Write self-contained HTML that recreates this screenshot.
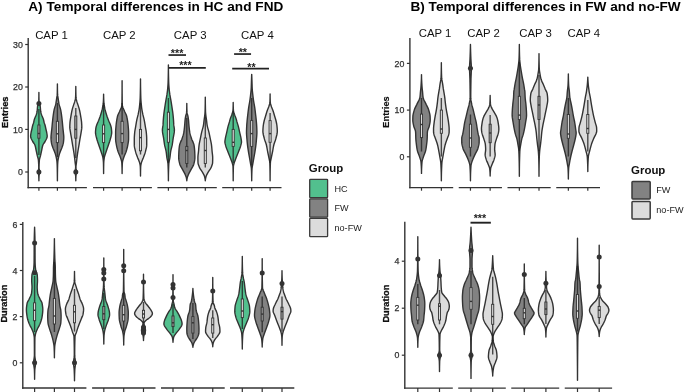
<!DOCTYPE html>
<html lang="en">
<head>
<meta charset="utf-8">
<title>Temporal differences</title>
<style>
html,body{margin:0;padding:0;background:#ffffff;}
body{width:685px;height:392px;overflow:hidden;}
svg{display:block;font-family:"Liberation Sans",Arial,Helvetica,sans-serif;}
</style>
</head>
<body>
<svg width="685" height="392" viewBox="0 0 685 392">
<rect x="0" y="0" width="685" height="392" fill="#ffffff"/>
<text x="28.2" y="11.2" font-size="13.6" font-weight="bold" text-anchor="start" fill="#000" textLength="255.2" lengthAdjust="spacing">A) Temporal differences in HC and FND</text>
<text x="410.4" y="11.1" font-size="13.6" font-weight="bold" text-anchor="start" fill="#000" textLength="270.3" lengthAdjust="spacing">B) Temporal differences in FW and no-FW</text>
<text x="51.5" y="39.4" font-size="11.4" font-weight="normal" text-anchor="middle" fill="#111">CAP 1</text>
<text x="119.3" y="39.4" font-size="11.4" font-weight="normal" text-anchor="middle" fill="#111">CAP 2</text>
<text x="190.2" y="39.4" font-size="11.4" font-weight="normal" text-anchor="middle" fill="#111">CAP 3</text>
<text x="257.4" y="39.4" font-size="11.4" font-weight="normal" text-anchor="middle" fill="#111">CAP 4</text>
<text x="435.0" y="36.9" font-size="11.35" font-weight="normal" text-anchor="middle" fill="#111">CAP 1</text>
<text x="483.6" y="36.9" font-size="11.35" font-weight="normal" text-anchor="middle" fill="#111">CAP 2</text>
<text x="535.5" y="36.9" font-size="11.35" font-weight="normal" text-anchor="middle" fill="#111">CAP 3</text>
<text x="583.8" y="36.9" font-size="11.35" font-weight="normal" text-anchor="middle" fill="#111">CAP 4</text>
<text x="8.1" y="112.2" font-size="9.25" font-weight="bold" text-anchor="middle" fill="#111" transform="rotate(-90 8.1 112.2)" stroke="#111" stroke-width="0.3">Entries</text>
<text x="7.0" y="303.6" font-size="9.25" font-weight="bold" text-anchor="middle" fill="#111" transform="rotate(-90 7.0 303.6)" stroke="#111" stroke-width="0.3">Duration</text>
<text x="389.2" y="112" font-size="9.25" font-weight="bold" text-anchor="middle" fill="#111" transform="rotate(-90 389.2 112)" stroke="#111" stroke-width="0.15">Entries</text>
<text x="389.3" y="303.6" font-size="9.25" font-weight="bold" text-anchor="middle" fill="#111" transform="rotate(-90 389.3 303.6)" stroke="#111" stroke-width="0.3">Duration</text>
<text x="308.85" y="171.6" font-size="11.45" font-weight="bold" text-anchor="start" fill="#111">Group</text>
<rect x="309.7" y="179.3" width="17.9" height="18.4" rx="0.8" fill="#52c08e" stroke="#3a3a3a" stroke-width="1.3"/>
<text x="334.5" y="191.5" font-size="9.1" font-weight="normal" text-anchor="start" fill="#222">HC</text>
<rect x="309.7" y="198.8" width="17.9" height="18.4" rx="0.8" fill="#828282" stroke="#3a3a3a" stroke-width="1.3"/>
<text x="334.5" y="211.0" font-size="9.1" font-weight="normal" text-anchor="start" fill="#222">FW</text>
<rect x="309.7" y="218.3" width="17.9" height="18.4" rx="0.8" fill="#dcdcdc" stroke="#3a3a3a" stroke-width="1.3"/>
<text x="334.5" y="230.5" font-size="9.1" font-weight="normal" text-anchor="start" fill="#222">no-FW</text>
<text x="631.05" y="173.5" font-size="11.45" font-weight="bold" text-anchor="start" fill="#111">Group</text>
<rect x="632.0" y="181.4" width="18.2" height="17.5" rx="0.8" fill="#828282" stroke="#3a3a3a" stroke-width="1.5"/>
<text x="656.3" y="192.9" font-size="9.1" font-weight="normal" text-anchor="start" fill="#222">FW</text>
<rect x="632.0" y="201.4" width="18.2" height="17.5" rx="0.8" fill="#dcdcdc" stroke="#3a3a3a" stroke-width="1.5"/>
<text x="656.3" y="212.9" font-size="9.1" font-weight="normal" text-anchor="start" fill="#222">no-FW</text>
<line x1="28.2" y1="38" x2="28.2" y2="188.29999999999998" stroke="#333333" stroke-width="1.4"/>
<line x1="25.2" y1="44.5" x2="28.2" y2="44.5" stroke="#333333" stroke-width="1.2"/>
<text x="22.8" y="47.65" font-size="8.8" font-weight="normal" text-anchor="end" fill="#303030" stroke="#303030" stroke-width="0.25">30</text>
<line x1="25.2" y1="87" x2="28.2" y2="87" stroke="#333333" stroke-width="1.2"/>
<text x="22.8" y="90.15" font-size="8.8" font-weight="normal" text-anchor="end" fill="#303030" stroke="#303030" stroke-width="0.25">20</text>
<line x1="25.2" y1="129.4" x2="28.2" y2="129.4" stroke="#333333" stroke-width="1.2"/>
<text x="22.8" y="132.55" font-size="8.8" font-weight="normal" text-anchor="end" fill="#303030" stroke="#303030" stroke-width="0.25">10</text>
<line x1="25.2" y1="172" x2="28.2" y2="172" stroke="#333333" stroke-width="1.2"/>
<text x="22.8" y="175.15" font-size="8.8" font-weight="normal" text-anchor="end" fill="#303030" stroke="#303030" stroke-width="0.25">0</text>
<line x1="27.5" y1="187.6" x2="86.9" y2="187.6" stroke="#333333" stroke-width="1.4"/>
<line x1="93.0" y1="187.6" x2="151.9" y2="187.6" stroke="#333333" stroke-width="1.4"/>
<line x1="157.4" y1="187.6" x2="216.8" y2="187.6" stroke="#333333" stroke-width="1.4"/>
<line x1="222.2" y1="187.6" x2="281.5" y2="187.6" stroke="#333333" stroke-width="1.4"/>
<line x1="38.9" y1="187.6" x2="38.9" y2="190.7" stroke="#333333" stroke-width="1.2"/>
<line x1="57.4" y1="187.6" x2="57.4" y2="190.7" stroke="#333333" stroke-width="1.2"/>
<line x1="75.8" y1="187.6" x2="75.8" y2="190.7" stroke="#333333" stroke-width="1.2"/>
<line x1="103.6" y1="187.6" x2="103.6" y2="190.7" stroke="#333333" stroke-width="1.2"/>
<line x1="122.1" y1="187.6" x2="122.1" y2="190.7" stroke="#333333" stroke-width="1.2"/>
<line x1="140.5" y1="187.6" x2="140.5" y2="190.7" stroke="#333333" stroke-width="1.2"/>
<line x1="168.4" y1="187.6" x2="168.4" y2="190.7" stroke="#333333" stroke-width="1.2"/>
<line x1="186.8" y1="187.6" x2="186.8" y2="190.7" stroke="#333333" stroke-width="1.2"/>
<line x1="205.3" y1="187.6" x2="205.3" y2="190.7" stroke="#333333" stroke-width="1.2"/>
<line x1="233.2" y1="187.6" x2="233.2" y2="190.7" stroke="#333333" stroke-width="1.2"/>
<line x1="251.7" y1="187.6" x2="251.7" y2="190.7" stroke="#333333" stroke-width="1.2"/>
<line x1="270.1" y1="187.6" x2="270.1" y2="190.7" stroke="#333333" stroke-width="1.2"/>
<path d="M38.90,92.50 L38.90,93.50 L38.89,94.50 L38.89,95.50 L38.88,96.50 L38.86,97.50 L38.84,98.50 L38.82,99.50 L38.79,100.50 L38.76,101.50 L38.72,102.50 L38.62,103.50 L38.24,104.50 L37.79,105.50 L37.56,106.50 L37.45,107.50 L37.38,108.50 L37.30,109.50 L37.20,110.50 L37.06,111.50 L36.87,112.50 L36.65,113.50 L36.35,114.50 L35.95,115.50 L35.52,116.50 L35.11,117.50 L34.68,118.50 L34.34,119.50 L34.10,120.50 L33.89,121.50 L33.66,122.50 L33.33,123.50 L32.96,124.50 L32.67,125.50 L32.43,126.50 L32.22,127.50 L32.01,128.50 L31.78,129.50 L31.54,130.50 L31.30,131.50 L31.09,132.50 L30.92,133.50 L30.76,134.50 L30.64,135.50 L30.61,136.50 L30.78,137.50 L31.15,138.50 L31.65,139.50 L32.19,140.50 L32.70,141.50 L33.35,142.50 L34.06,143.50 L34.68,144.50 L35.07,145.50 L35.35,146.50 L35.59,147.50 L35.79,148.50 L35.99,149.50 L36.19,150.50 L36.41,151.50 L36.63,152.50 L36.84,153.50 L37.06,154.50 L37.28,155.50 L37.53,156.50 L37.83,157.50 L38.12,158.50 L38.34,159.50 L38.44,160.50 L38.51,161.50 L38.58,162.50 L38.63,163.50 L38.68,164.50 L38.71,165.50 L38.74,166.50 L38.75,167.50 L38.73,168.50 L38.58,169.50 L38.37,170.50 L38.22,171.50 L38.22,172.50 L38.36,173.50 L38.55,174.50 L38.71,175.50 L38.78,176.50 L38.82,177.50 L38.86,178.50 L38.89,179.50 L38.90,180.50 L38.90,180.80 L38.90,180.80 L38.90,180.50 L38.91,179.50 L38.94,178.50 L38.98,177.50 L39.02,176.50 L39.09,175.50 L39.25,174.50 L39.44,173.50 L39.58,172.50 L39.58,171.50 L39.43,170.50 L39.22,169.50 L39.07,168.50 L39.05,167.50 L39.06,166.50 L39.09,165.50 L39.12,164.50 L39.17,163.50 L39.22,162.50 L39.29,161.50 L39.36,160.50 L39.46,159.50 L39.68,158.50 L39.97,157.50 L40.27,156.50 L40.52,155.50 L40.74,154.50 L40.96,153.50 L41.17,152.50 L41.39,151.50 L41.61,150.50 L41.81,149.50 L42.01,148.50 L42.21,147.50 L42.45,146.50 L42.73,145.50 L43.12,144.50 L43.74,143.50 L44.45,142.50 L45.10,141.50 L45.61,140.50 L46.15,139.50 L46.65,138.50 L47.02,137.50 L47.19,136.50 L47.16,135.50 L47.04,134.50 L46.88,133.50 L46.71,132.50 L46.50,131.50 L46.26,130.50 L46.02,129.50 L45.79,128.50 L45.58,127.50 L45.37,126.50 L45.13,125.50 L44.84,124.50 L44.47,123.50 L44.14,122.50 L43.91,121.50 L43.70,120.50 L43.46,119.50 L43.12,118.50 L42.69,117.50 L42.28,116.50 L41.85,115.50 L41.45,114.50 L41.15,113.50 L40.93,112.50 L40.74,111.50 L40.60,110.50 L40.50,109.50 L40.42,108.50 L40.35,107.50 L40.24,106.50 L40.01,105.50 L39.56,104.50 L39.18,103.50 L39.08,102.50 L39.04,101.50 L39.01,100.50 L38.98,99.50 L38.96,98.50 L38.94,97.50 L38.92,96.50 L38.91,95.50 L38.91,94.50 L38.90,93.50 L38.90,92.50Z" fill="#52c08e" stroke="#333333" stroke-width="1.4" stroke-linejoin="round"/>
<line x1="38.9" y1="109" x2="38.9" y2="155" stroke="#222" stroke-opacity="0.8" stroke-width="1.4"/>
<rect x="37.85" y="125" width="2.1" height="13.20" fill="#9a9a9a" stroke="#333333" stroke-width="0.9"/>
<line x1="37.85" y1="133.5" x2="39.95" y2="133.5" stroke="#333333" stroke-width="1.4"/>
<circle cx="38.9" cy="103.5" r="2.5" fill="#333333"/>
<circle cx="38.9" cy="172" r="2.5" fill="#333333"/>
<path d="M57.40,83.90 L57.40,84.90 L57.39,85.90 L57.39,86.90 L57.37,87.90 L57.36,88.90 L57.34,89.90 L57.32,90.90 L57.30,91.90 L57.27,92.90 L57.23,93.90 L57.20,94.90 L57.08,95.90 L56.90,96.90 L56.74,97.90 L56.59,98.90 L56.45,99.90 L56.30,100.90 L56.14,101.90 L55.97,102.90 L55.78,103.90 L55.54,104.90 L55.26,105.90 L54.95,106.90 L54.64,107.90 L54.36,108.90 L54.12,109.90 L53.93,110.90 L53.75,111.90 L53.59,112.90 L53.44,113.90 L53.30,114.90 L53.17,115.90 L53.04,116.90 L52.91,117.90 L52.80,118.90 L52.69,119.90 L52.59,120.90 L52.48,121.90 L52.38,122.90 L52.28,123.90 L52.19,124.90 L52.10,125.90 L52.01,126.90 L51.91,127.90 L51.81,128.90 L51.70,129.90 L51.58,130.90 L51.46,131.90 L51.36,132.90 L51.26,133.90 L51.15,134.90 L51.07,135.90 L51.01,136.90 L51.00,137.90 L51.04,138.90 L51.10,139.90 L51.20,140.90 L51.31,141.90 L51.44,142.90 L51.66,143.90 L51.95,144.90 L52.29,145.90 L52.65,146.90 L53.01,147.90 L53.40,148.90 L53.82,149.90 L54.25,150.90 L54.65,151.90 L55.00,152.90 L55.31,153.90 L55.61,154.90 L55.88,155.90 L56.13,156.90 L56.34,157.90 L56.54,158.90 L56.73,159.90 L56.89,160.90 L56.99,161.90 L57.06,162.90 L57.11,163.90 L57.16,164.90 L57.19,165.90 L57.22,166.90 L57.25,167.90 L57.27,168.90 L57.29,169.90 L57.30,170.90 L57.32,171.90 L57.34,172.90 L57.35,173.90 L57.36,174.90 L57.37,175.90 L57.38,176.90 L57.39,177.90 L57.40,178.90 L57.40,179.90 L57.40,180.80 L57.40,180.80 L57.40,179.90 L57.40,178.90 L57.41,177.90 L57.42,176.90 L57.43,175.90 L57.44,174.90 L57.45,173.90 L57.46,172.90 L57.48,171.90 L57.50,170.90 L57.51,169.90 L57.53,168.90 L57.55,167.90 L57.58,166.90 L57.61,165.90 L57.64,164.90 L57.69,163.90 L57.74,162.90 L57.81,161.90 L57.91,160.90 L58.07,159.90 L58.26,158.90 L58.46,157.90 L58.67,156.90 L58.92,155.90 L59.19,154.90 L59.49,153.90 L59.80,152.90 L60.15,151.90 L60.55,150.90 L60.98,149.90 L61.40,148.90 L61.79,147.90 L62.15,146.90 L62.51,145.90 L62.85,144.90 L63.14,143.90 L63.36,142.90 L63.49,141.90 L63.60,140.90 L63.70,139.90 L63.76,138.90 L63.80,137.90 L63.79,136.90 L63.73,135.90 L63.65,134.90 L63.54,133.90 L63.44,132.90 L63.34,131.90 L63.22,130.90 L63.10,129.90 L62.99,128.90 L62.89,127.90 L62.79,126.90 L62.70,125.90 L62.61,124.90 L62.52,123.90 L62.42,122.90 L62.32,121.90 L62.21,120.90 L62.11,119.90 L62.00,118.90 L61.89,117.90 L61.76,116.90 L61.63,115.90 L61.50,114.90 L61.36,113.90 L61.21,112.90 L61.05,111.90 L60.87,110.90 L60.68,109.90 L60.44,108.90 L60.16,107.90 L59.85,106.90 L59.54,105.90 L59.26,104.90 L59.02,103.90 L58.83,102.90 L58.66,101.90 L58.50,100.90 L58.35,99.90 L58.21,98.90 L58.06,97.90 L57.90,96.90 L57.72,95.90 L57.60,94.90 L57.57,93.90 L57.53,92.90 L57.50,91.90 L57.48,90.90 L57.46,89.90 L57.44,88.90 L57.43,87.90 L57.41,86.90 L57.41,85.90 L57.40,84.90 L57.40,83.90Z" fill="#828282" stroke="#333333" stroke-width="1.4" stroke-linejoin="round"/>
<line x1="57.4" y1="103" x2="57.4" y2="157" stroke="#222" stroke-opacity="0.8" stroke-width="1.4"/>
<rect x="56.35" y="121.3" width="2.1" height="21.30" fill="#dcdcdc" stroke="#333333" stroke-width="0.9"/>
<line x1="56.35" y1="133.8" x2="58.45" y2="133.8" stroke="#333333" stroke-width="1.4"/>
<path d="M75.80,86.40 L75.80,87.40 L75.79,88.40 L75.79,89.40 L75.77,90.40 L75.76,91.40 L75.74,92.40 L75.72,93.40 L75.70,94.40 L75.67,95.40 L75.63,96.40 L75.60,97.40 L75.49,98.40 L75.29,99.40 L75.05,100.40 L74.79,101.40 L74.48,102.40 L74.13,103.40 L73.81,104.40 L73.48,105.40 L73.15,106.40 L72.83,107.40 L72.52,108.40 L72.25,109.40 L72.01,110.40 L71.79,111.40 L71.59,112.40 L71.41,113.40 L71.23,114.40 L71.06,115.40 L70.90,116.40 L70.73,117.40 L70.56,118.40 L70.40,119.40 L70.25,120.40 L70.12,121.40 L70.02,122.40 L69.95,123.40 L69.89,124.40 L69.84,125.40 L69.81,126.40 L69.81,127.40 L69.87,128.40 L70.00,129.40 L70.15,130.40 L70.32,131.40 L70.49,132.40 L70.64,133.40 L70.81,134.40 L70.99,135.40 L71.17,136.40 L71.35,137.40 L71.53,138.40 L71.70,139.40 L71.86,140.40 L72.02,141.40 L72.18,142.40 L72.34,143.40 L72.50,144.40 L72.67,145.40 L72.84,146.40 L73.02,147.40 L73.19,148.40 L73.37,149.40 L73.54,150.40 L73.70,151.40 L73.85,152.40 L74.01,153.40 L74.15,154.40 L74.29,155.40 L74.43,156.40 L74.56,157.40 L74.69,158.40 L74.80,159.40 L74.91,160.40 L75.02,161.40 L75.13,162.40 L75.25,163.40 L75.39,164.40 L75.53,165.40 L75.63,166.40 L75.64,167.40 L75.54,168.40 L75.39,169.40 L75.23,170.40 L75.12,171.40 L75.11,172.40 L75.24,173.40 L75.43,174.40 L75.59,175.40 L75.67,176.40 L75.72,177.40 L75.76,178.40 L75.78,179.40 L75.80,180.40 L75.80,180.80 L75.80,180.80 L75.80,180.40 L75.82,179.40 L75.84,178.40 L75.88,177.40 L75.93,176.40 L76.01,175.40 L76.17,174.40 L76.36,173.40 L76.49,172.40 L76.48,171.40 L76.37,170.40 L76.21,169.40 L76.06,168.40 L75.96,167.40 L75.97,166.40 L76.07,165.40 L76.21,164.40 L76.35,163.40 L76.47,162.40 L76.58,161.40 L76.69,160.40 L76.80,159.40 L76.91,158.40 L77.04,157.40 L77.17,156.40 L77.31,155.40 L77.45,154.40 L77.59,153.40 L77.75,152.40 L77.90,151.40 L78.06,150.40 L78.23,149.40 L78.41,148.40 L78.58,147.40 L78.76,146.40 L78.93,145.40 L79.10,144.40 L79.26,143.40 L79.42,142.40 L79.58,141.40 L79.74,140.40 L79.90,139.40 L80.07,138.40 L80.25,137.40 L80.43,136.40 L80.61,135.40 L80.79,134.40 L80.96,133.40 L81.11,132.40 L81.28,131.40 L81.45,130.40 L81.60,129.40 L81.73,128.40 L81.79,127.40 L81.79,126.40 L81.76,125.40 L81.71,124.40 L81.65,123.40 L81.58,122.40 L81.48,121.40 L81.35,120.40 L81.20,119.40 L81.04,118.40 L80.87,117.40 L80.70,116.40 L80.54,115.40 L80.37,114.40 L80.19,113.40 L80.01,112.40 L79.81,111.40 L79.59,110.40 L79.35,109.40 L79.08,108.40 L78.77,107.40 L78.45,106.40 L78.12,105.40 L77.79,104.40 L77.47,103.40 L77.12,102.40 L76.81,101.40 L76.55,100.40 L76.31,99.40 L76.11,98.40 L76.00,97.40 L75.97,96.40 L75.93,95.40 L75.90,94.40 L75.88,93.40 L75.86,92.40 L75.84,91.40 L75.83,90.40 L75.81,89.40 L75.81,88.40 L75.80,87.40 L75.80,86.40Z" fill="#dcdcdc" stroke="#333333" stroke-width="1.4" stroke-linejoin="round"/>
<line x1="75.8" y1="108" x2="75.8" y2="158" stroke="#222" stroke-opacity="0.8" stroke-width="1.4"/>
<rect x="74.75" y="116" width="2.1" height="22.20" fill="#9a9a9a" stroke="#333333" stroke-width="0.9"/>
<line x1="74.75" y1="129.4" x2="76.85" y2="129.4" stroke="#333333" stroke-width="1.4"/>
<circle cx="75.8" cy="172" r="2.5" fill="#333333"/>
<path d="M103.60,94.20 L103.59,95.20 L103.58,96.20 L103.55,97.20 L103.52,98.20 L103.48,99.20 L103.44,100.20 L103.39,101.20 L103.32,102.20 L103.22,103.20 L103.10,104.20 L102.95,105.20 L102.80,106.20 L102.63,107.20 L102.45,108.20 L102.24,109.20 L101.99,110.20 L101.72,111.20 L101.44,112.20 L101.15,113.20 L100.85,114.20 L100.53,115.20 L100.20,116.20 L99.84,117.20 L99.48,118.20 L99.10,119.20 L98.72,120.20 L98.30,121.20 L97.85,122.20 L97.40,123.20 L96.98,124.20 L96.64,125.20 L96.32,126.20 L96.05,127.20 L95.87,128.20 L95.74,129.20 L95.63,130.20 L95.54,131.20 L95.50,132.20 L95.53,133.20 L95.65,134.20 L95.85,135.20 L96.09,136.20 L96.37,137.20 L96.64,138.20 L96.90,139.20 L97.19,140.20 L97.50,141.20 L97.84,142.20 L98.18,143.20 L98.53,144.20 L98.87,145.20 L99.21,146.20 L99.56,147.20 L99.91,148.20 L100.26,149.20 L100.60,150.20 L100.94,151.20 L101.27,152.20 L101.62,153.20 L101.96,154.20 L102.29,155.20 L102.58,156.20 L102.81,157.20 L102.98,158.20 L103.12,159.20 L103.24,160.20 L103.34,161.20 L103.42,162.20 L103.46,163.20 L103.48,164.20 L103.50,165.20 L103.53,166.20 L103.54,167.20 L103.56,168.20 L103.57,169.20 L103.58,170.20 L103.59,171.20 L103.60,172.20 L103.60,173.20 L103.60,173.60 L103.60,173.60 L103.60,173.20 L103.60,172.20 L103.61,171.20 L103.62,170.20 L103.63,169.20 L103.64,168.20 L103.66,167.20 L103.67,166.20 L103.70,165.20 L103.72,164.20 L103.74,163.20 L103.78,162.20 L103.86,161.20 L103.96,160.20 L104.08,159.20 L104.22,158.20 L104.39,157.20 L104.62,156.20 L104.91,155.20 L105.24,154.20 L105.58,153.20 L105.93,152.20 L106.26,151.20 L106.60,150.20 L106.94,149.20 L107.29,148.20 L107.64,147.20 L107.99,146.20 L108.33,145.20 L108.67,144.20 L109.02,143.20 L109.36,142.20 L109.70,141.20 L110.01,140.20 L110.30,139.20 L110.56,138.20 L110.83,137.20 L111.11,136.20 L111.35,135.20 L111.55,134.20 L111.67,133.20 L111.70,132.20 L111.66,131.20 L111.57,130.20 L111.46,129.20 L111.33,128.20 L111.15,127.20 L110.88,126.20 L110.56,125.20 L110.22,124.20 L109.80,123.20 L109.35,122.20 L108.90,121.20 L108.48,120.20 L108.10,119.20 L107.72,118.20 L107.36,117.20 L107.00,116.20 L106.67,115.20 L106.35,114.20 L106.05,113.20 L105.76,112.20 L105.48,111.20 L105.21,110.20 L104.96,109.20 L104.75,108.20 L104.57,107.20 L104.40,106.20 L104.25,105.20 L104.10,104.20 L103.98,103.20 L103.88,102.20 L103.81,101.20 L103.76,100.20 L103.72,99.20 L103.68,98.20 L103.65,97.20 L103.62,96.20 L103.61,95.20 L103.60,94.20Z" fill="#52c08e" stroke="#333333" stroke-width="1.4" stroke-linejoin="round"/>
<line x1="103.6" y1="103" x2="103.6" y2="157" stroke="#222" stroke-opacity="0.8" stroke-width="1.4"/>
<rect x="102.55" y="125" width="2.1" height="17.60" fill="#dcdcdc" stroke="#333333" stroke-width="0.9"/>
<line x1="102.55" y1="133.8" x2="104.65" y2="133.8" stroke="#333333" stroke-width="1.4"/>
<path d="M122.10,80.80 L122.10,81.80 L122.10,82.80 L122.10,83.80 L122.10,84.80 L122.09,85.80 L122.09,86.80 L122.09,87.80 L122.08,88.80 L122.08,89.80 L122.07,90.80 L122.07,91.80 L122.06,92.80 L122.05,93.80 L122.04,94.80 L122.04,95.80 L122.02,96.80 L122.01,97.80 L122.00,98.80 L121.99,99.80 L121.97,100.80 L121.96,101.80 L121.94,102.80 L121.92,103.80 L121.90,104.80 L121.82,105.80 L121.58,106.80 L121.21,107.80 L120.77,108.80 L120.32,109.80 L119.88,110.80 L119.46,111.80 L118.98,112.80 L118.48,113.80 L118.02,114.80 L117.66,115.80 L117.39,116.80 L117.16,117.80 L116.96,118.80 L116.79,119.80 L116.63,120.80 L116.49,121.80 L116.36,122.80 L116.24,123.80 L116.14,124.80 L116.04,125.80 L115.96,126.80 L115.87,127.80 L115.78,128.80 L115.71,129.80 L115.65,130.80 L115.61,131.80 L115.60,132.80 L115.60,133.80 L115.60,134.80 L115.60,135.80 L115.60,136.80 L115.60,137.80 L115.60,138.80 L115.63,139.80 L115.72,140.80 L115.85,141.80 L116.01,142.80 L116.19,143.80 L116.37,144.80 L116.55,145.80 L116.75,146.80 L116.99,147.80 L117.25,148.80 L117.52,149.80 L117.82,150.80 L118.13,151.80 L118.50,152.80 L118.92,153.80 L119.36,154.80 L119.79,155.80 L120.19,156.80 L120.53,157.80 L120.86,158.80 L121.19,159.80 L121.48,160.80 L121.70,161.80 L121.81,162.80 L121.86,163.80 L121.90,164.80 L121.95,165.80 L121.98,166.80 L122.02,167.80 L122.04,168.80 L122.06,169.80 L122.08,170.80 L122.09,171.80 L122.10,172.80 L122.10,173.60 L122.10,173.60 L122.10,172.80 L122.11,171.80 L122.12,170.80 L122.14,169.80 L122.16,168.80 L122.18,167.80 L122.22,166.80 L122.25,165.80 L122.30,164.80 L122.34,163.80 L122.39,162.80 L122.50,161.80 L122.72,160.80 L123.01,159.80 L123.34,158.80 L123.67,157.80 L124.01,156.80 L124.41,155.80 L124.84,154.80 L125.28,153.80 L125.70,152.80 L126.07,151.80 L126.38,150.80 L126.68,149.80 L126.95,148.80 L127.21,147.80 L127.45,146.80 L127.65,145.80 L127.83,144.80 L128.01,143.80 L128.19,142.80 L128.35,141.80 L128.48,140.80 L128.57,139.80 L128.60,138.80 L128.60,137.80 L128.60,136.80 L128.60,135.80 L128.60,134.80 L128.60,133.80 L128.60,132.80 L128.59,131.80 L128.55,130.80 L128.49,129.80 L128.42,128.80 L128.33,127.80 L128.24,126.80 L128.16,125.80 L128.06,124.80 L127.96,123.80 L127.84,122.80 L127.71,121.80 L127.57,120.80 L127.41,119.80 L127.24,118.80 L127.04,117.80 L126.81,116.80 L126.54,115.80 L126.18,114.80 L125.72,113.80 L125.22,112.80 L124.74,111.80 L124.32,110.80 L123.88,109.80 L123.43,108.80 L122.99,107.80 L122.62,106.80 L122.38,105.80 L122.30,104.80 L122.28,103.80 L122.26,102.80 L122.24,101.80 L122.23,100.80 L122.21,99.80 L122.20,98.80 L122.19,97.80 L122.18,96.80 L122.16,95.80 L122.16,94.80 L122.15,93.80 L122.14,92.80 L122.13,91.80 L122.13,90.80 L122.12,89.80 L122.12,88.80 L122.11,87.80 L122.11,86.80 L122.11,85.80 L122.10,84.80 L122.10,83.80 L122.10,82.80 L122.10,81.80 L122.10,80.80Z" fill="#828282" stroke="#333333" stroke-width="1.4" stroke-linejoin="round"/>
<line x1="122.1" y1="103" x2="122.1" y2="154.5" stroke="#222" stroke-opacity="0.8" stroke-width="1.4"/>
<rect x="121.05" y="121.3" width="2.1" height="21.30" fill="#dcdcdc" stroke="#333333" stroke-width="0.9"/>
<line x1="121.05" y1="133.6" x2="123.15" y2="133.6" stroke="#333333" stroke-width="1.4"/>
<path d="M140.50,78.90 L140.50,79.90 L140.50,80.90 L140.49,81.90 L140.48,82.90 L140.47,83.90 L140.46,84.90 L140.45,85.90 L140.44,86.90 L140.42,87.90 L140.40,88.90 L140.38,89.90 L140.36,90.90 L140.34,91.90 L140.32,92.90 L140.29,93.90 L140.27,94.90 L140.24,95.90 L140.21,96.90 L140.18,97.90 L140.14,98.90 L140.08,99.90 L140.02,100.90 L139.94,101.90 L139.86,102.90 L139.77,103.90 L139.67,104.90 L139.56,105.90 L139.46,106.90 L139.34,107.90 L139.20,108.90 L139.04,109.90 L138.86,110.90 L138.66,111.90 L138.46,112.90 L138.26,113.90 L138.04,114.90 L137.79,115.90 L137.54,116.90 L137.28,117.90 L137.04,118.90 L136.82,119.90 L136.63,120.90 L136.44,121.90 L136.27,122.90 L136.11,123.90 L135.94,124.90 L135.78,125.90 L135.62,126.90 L135.44,127.90 L135.26,128.90 L135.07,129.90 L134.90,130.90 L134.76,131.90 L134.66,132.90 L134.57,133.90 L134.49,134.90 L134.41,135.90 L134.35,136.90 L134.31,137.90 L134.30,138.90 L134.30,139.90 L134.30,140.90 L134.30,141.90 L134.30,142.90 L134.30,143.90 L134.30,144.90 L134.34,145.90 L134.46,146.90 L134.64,147.90 L134.87,148.90 L135.12,149.90 L135.38,150.90 L135.63,151.90 L135.93,152.90 L136.27,153.90 L136.64,154.90 L137.02,155.90 L137.40,156.90 L137.77,157.90 L138.17,158.90 L138.60,159.90 L139.01,160.90 L139.37,161.90 L139.65,162.90 L139.89,163.90 L140.10,164.90 L140.25,165.90 L140.32,166.90 L140.36,167.90 L140.39,168.90 L140.42,169.90 L140.44,170.90 L140.46,171.90 L140.48,172.90 L140.49,173.90 L140.50,174.90 L140.50,175.90 L140.50,176.00 L140.50,176.00 L140.50,175.90 L140.50,174.90 L140.51,173.90 L140.52,172.90 L140.54,171.90 L140.56,170.90 L140.58,169.90 L140.61,168.90 L140.64,167.90 L140.68,166.90 L140.75,165.90 L140.90,164.90 L141.11,163.90 L141.35,162.90 L141.63,161.90 L141.99,160.90 L142.40,159.90 L142.83,158.90 L143.23,157.90 L143.60,156.90 L143.98,155.90 L144.36,154.90 L144.73,153.90 L145.07,152.90 L145.37,151.90 L145.62,150.90 L145.88,149.90 L146.13,148.90 L146.36,147.90 L146.54,146.90 L146.66,145.90 L146.70,144.90 L146.70,143.90 L146.70,142.90 L146.70,141.90 L146.70,140.90 L146.70,139.90 L146.70,138.90 L146.69,137.90 L146.65,136.90 L146.59,135.90 L146.51,134.90 L146.43,133.90 L146.34,132.90 L146.24,131.90 L146.10,130.90 L145.93,129.90 L145.74,128.90 L145.56,127.90 L145.38,126.90 L145.22,125.90 L145.06,124.90 L144.89,123.90 L144.73,122.90 L144.56,121.90 L144.37,120.90 L144.18,119.90 L143.96,118.90 L143.72,117.90 L143.46,116.90 L143.21,115.90 L142.96,114.90 L142.74,113.90 L142.54,112.90 L142.34,111.90 L142.14,110.90 L141.96,109.90 L141.80,108.90 L141.66,107.90 L141.54,106.90 L141.44,105.90 L141.33,104.90 L141.23,103.90 L141.14,102.90 L141.06,101.90 L140.98,100.90 L140.92,99.90 L140.86,98.90 L140.82,97.90 L140.79,96.90 L140.76,95.90 L140.73,94.90 L140.71,93.90 L140.68,92.90 L140.66,91.90 L140.64,90.90 L140.62,89.90 L140.60,88.90 L140.58,87.90 L140.56,86.90 L140.55,85.90 L140.54,84.90 L140.53,83.90 L140.52,82.90 L140.51,81.90 L140.50,80.90 L140.50,79.90 L140.50,78.90Z" fill="#dcdcdc" stroke="#333333" stroke-width="1.4" stroke-linejoin="round"/>
<line x1="140.5" y1="103" x2="140.5" y2="154.5" stroke="#222" stroke-opacity="0.8" stroke-width="1.4"/>
<rect x="139.45" y="129.4" width="2.1" height="21.40" fill="#dcdcdc" stroke="#333333" stroke-width="0.9"/>
<line x1="139.45" y1="137.6" x2="141.55" y2="137.6" stroke="#333333" stroke-width="1.4"/>
<path d="M168.40,64.90 L168.40,65.90 L168.40,66.90 L168.39,67.90 L168.38,68.90 L168.37,69.90 L168.36,70.90 L168.34,71.90 L168.33,72.90 L168.31,73.90 L168.29,74.90 L168.27,75.90 L168.25,76.90 L168.22,77.90 L168.20,78.90 L168.17,79.90 L168.14,80.90 L168.11,81.90 L168.08,82.90 L168.03,83.90 L167.98,84.90 L167.91,85.90 L167.83,86.90 L167.75,87.90 L167.66,88.90 L167.56,89.90 L167.45,90.90 L167.32,91.90 L167.18,92.90 L167.03,93.90 L166.89,94.90 L166.72,95.90 L166.55,96.90 L166.36,97.90 L166.18,98.90 L165.99,99.90 L165.82,100.90 L165.65,101.90 L165.49,102.90 L165.33,103.90 L165.18,104.90 L165.03,105.90 L164.87,106.90 L164.72,107.90 L164.57,108.90 L164.42,109.90 L164.27,110.90 L164.13,111.90 L164.00,112.90 L163.88,113.90 L163.77,114.90 L163.66,115.90 L163.56,116.90 L163.47,117.90 L163.39,118.90 L163.31,119.90 L163.24,120.90 L163.19,121.90 L163.13,122.90 L163.08,123.90 L163.01,124.90 L162.90,125.90 L162.75,126.90 L162.59,127.90 L162.46,128.90 L162.40,129.90 L162.43,130.90 L162.51,131.90 L162.64,132.90 L162.80,133.90 L162.98,134.90 L163.18,135.90 L163.37,136.90 L163.56,137.90 L163.71,138.90 L163.86,139.90 L163.99,140.90 L164.12,141.90 L164.26,142.90 L164.42,143.90 L164.58,144.90 L164.78,145.90 L165.02,146.90 L165.28,147.90 L165.55,148.90 L165.79,149.90 L166.01,150.90 L166.18,151.90 L166.32,152.90 L166.44,153.90 L166.55,154.90 L166.67,155.90 L166.79,156.90 L166.93,157.90 L167.11,158.90 L167.32,159.90 L167.54,160.90 L167.74,161.90 L167.90,162.90 L167.99,163.90 L168.04,164.90 L168.08,165.90 L168.13,166.90 L168.16,167.90 L168.20,168.90 L168.23,169.90 L168.26,170.90 L168.29,171.90 L168.31,172.90 L168.33,173.90 L168.35,174.90 L168.37,175.90 L168.38,176.90 L168.39,177.90 L168.39,178.90 L168.40,179.90 L168.40,180.80 L168.40,180.80 L168.40,179.90 L168.41,178.90 L168.41,177.90 L168.42,176.90 L168.43,175.90 L168.45,174.90 L168.47,173.90 L168.49,172.90 L168.51,171.90 L168.54,170.90 L168.57,169.90 L168.60,168.90 L168.64,167.90 L168.67,166.90 L168.72,165.90 L168.76,164.90 L168.81,163.90 L168.90,162.90 L169.06,161.90 L169.26,160.90 L169.48,159.90 L169.69,158.90 L169.87,157.90 L170.01,156.90 L170.13,155.90 L170.25,154.90 L170.36,153.90 L170.48,152.90 L170.62,151.90 L170.79,150.90 L171.01,149.90 L171.25,148.90 L171.52,147.90 L171.78,146.90 L172.02,145.90 L172.22,144.90 L172.38,143.90 L172.54,142.90 L172.68,141.90 L172.81,140.90 L172.94,139.90 L173.09,138.90 L173.24,137.90 L173.43,136.90 L173.62,135.90 L173.82,134.90 L174.00,133.90 L174.16,132.90 L174.29,131.90 L174.37,130.90 L174.40,129.90 L174.34,128.90 L174.21,127.90 L174.05,126.90 L173.90,125.90 L173.79,124.90 L173.72,123.90 L173.67,122.90 L173.61,121.90 L173.56,120.90 L173.49,119.90 L173.41,118.90 L173.33,117.90 L173.24,116.90 L173.14,115.90 L173.03,114.90 L172.92,113.90 L172.80,112.90 L172.67,111.90 L172.53,110.90 L172.38,109.90 L172.23,108.90 L172.08,107.90 L171.93,106.90 L171.77,105.90 L171.62,104.90 L171.47,103.90 L171.31,102.90 L171.15,101.90 L170.98,100.90 L170.81,99.90 L170.62,98.90 L170.44,97.90 L170.25,96.90 L170.08,95.90 L169.91,94.90 L169.77,93.90 L169.62,92.90 L169.48,91.90 L169.35,90.90 L169.24,89.90 L169.14,88.90 L169.05,87.90 L168.97,86.90 L168.89,85.90 L168.82,84.90 L168.77,83.90 L168.72,82.90 L168.69,81.90 L168.66,80.90 L168.63,79.90 L168.60,78.90 L168.58,77.90 L168.55,76.90 L168.53,75.90 L168.51,74.90 L168.49,73.90 L168.47,72.90 L168.46,71.90 L168.44,70.90 L168.43,69.90 L168.42,68.90 L168.41,67.90 L168.40,66.90 L168.40,65.90 L168.40,64.90Z" fill="#52c08e" stroke="#333333" stroke-width="1.4" stroke-linejoin="round"/>
<line x1="168.4" y1="98" x2="168.4" y2="163" stroke="#222" stroke-opacity="0.8" stroke-width="1.4"/>
<rect x="167.35" y="112.2" width="2.1" height="30.10" fill="#dcdcdc" stroke="#333333" stroke-width="0.9"/>
<line x1="167.35" y1="129.4" x2="169.45" y2="129.4" stroke="#333333" stroke-width="1.4"/>
<path d="M186.80,103.40 L186.80,104.40 L186.79,105.40 L186.78,106.40 L186.76,107.40 L186.74,108.40 L186.71,109.40 L186.68,110.40 L186.64,111.40 L186.60,112.40 L186.44,113.40 L186.15,114.40 L185.84,115.40 L185.63,116.40 L185.45,117.40 L185.30,118.40 L185.17,119.40 L185.06,120.40 L184.97,121.40 L184.90,122.40 L184.83,123.40 L184.75,124.40 L184.66,125.40 L184.57,126.40 L184.47,127.40 L184.36,128.40 L184.25,129.40 L184.12,130.40 L183.98,131.40 L183.82,132.40 L183.62,133.40 L183.38,134.40 L183.10,135.40 L182.79,136.40 L182.46,137.40 L182.13,138.40 L181.78,139.40 L181.37,140.40 L180.91,141.40 L180.45,142.40 L180.05,143.40 L179.73,144.40 L179.53,145.40 L179.38,146.40 L179.25,147.40 L179.13,148.40 L179.04,149.40 L178.96,150.40 L178.90,151.40 L178.85,152.40 L178.81,153.40 L178.77,154.40 L178.73,155.40 L178.71,156.40 L178.70,157.40 L178.72,158.40 L178.81,159.40 L178.95,160.40 L179.14,161.40 L179.36,162.40 L179.60,163.40 L179.88,164.40 L180.27,165.40 L180.77,166.40 L181.33,167.40 L181.91,168.40 L182.48,169.40 L183.01,170.40 L183.55,171.40 L184.11,172.40 L184.65,173.40 L185.14,174.40 L185.56,175.40 L185.95,176.40 L186.25,177.40 L186.47,178.40 L186.65,179.40 L186.77,180.40 L186.80,180.80 L186.80,180.80 L186.83,180.40 L186.95,179.40 L187.13,178.40 L187.35,177.40 L187.65,176.40 L188.04,175.40 L188.46,174.40 L188.95,173.40 L189.49,172.40 L190.05,171.40 L190.59,170.40 L191.12,169.40 L191.69,168.40 L192.27,167.40 L192.83,166.40 L193.33,165.40 L193.72,164.40 L194.00,163.40 L194.24,162.40 L194.46,161.40 L194.65,160.40 L194.79,159.40 L194.88,158.40 L194.90,157.40 L194.89,156.40 L194.87,155.40 L194.83,154.40 L194.79,153.40 L194.75,152.40 L194.70,151.40 L194.64,150.40 L194.56,149.40 L194.47,148.40 L194.35,147.40 L194.22,146.40 L194.07,145.40 L193.87,144.40 L193.55,143.40 L193.15,142.40 L192.69,141.40 L192.23,140.40 L191.82,139.40 L191.47,138.40 L191.14,137.40 L190.81,136.40 L190.50,135.40 L190.22,134.40 L189.98,133.40 L189.78,132.40 L189.62,131.40 L189.48,130.40 L189.35,129.40 L189.24,128.40 L189.13,127.40 L189.03,126.40 L188.94,125.40 L188.85,124.40 L188.77,123.40 L188.70,122.40 L188.63,121.40 L188.54,120.40 L188.43,119.40 L188.30,118.40 L188.15,117.40 L187.97,116.40 L187.76,115.40 L187.45,114.40 L187.16,113.40 L187.00,112.40 L186.96,111.40 L186.92,110.40 L186.89,109.40 L186.86,108.40 L186.84,107.40 L186.82,106.40 L186.81,105.40 L186.80,104.40 L186.80,103.40Z" fill="#828282" stroke="#333333" stroke-width="1.4" stroke-linejoin="round"/>
<line x1="186.8" y1="118" x2="186.8" y2="167.6" stroke="#222" stroke-opacity="0.8" stroke-width="1.4"/>
<rect x="185.75" y="146.4" width="2.1" height="17.10" fill="#9a9a9a" stroke="#333333" stroke-width="0.9"/>
<line x1="185.75" y1="150.5" x2="187.85" y2="150.5" stroke="#333333" stroke-width="1.4"/>
<path d="M205.30,97.10 L205.30,98.10 L205.30,99.10 L205.29,100.10 L205.28,101.10 L205.27,102.10 L205.26,103.10 L205.25,104.10 L205.23,105.10 L205.21,106.10 L205.19,107.10 L205.17,108.10 L205.15,109.10 L205.12,110.10 L205.10,111.10 L205.05,112.10 L204.98,113.10 L204.89,114.10 L204.79,115.10 L204.67,116.10 L204.53,117.10 L204.38,118.10 L204.23,119.10 L204.09,120.10 L203.97,121.10 L203.86,122.10 L203.75,123.10 L203.63,124.10 L203.48,125.10 L203.29,126.10 L203.06,127.10 L202.80,128.10 L202.51,129.10 L202.23,130.10 L201.95,131.10 L201.69,132.10 L201.47,133.10 L201.25,134.10 L201.04,135.10 L200.84,136.10 L200.64,137.10 L200.44,138.10 L200.24,139.10 L200.03,140.10 L199.81,141.10 L199.60,142.10 L199.40,143.10 L199.23,144.10 L199.09,145.10 L198.97,146.10 L198.87,147.10 L198.78,148.10 L198.70,149.10 L198.62,150.10 L198.53,151.10 L198.43,152.10 L198.31,153.10 L198.18,154.10 L198.06,155.10 L197.97,156.10 L197.91,157.10 L197.90,158.10 L197.91,159.10 L197.92,160.10 L197.95,161.10 L197.98,162.10 L198.03,163.10 L198.22,164.10 L198.54,165.10 L198.95,166.10 L199.38,167.10 L199.84,168.10 L200.42,169.10 L201.08,170.10 L201.77,171.10 L202.42,172.10 L202.97,173.10 L203.52,174.10 L204.02,175.10 L204.41,176.10 L204.68,177.10 L204.93,178.10 L205.12,179.10 L205.26,180.10 L205.30,180.80 L205.30,180.80 L205.34,180.10 L205.48,179.10 L205.67,178.10 L205.92,177.10 L206.19,176.10 L206.58,175.10 L207.08,174.10 L207.63,173.10 L208.18,172.10 L208.83,171.10 L209.52,170.10 L210.18,169.10 L210.76,168.10 L211.22,167.10 L211.65,166.10 L212.06,165.10 L212.38,164.10 L212.57,163.10 L212.62,162.10 L212.65,161.10 L212.68,160.10 L212.69,159.10 L212.70,158.10 L212.69,157.10 L212.63,156.10 L212.54,155.10 L212.42,154.10 L212.29,153.10 L212.17,152.10 L212.07,151.10 L211.98,150.10 L211.90,149.10 L211.82,148.10 L211.73,147.10 L211.63,146.10 L211.51,145.10 L211.37,144.10 L211.20,143.10 L211.00,142.10 L210.79,141.10 L210.57,140.10 L210.36,139.10 L210.16,138.10 L209.96,137.10 L209.76,136.10 L209.56,135.10 L209.35,134.10 L209.13,133.10 L208.91,132.10 L208.65,131.10 L208.37,130.10 L208.09,129.10 L207.80,128.10 L207.54,127.10 L207.31,126.10 L207.12,125.10 L206.97,124.10 L206.85,123.10 L206.74,122.10 L206.63,121.10 L206.51,120.10 L206.37,119.10 L206.22,118.10 L206.07,117.10 L205.93,116.10 L205.81,115.10 L205.71,114.10 L205.62,113.10 L205.55,112.10 L205.50,111.10 L205.48,110.10 L205.45,109.10 L205.43,108.10 L205.41,107.10 L205.39,106.10 L205.37,105.10 L205.35,104.10 L205.34,103.10 L205.33,102.10 L205.32,101.10 L205.31,100.10 L205.30,99.10 L205.30,98.10 L205.30,97.10Z" fill="#dcdcdc" stroke="#333333" stroke-width="1.4" stroke-linejoin="round"/>
<line x1="205.3" y1="117" x2="205.3" y2="167.6" stroke="#222" stroke-opacity="0.8" stroke-width="1.4"/>
<rect x="204.25" y="138" width="2.1" height="25.50" fill="#dcdcdc" stroke="#333333" stroke-width="0.9"/>
<line x1="204.25" y1="150.5" x2="206.35" y2="150.5" stroke="#333333" stroke-width="1.4"/>
<path d="M233.20,102.40 L233.20,103.40 L233.19,104.40 L233.17,105.40 L233.14,106.40 L233.11,107.40 L233.08,108.40 L233.03,109.40 L232.97,110.40 L232.78,111.40 L232.50,112.40 L232.19,113.40 L231.88,114.40 L231.52,115.40 L231.13,116.40 L230.75,117.40 L230.40,118.40 L230.10,119.40 L229.83,120.40 L229.57,121.40 L229.28,122.40 L228.97,123.40 L228.66,124.40 L228.35,125.40 L228.07,126.40 L227.83,127.40 L227.59,128.40 L227.37,129.40 L227.16,130.40 L226.94,131.40 L226.72,132.40 L226.49,133.40 L226.25,134.40 L226.01,135.40 L225.77,136.40 L225.55,137.40 L225.37,138.40 L225.20,139.40 L225.04,140.40 L224.92,141.40 L224.92,142.40 L225.08,143.40 L225.34,144.40 L225.60,145.40 L225.90,146.40 L226.25,147.40 L226.62,148.40 L227.02,149.40 L227.41,150.40 L227.80,151.40 L228.19,152.40 L228.58,153.40 L228.99,154.40 L229.40,155.40 L229.80,156.40 L230.19,157.40 L230.57,158.40 L230.95,159.40 L231.33,160.40 L231.69,161.40 L232.01,162.40 L232.31,163.40 L232.61,164.40 L232.86,165.40 L233.00,166.40 L233.03,167.40 L233.06,168.40 L233.08,169.40 L233.10,170.40 L233.12,171.40 L233.14,172.40 L233.15,173.40 L233.17,174.40 L233.18,175.40 L233.18,176.40 L233.19,177.40 L233.20,178.40 L233.20,179.40 L233.20,180.40 L233.20,180.80 L233.20,180.80 L233.20,180.40 L233.20,179.40 L233.20,178.40 L233.21,177.40 L233.22,176.40 L233.22,175.40 L233.23,174.40 L233.25,173.40 L233.26,172.40 L233.28,171.40 L233.30,170.40 L233.32,169.40 L233.34,168.40 L233.37,167.40 L233.40,166.40 L233.54,165.40 L233.79,164.40 L234.09,163.40 L234.39,162.40 L234.71,161.40 L235.07,160.40 L235.45,159.40 L235.83,158.40 L236.21,157.40 L236.60,156.40 L237.00,155.40 L237.41,154.40 L237.82,153.40 L238.21,152.40 L238.60,151.40 L238.99,150.40 L239.38,149.40 L239.78,148.40 L240.15,147.40 L240.50,146.40 L240.80,145.40 L241.06,144.40 L241.32,143.40 L241.48,142.40 L241.48,141.40 L241.36,140.40 L241.20,139.40 L241.03,138.40 L240.85,137.40 L240.63,136.40 L240.39,135.40 L240.15,134.40 L239.91,133.40 L239.68,132.40 L239.46,131.40 L239.24,130.40 L239.03,129.40 L238.81,128.40 L238.57,127.40 L238.33,126.40 L238.05,125.40 L237.74,124.40 L237.43,123.40 L237.12,122.40 L236.83,121.40 L236.57,120.40 L236.30,119.40 L236.00,118.40 L235.65,117.40 L235.27,116.40 L234.88,115.40 L234.52,114.40 L234.21,113.40 L233.90,112.40 L233.62,111.40 L233.43,110.40 L233.37,109.40 L233.32,108.40 L233.29,107.40 L233.26,106.40 L233.23,105.40 L233.21,104.40 L233.20,103.40 L233.20,102.40Z" fill="#52c08e" stroke="#333333" stroke-width="1.4" stroke-linejoin="round"/>
<line x1="233.2" y1="110.5" x2="233.2" y2="163" stroke="#222" stroke-opacity="0.8" stroke-width="1.4"/>
<rect x="232.15" y="129.4" width="2.1" height="17.00" fill="#dcdcdc" stroke="#333333" stroke-width="0.9"/>
<line x1="232.15" y1="142.3" x2="234.25" y2="142.3" stroke="#333333" stroke-width="1.4"/>
<path d="M251.70,74.40 L251.66,75.40 L251.62,76.40 L251.58,77.40 L251.54,78.40 L251.50,79.40 L251.47,80.40 L251.43,81.40 L251.40,82.40 L251.37,83.40 L251.34,84.40 L251.31,85.40 L251.28,86.40 L251.25,87.40 L251.20,88.40 L251.15,89.40 L251.07,90.40 L250.97,91.40 L250.87,92.40 L250.76,93.40 L250.64,94.40 L250.53,95.40 L250.42,96.40 L250.29,97.40 L250.16,98.40 L250.03,99.40 L249.89,100.40 L249.74,101.40 L249.57,102.40 L249.40,103.40 L249.21,104.40 L249.03,105.40 L248.86,106.40 L248.70,107.40 L248.56,108.40 L248.42,109.40 L248.30,110.40 L248.17,111.40 L248.05,112.40 L247.94,113.40 L247.82,114.40 L247.70,115.40 L247.58,116.40 L247.47,117.40 L247.36,118.40 L247.26,119.40 L247.16,120.40 L247.07,121.40 L246.98,122.40 L246.89,123.40 L246.81,124.40 L246.75,125.40 L246.70,126.40 L246.65,127.40 L246.60,128.40 L246.56,129.40 L246.53,130.40 L246.51,131.40 L246.50,132.40 L246.51,133.40 L246.56,134.40 L246.62,135.40 L246.70,136.40 L246.78,137.40 L246.87,138.40 L246.95,139.40 L247.03,140.40 L247.12,141.40 L247.22,142.40 L247.32,143.40 L247.43,144.40 L247.55,145.40 L247.67,146.40 L247.80,147.40 L247.95,148.40 L248.09,149.40 L248.25,150.40 L248.40,151.40 L248.56,152.40 L248.73,153.40 L248.91,154.40 L249.09,155.40 L249.27,156.40 L249.45,157.40 L249.62,158.40 L249.80,159.40 L249.98,160.40 L250.15,161.40 L250.33,162.40 L250.50,163.40 L250.67,164.40 L250.86,165.40 L251.06,166.40 L251.23,167.40 L251.36,168.40 L251.42,169.40 L251.46,170.40 L251.51,171.40 L251.54,172.40 L251.58,173.40 L251.61,174.40 L251.63,175.40 L251.66,176.40 L251.67,177.40 L251.69,178.40 L251.70,179.40 L251.70,180.40 L251.70,180.80 L251.70,180.80 L251.70,180.40 L251.70,179.40 L251.71,178.40 L251.73,177.40 L251.74,176.40 L251.77,175.40 L251.79,174.40 L251.82,173.40 L251.86,172.40 L251.89,171.40 L251.94,170.40 L251.98,169.40 L252.04,168.40 L252.17,167.40 L252.34,166.40 L252.54,165.40 L252.73,164.40 L252.90,163.40 L253.07,162.40 L253.25,161.40 L253.42,160.40 L253.60,159.40 L253.78,158.40 L253.95,157.40 L254.13,156.40 L254.31,155.40 L254.49,154.40 L254.67,153.40 L254.84,152.40 L255.00,151.40 L255.15,150.40 L255.31,149.40 L255.45,148.40 L255.60,147.40 L255.73,146.40 L255.85,145.40 L255.97,144.40 L256.08,143.40 L256.18,142.40 L256.28,141.40 L256.37,140.40 L256.45,139.40 L256.53,138.40 L256.62,137.40 L256.70,136.40 L256.78,135.40 L256.84,134.40 L256.89,133.40 L256.90,132.40 L256.89,131.40 L256.87,130.40 L256.84,129.40 L256.80,128.40 L256.75,127.40 L256.70,126.40 L256.65,125.40 L256.59,124.40 L256.51,123.40 L256.42,122.40 L256.33,121.40 L256.24,120.40 L256.14,119.40 L256.04,118.40 L255.93,117.40 L255.82,116.40 L255.70,115.40 L255.58,114.40 L255.46,113.40 L255.35,112.40 L255.23,111.40 L255.10,110.40 L254.98,109.40 L254.84,108.40 L254.70,107.40 L254.54,106.40 L254.37,105.40 L254.19,104.40 L254.00,103.40 L253.83,102.40 L253.66,101.40 L253.51,100.40 L253.37,99.40 L253.24,98.40 L253.11,97.40 L252.98,96.40 L252.87,95.40 L252.76,94.40 L252.64,93.40 L252.53,92.40 L252.43,91.40 L252.33,90.40 L252.25,89.40 L252.20,88.40 L252.15,87.40 L252.12,86.40 L252.09,85.40 L252.06,84.40 L252.03,83.40 L252.00,82.40 L251.97,81.40 L251.93,80.40 L251.90,79.40 L251.86,78.40 L251.82,77.40 L251.78,76.40 L251.74,75.40 L251.70,74.40Z" fill="#828282" stroke="#333333" stroke-width="1.4" stroke-linejoin="round"/>
<line x1="251.7" y1="98" x2="251.7" y2="165.5" stroke="#222" stroke-opacity="0.8" stroke-width="1.4"/>
<rect x="250.65" y="120.6" width="2.1" height="25.80" fill="#dcdcdc" stroke="#333333" stroke-width="0.9"/>
<line x1="250.65" y1="133.6" x2="252.75" y2="133.6" stroke="#333333" stroke-width="1.4"/>
<path d="M270.10,94.00 L270.10,95.00 L270.09,96.00 L270.08,97.00 L270.06,98.00 L270.03,99.00 L270.00,100.00 L269.96,101.00 L269.92,102.00 L269.84,103.00 L269.62,104.00 L269.32,105.00 L269.00,106.00 L268.67,107.00 L268.28,108.00 L267.87,109.00 L267.46,110.00 L267.10,111.00 L266.78,112.00 L266.47,113.00 L266.18,114.00 L265.89,115.00 L265.60,116.00 L265.30,117.00 L264.99,118.00 L264.68,119.00 L264.40,120.00 L264.14,121.00 L263.93,122.00 L263.71,123.00 L263.52,124.00 L263.36,125.00 L263.23,126.00 L263.14,127.00 L263.05,128.00 L262.98,129.00 L262.93,130.00 L262.90,131.00 L262.92,132.00 L263.02,133.00 L263.19,134.00 L263.40,135.00 L263.66,136.00 L263.92,137.00 L264.19,138.00 L264.45,139.00 L264.75,140.00 L265.08,141.00 L265.44,142.00 L265.80,143.00 L266.13,144.00 L266.40,145.00 L266.62,146.00 L266.82,147.00 L267.00,148.00 L267.17,149.00 L267.34,150.00 L267.52,151.00 L267.72,152.00 L267.93,153.00 L268.14,154.00 L268.35,155.00 L268.56,156.00 L268.76,157.00 L268.96,158.00 L269.18,159.00 L269.40,160.00 L269.61,161.00 L269.75,162.00 L269.81,163.00 L269.84,164.00 L269.88,165.00 L269.91,166.00 L269.93,167.00 L269.96,168.00 L269.98,169.00 L270.00,170.00 L270.02,171.00 L270.04,172.00 L270.05,173.00 L270.06,174.00 L270.07,175.00 L270.08,176.00 L270.09,177.00 L270.09,178.00 L270.10,179.00 L270.10,180.00 L270.10,180.80 L270.10,180.80 L270.10,180.00 L270.10,179.00 L270.11,178.00 L270.11,177.00 L270.12,176.00 L270.13,175.00 L270.14,174.00 L270.15,173.00 L270.16,172.00 L270.18,171.00 L270.20,170.00 L270.22,169.00 L270.24,168.00 L270.27,167.00 L270.29,166.00 L270.32,165.00 L270.36,164.00 L270.39,163.00 L270.45,162.00 L270.59,161.00 L270.80,160.00 L271.02,159.00 L271.24,158.00 L271.44,157.00 L271.64,156.00 L271.85,155.00 L272.06,154.00 L272.27,153.00 L272.48,152.00 L272.68,151.00 L272.86,150.00 L273.03,149.00 L273.20,148.00 L273.38,147.00 L273.58,146.00 L273.80,145.00 L274.07,144.00 L274.40,143.00 L274.76,142.00 L275.12,141.00 L275.45,140.00 L275.75,139.00 L276.01,138.00 L276.28,137.00 L276.54,136.00 L276.80,135.00 L277.01,134.00 L277.18,133.00 L277.28,132.00 L277.30,131.00 L277.27,130.00 L277.22,129.00 L277.15,128.00 L277.06,127.00 L276.97,126.00 L276.84,125.00 L276.68,124.00 L276.49,123.00 L276.27,122.00 L276.06,121.00 L275.80,120.00 L275.52,119.00 L275.21,118.00 L274.90,117.00 L274.60,116.00 L274.31,115.00 L274.02,114.00 L273.73,113.00 L273.42,112.00 L273.10,111.00 L272.74,110.00 L272.33,109.00 L271.92,108.00 L271.53,107.00 L271.20,106.00 L270.88,105.00 L270.58,104.00 L270.36,103.00 L270.28,102.00 L270.24,101.00 L270.20,100.00 L270.17,99.00 L270.14,98.00 L270.12,97.00 L270.11,96.00 L270.10,95.00 L270.10,94.00Z" fill="#dcdcdc" stroke="#333333" stroke-width="1.4" stroke-linejoin="round"/>
<line x1="270.1" y1="113" x2="270.1" y2="163" stroke="#222" stroke-opacity="0.8" stroke-width="1.4"/>
<rect x="269.05" y="120.6" width="2.1" height="21.70" fill="#dcdcdc" stroke="#333333" stroke-width="0.9"/>
<line x1="269.05" y1="133.6" x2="271.15" y2="133.6" stroke="#333333" stroke-width="1.4"/>
<line x1="168.5" y1="55.05" x2="186" y2="55.05" stroke="#222" stroke-width="1.7"/>
<text x="177.1" y="56.9" font-size="10.7" font-weight="bold" text-anchor="middle" fill="#1c1c1c">***</text>
<line x1="168.5" y1="67.9" x2="205.8" y2="67.9" stroke="#222" stroke-width="1.7"/>
<text x="185.4" y="69.0" font-size="10.7" font-weight="bold" text-anchor="middle" fill="#1c1c1c">***</text>
<line x1="234.1" y1="54.05" x2="251.05" y2="54.05" stroke="#222" stroke-width="1.7"/>
<text x="242.8" y="55.75" font-size="10.7" font-weight="bold" text-anchor="middle" fill="#1c1c1c">**</text>
<line x1="232.2" y1="68.6" x2="269" y2="68.6" stroke="#222" stroke-width="1.7"/>
<text x="251.4" y="71.2" font-size="10.7" font-weight="bold" text-anchor="middle" fill="#1c1c1c">**</text>
<line x1="22.8" y1="221.9" x2="22.8" y2="388.7" stroke="#333333" stroke-width="1.4"/>
<line x1="19.8" y1="224.4" x2="22.8" y2="224.4" stroke="#333333" stroke-width="1.2"/>
<text x="17.5" y="227.55" font-size="8.8" font-weight="normal" text-anchor="end" fill="#303030" stroke="#303030" stroke-width="0.25">6</text>
<line x1="19.8" y1="270.5" x2="22.8" y2="270.5" stroke="#333333" stroke-width="1.2"/>
<text x="17.5" y="273.65" font-size="8.8" font-weight="normal" text-anchor="end" fill="#303030" stroke="#303030" stroke-width="0.25">4</text>
<line x1="19.8" y1="316.6" x2="22.8" y2="316.6" stroke="#333333" stroke-width="1.2"/>
<text x="17.5" y="319.75" font-size="8.8" font-weight="normal" text-anchor="end" fill="#303030" stroke="#303030" stroke-width="0.25">2</text>
<line x1="19.8" y1="362.8" x2="22.8" y2="362.8" stroke="#333333" stroke-width="1.2"/>
<text x="17.5" y="365.95" font-size="8.8" font-weight="normal" text-anchor="end" fill="#303030" stroke="#303030" stroke-width="0.25">0</text>
<line x1="22.1" y1="388.0" x2="86.4" y2="388.0" stroke="#333333" stroke-width="1.4"/>
<line x1="92.1" y1="388.0" x2="155.5" y2="388.0" stroke="#333333" stroke-width="1.4"/>
<line x1="161" y1="388.0" x2="224.7" y2="388.0" stroke="#333333" stroke-width="1.4"/>
<line x1="230" y1="388.0" x2="294.3" y2="388.0" stroke="#333333" stroke-width="1.4"/>
<line x1="34.6" y1="388.0" x2="34.6" y2="392.5" stroke="#333333" stroke-width="1.2"/>
<line x1="54.4" y1="388.0" x2="54.4" y2="392.5" stroke="#333333" stroke-width="1.2"/>
<line x1="74.5" y1="388.0" x2="74.5" y2="392.5" stroke="#333333" stroke-width="1.2"/>
<line x1="103.8" y1="388.0" x2="103.8" y2="392.5" stroke="#333333" stroke-width="1.2"/>
<line x1="123.7" y1="388.0" x2="123.7" y2="392.5" stroke="#333333" stroke-width="1.2"/>
<line x1="143.5" y1="388.0" x2="143.5" y2="392.5" stroke="#333333" stroke-width="1.2"/>
<line x1="173" y1="388.0" x2="173" y2="392.5" stroke="#333333" stroke-width="1.2"/>
<line x1="192.9" y1="388.0" x2="192.9" y2="392.5" stroke="#333333" stroke-width="1.2"/>
<line x1="212.75" y1="388.0" x2="212.75" y2="392.5" stroke="#333333" stroke-width="1.2"/>
<line x1="242.3" y1="388.0" x2="242.3" y2="392.5" stroke="#333333" stroke-width="1.2"/>
<line x1="262.2" y1="388.0" x2="262.2" y2="392.5" stroke="#333333" stroke-width="1.2"/>
<line x1="282" y1="388.0" x2="282" y2="392.5" stroke="#333333" stroke-width="1.2"/>
<path d="M34.60,227.30 L34.57,228.30 L34.53,229.30 L34.50,230.30 L34.47,231.30 L34.43,232.30 L34.40,233.30 L34.37,234.30 L34.35,235.30 L34.32,236.30 L34.29,237.30 L34.27,238.30 L34.25,239.30 L34.23,240.30 L34.22,241.30 L34.21,242.30 L34.20,243.30 L34.19,244.30 L34.18,245.30 L34.18,246.30 L34.17,247.30 L34.17,248.30 L34.16,249.30 L34.16,250.30 L34.16,251.30 L34.16,252.30 L34.15,253.30 L34.15,254.30 L34.15,255.30 L34.14,256.30 L34.14,257.30 L34.13,258.30 L34.12,259.30 L34.12,260.30 L34.11,261.30 L34.10,262.30 L34.07,263.30 L34.03,264.30 L33.98,265.30 L33.91,266.30 L33.83,267.30 L33.73,268.30 L33.62,269.30 L33.43,270.30 L33.08,271.30 L32.65,272.30 L32.27,273.30 L32.02,274.30 L31.93,275.30 L31.86,276.30 L31.80,277.30 L31.75,278.30 L31.72,279.30 L31.70,280.30 L31.71,281.30 L31.74,282.30 L31.81,283.30 L31.88,284.30 L31.94,285.30 L31.99,286.30 L32.00,287.30 L31.97,288.30 L31.92,289.30 L31.85,290.30 L31.75,291.30 L31.64,292.30 L31.51,293.30 L31.31,294.30 L30.95,295.30 L30.50,296.30 L30.01,297.30 L29.54,298.30 L29.06,299.30 L28.49,300.30 L27.92,301.30 L27.44,302.30 L27.12,303.30 L26.94,304.30 L26.78,305.30 L26.64,306.30 L26.52,307.30 L26.44,308.30 L26.40,309.30 L26.41,310.30 L26.45,311.30 L26.53,312.30 L26.64,313.30 L26.77,314.30 L26.91,315.30 L27.06,316.30 L27.22,317.30 L27.43,318.30 L27.68,319.30 L27.97,320.30 L28.29,321.30 L28.63,322.30 L28.99,323.30 L29.43,324.30 L29.93,325.30 L30.46,326.30 L30.99,327.30 L31.48,328.30 L31.93,329.30 L32.37,330.30 L32.80,331.30 L33.20,332.30 L33.52,333.30 L33.76,334.30 L33.97,335.30 L34.15,336.30 L34.27,337.30 L34.30,338.30 L34.32,339.30 L34.33,340.30 L34.34,341.30 L34.35,342.30 L34.36,343.30 L34.37,344.30 L34.37,345.30 L34.38,346.30 L34.38,347.30 L34.39,348.30 L34.39,349.30 L34.39,350.30 L34.40,351.30 L34.40,352.30 L34.40,353.30 L34.40,354.30 L34.40,355.30 L34.34,356.30 L34.23,357.30 L34.09,358.30 L33.94,359.30 L33.79,360.30 L33.68,361.30 L33.61,362.30 L33.61,363.30 L33.68,364.30 L33.80,365.30 L33.95,366.30 L34.11,367.30 L34.25,368.30 L34.36,369.30 L34.41,370.30 L34.45,371.30 L34.48,372.30 L34.51,373.30 L34.54,374.30 L34.56,375.30 L34.58,376.30 L34.59,377.30 L34.60,378.30 L34.60,379.20 L34.60,379.20 L34.60,378.30 L34.61,377.30 L34.62,376.30 L34.64,375.30 L34.66,374.30 L34.69,373.30 L34.72,372.30 L34.75,371.30 L34.79,370.30 L34.84,369.30 L34.95,368.30 L35.09,367.30 L35.25,366.30 L35.40,365.30 L35.52,364.30 L35.59,363.30 L35.59,362.30 L35.52,361.30 L35.41,360.30 L35.26,359.30 L35.11,358.30 L34.97,357.30 L34.86,356.30 L34.80,355.30 L34.80,354.30 L34.80,353.30 L34.80,352.30 L34.80,351.30 L34.81,350.30 L34.81,349.30 L34.81,348.30 L34.82,347.30 L34.82,346.30 L34.83,345.30 L34.83,344.30 L34.84,343.30 L34.85,342.30 L34.86,341.30 L34.87,340.30 L34.88,339.30 L34.90,338.30 L34.93,337.30 L35.05,336.30 L35.23,335.30 L35.44,334.30 L35.68,333.30 L36.00,332.30 L36.40,331.30 L36.83,330.30 L37.27,329.30 L37.72,328.30 L38.21,327.30 L38.74,326.30 L39.27,325.30 L39.77,324.30 L40.21,323.30 L40.57,322.30 L40.91,321.30 L41.23,320.30 L41.52,319.30 L41.77,318.30 L41.98,317.30 L42.14,316.30 L42.29,315.30 L42.43,314.30 L42.56,313.30 L42.67,312.30 L42.75,311.30 L42.79,310.30 L42.80,309.30 L42.76,308.30 L42.68,307.30 L42.56,306.30 L42.42,305.30 L42.26,304.30 L42.08,303.30 L41.76,302.30 L41.28,301.30 L40.71,300.30 L40.14,299.30 L39.66,298.30 L39.19,297.30 L38.70,296.30 L38.25,295.30 L37.89,294.30 L37.69,293.30 L37.56,292.30 L37.45,291.30 L37.35,290.30 L37.28,289.30 L37.23,288.30 L37.20,287.30 L37.21,286.30 L37.26,285.30 L37.32,284.30 L37.39,283.30 L37.46,282.30 L37.49,281.30 L37.50,280.30 L37.48,279.30 L37.45,278.30 L37.40,277.30 L37.34,276.30 L37.27,275.30 L37.18,274.30 L36.93,273.30 L36.55,272.30 L36.12,271.30 L35.77,270.30 L35.58,269.30 L35.47,268.30 L35.37,267.30 L35.29,266.30 L35.22,265.30 L35.17,264.30 L35.13,263.30 L35.10,262.30 L35.09,261.30 L35.08,260.30 L35.08,259.30 L35.07,258.30 L35.06,257.30 L35.06,256.30 L35.05,255.30 L35.05,254.30 L35.05,253.30 L35.04,252.30 L35.04,251.30 L35.04,250.30 L35.04,249.30 L35.03,248.30 L35.03,247.30 L35.02,246.30 L35.02,245.30 L35.01,244.30 L35.00,243.30 L34.99,242.30 L34.98,241.30 L34.97,240.30 L34.95,239.30 L34.93,238.30 L34.91,237.30 L34.88,236.30 L34.85,235.30 L34.83,234.30 L34.80,233.30 L34.77,232.30 L34.73,231.30 L34.70,230.30 L34.67,229.30 L34.63,228.30 L34.60,227.30Z" fill="#52c08e" stroke="#333333" stroke-width="1.4" stroke-linejoin="round"/>
<line x1="34.6" y1="276" x2="34.6" y2="332" stroke="#222" stroke-opacity="0.8" stroke-width="1.4"/>
<rect x="33.55" y="302.8" width="2.1" height="17.90" fill="#dcdcdc" stroke="#333333" stroke-width="0.9"/>
<line x1="33.55" y1="310.3" x2="35.65" y2="310.3" stroke="#333333" stroke-width="1.4"/>
<circle cx="34.6" cy="243" r="2.5" fill="#333333"/>
<circle cx="34.6" cy="272.7" r="2.5" fill="#333333"/>
<circle cx="34.6" cy="362.8" r="2.5" fill="#333333"/>
<path d="M54.40,238.60 L54.40,239.60 L54.39,240.60 L54.38,241.60 L54.37,242.60 L54.36,243.60 L54.34,244.60 L54.32,245.60 L54.30,246.60 L54.28,247.60 L54.26,248.60 L54.23,249.60 L54.21,250.60 L54.18,251.60 L54.15,252.60 L54.12,253.60 L54.09,254.60 L54.06,255.60 L54.03,256.60 L54.00,257.60 L53.97,258.60 L53.92,259.60 L53.87,260.60 L53.81,261.60 L53.75,262.60 L53.68,263.60 L53.63,264.60 L53.57,265.60 L53.53,266.60 L53.50,267.60 L53.48,268.60 L53.47,269.60 L53.46,270.60 L53.45,271.60 L53.43,272.60 L53.42,273.60 L53.40,274.60 L53.37,275.60 L53.34,276.60 L53.29,277.60 L53.24,278.60 L53.18,279.60 L53.12,280.60 L53.02,281.60 L52.86,282.60 L52.66,283.60 L52.44,284.60 L52.21,285.60 L51.98,286.60 L51.77,287.60 L51.55,288.60 L51.31,289.60 L51.08,290.60 L50.86,291.60 L50.65,292.60 L50.47,293.60 L50.30,294.60 L50.15,295.60 L50.01,296.60 L49.87,297.60 L49.74,298.60 L49.61,299.60 L49.49,300.60 L49.39,301.60 L49.29,302.60 L49.19,303.60 L49.08,304.60 L48.96,305.60 L48.79,306.60 L48.56,307.60 L48.30,308.60 L48.09,309.60 L47.98,310.60 L47.90,311.60 L47.83,312.60 L47.78,313.60 L47.74,314.60 L47.71,315.60 L47.70,316.60 L47.71,317.60 L47.74,318.60 L47.78,319.60 L47.84,320.60 L47.91,321.60 L47.98,322.60 L48.10,323.60 L48.29,324.60 L48.55,325.60 L48.85,326.60 L49.17,327.60 L49.48,328.60 L49.78,329.60 L50.10,330.60 L50.44,331.60 L50.79,332.60 L51.13,333.60 L51.46,334.60 L51.76,335.60 L52.04,336.60 L52.32,337.60 L52.59,338.60 L52.84,339.60 L53.07,340.60 L53.28,341.60 L53.48,342.60 L53.68,343.60 L53.86,344.60 L54.00,345.60 L54.09,346.60 L54.14,347.60 L54.19,348.60 L54.23,349.60 L54.27,350.60 L54.30,351.60 L54.33,352.60 L54.35,353.60 L54.37,354.60 L54.39,355.60 L54.40,356.60 L54.40,357.60 L54.40,357.80 L54.40,357.80 L54.40,357.60 L54.40,356.60 L54.41,355.60 L54.43,354.60 L54.45,353.60 L54.47,352.60 L54.50,351.60 L54.53,350.60 L54.57,349.60 L54.61,348.60 L54.66,347.60 L54.71,346.60 L54.80,345.60 L54.94,344.60 L55.12,343.60 L55.32,342.60 L55.52,341.60 L55.73,340.60 L55.96,339.60 L56.21,338.60 L56.48,337.60 L56.76,336.60 L57.04,335.60 L57.34,334.60 L57.67,333.60 L58.01,332.60 L58.36,331.60 L58.70,330.60 L59.02,329.60 L59.32,328.60 L59.63,327.60 L59.95,326.60 L60.25,325.60 L60.51,324.60 L60.70,323.60 L60.82,322.60 L60.89,321.60 L60.96,320.60 L61.02,319.60 L61.06,318.60 L61.09,317.60 L61.10,316.60 L61.09,315.60 L61.06,314.60 L61.02,313.60 L60.97,312.60 L60.90,311.60 L60.82,310.60 L60.71,309.60 L60.50,308.60 L60.24,307.60 L60.01,306.60 L59.84,305.60 L59.72,304.60 L59.61,303.60 L59.51,302.60 L59.41,301.60 L59.31,300.60 L59.19,299.60 L59.06,298.60 L58.93,297.60 L58.79,296.60 L58.65,295.60 L58.50,294.60 L58.33,293.60 L58.15,292.60 L57.94,291.60 L57.72,290.60 L57.49,289.60 L57.25,288.60 L57.03,287.60 L56.82,286.60 L56.59,285.60 L56.36,284.60 L56.14,283.60 L55.94,282.60 L55.78,281.60 L55.68,280.60 L55.62,279.60 L55.56,278.60 L55.51,277.60 L55.46,276.60 L55.43,275.60 L55.40,274.60 L55.38,273.60 L55.37,272.60 L55.35,271.60 L55.34,270.60 L55.33,269.60 L55.32,268.60 L55.30,267.60 L55.27,266.60 L55.23,265.60 L55.17,264.60 L55.12,263.60 L55.05,262.60 L54.99,261.60 L54.93,260.60 L54.88,259.60 L54.83,258.60 L54.80,257.60 L54.77,256.60 L54.74,255.60 L54.71,254.60 L54.68,253.60 L54.65,252.60 L54.62,251.60 L54.59,250.60 L54.57,249.60 L54.54,248.60 L54.52,247.60 L54.50,246.60 L54.48,245.60 L54.46,244.60 L54.44,243.60 L54.43,242.60 L54.42,241.60 L54.41,240.60 L54.40,239.60 L54.40,238.60Z" fill="#828282" stroke="#333333" stroke-width="1.4" stroke-linejoin="round"/>
<line x1="54.4" y1="262" x2="54.4" y2="332" stroke="#222" stroke-opacity="0.8" stroke-width="1.4"/>
<rect x="53.35" y="298.4" width="2.1" height="25.60" fill="#dcdcdc" stroke="#333333" stroke-width="0.9"/>
<line x1="53.35" y1="316" x2="55.45" y2="316" stroke="#333333" stroke-width="1.4"/>
<path d="M74.50,271.40 L74.50,272.40 L74.49,273.40 L74.48,274.40 L74.46,275.40 L74.44,276.40 L74.42,277.40 L74.39,278.40 L74.35,279.40 L74.32,280.40 L74.26,281.40 L74.10,282.40 L73.87,283.40 L73.59,284.40 L73.29,285.40 L72.98,286.40 L72.68,287.40 L72.36,288.40 L72.02,289.40 L71.66,290.40 L71.29,291.40 L70.94,292.40 L70.60,293.40 L70.29,294.40 L70.01,295.40 L69.73,296.40 L69.44,297.40 L69.14,298.40 L68.81,299.40 L68.41,300.40 L67.93,301.40 L67.41,302.40 L66.91,303.40 L66.50,304.40 L66.18,305.40 L65.86,306.40 L65.60,307.40 L65.43,308.40 L65.40,309.40 L65.45,310.40 L65.54,311.40 L65.66,312.40 L65.81,313.40 L65.98,314.40 L66.27,315.40 L66.66,316.40 L67.11,317.40 L67.55,318.40 L67.96,319.40 L68.36,320.40 L68.76,321.40 L69.17,322.40 L69.57,323.40 L69.96,324.40 L70.34,325.40 L70.69,326.40 L71.03,327.40 L71.36,328.40 L71.69,329.40 L72.01,330.40 L72.33,331.40 L72.69,332.40 L73.10,333.40 L73.49,334.40 L73.81,335.40 L73.99,336.40 L74.03,337.40 L74.06,338.40 L74.09,339.40 L74.12,340.40 L74.15,341.40 L74.17,342.40 L74.19,343.40 L74.21,344.40 L74.23,345.40 L74.24,346.40 L74.26,347.40 L74.27,348.40 L74.28,349.40 L74.29,350.40 L74.29,351.40 L74.30,352.40 L74.30,353.40 L74.30,354.40 L74.29,355.40 L74.23,356.40 L74.12,357.40 L73.98,358.40 L73.82,359.40 L73.68,360.40 L73.57,361.40 L73.51,362.40 L73.51,363.40 L73.58,364.40 L73.68,365.40 L73.81,366.40 L73.94,367.40 L74.07,368.40 L74.16,369.40 L74.22,370.40 L74.26,371.40 L74.30,372.40 L74.34,373.40 L74.38,374.40 L74.41,375.40 L74.44,376.40 L74.46,377.40 L74.48,378.40 L74.49,379.40 L74.50,380.40 L74.50,380.70 L74.50,380.70 L74.50,380.40 L74.51,379.40 L74.52,378.40 L74.54,377.40 L74.56,376.40 L74.59,375.40 L74.62,374.40 L74.66,373.40 L74.70,372.40 L74.74,371.40 L74.78,370.40 L74.84,369.40 L74.93,368.40 L75.06,367.40 L75.19,366.40 L75.32,365.40 L75.42,364.40 L75.49,363.40 L75.49,362.40 L75.43,361.40 L75.32,360.40 L75.18,359.40 L75.02,358.40 L74.88,357.40 L74.77,356.40 L74.71,355.40 L74.70,354.40 L74.70,353.40 L74.70,352.40 L74.71,351.40 L74.71,350.40 L74.72,349.40 L74.73,348.40 L74.74,347.40 L74.76,346.40 L74.77,345.40 L74.79,344.40 L74.81,343.40 L74.83,342.40 L74.85,341.40 L74.88,340.40 L74.91,339.40 L74.94,338.40 L74.97,337.40 L75.01,336.40 L75.19,335.40 L75.51,334.40 L75.90,333.40 L76.31,332.40 L76.67,331.40 L76.99,330.40 L77.31,329.40 L77.64,328.40 L77.97,327.40 L78.31,326.40 L78.66,325.40 L79.04,324.40 L79.43,323.40 L79.83,322.40 L80.24,321.40 L80.64,320.40 L81.04,319.40 L81.45,318.40 L81.89,317.40 L82.34,316.40 L82.73,315.40 L83.02,314.40 L83.19,313.40 L83.34,312.40 L83.46,311.40 L83.55,310.40 L83.60,309.40 L83.57,308.40 L83.40,307.40 L83.14,306.40 L82.82,305.40 L82.50,304.40 L82.09,303.40 L81.59,302.40 L81.07,301.40 L80.59,300.40 L80.19,299.40 L79.86,298.40 L79.56,297.40 L79.27,296.40 L78.99,295.40 L78.71,294.40 L78.40,293.40 L78.06,292.40 L77.71,291.40 L77.34,290.40 L76.98,289.40 L76.64,288.40 L76.32,287.40 L76.02,286.40 L75.71,285.40 L75.41,284.40 L75.13,283.40 L74.90,282.40 L74.74,281.40 L74.68,280.40 L74.65,279.40 L74.61,278.40 L74.58,277.40 L74.56,276.40 L74.54,275.40 L74.52,274.40 L74.51,273.40 L74.50,272.40 L74.50,271.40Z" fill="#dcdcdc" stroke="#333333" stroke-width="1.4" stroke-linejoin="round"/>
<line x1="74.5" y1="289" x2="74.5" y2="331.6" stroke="#222" stroke-opacity="0.8" stroke-width="1.4"/>
<rect x="73.45" y="305.3" width="2.1" height="17.50" fill="#dcdcdc" stroke="#333333" stroke-width="0.9"/>
<line x1="73.45" y1="311.8" x2="75.55" y2="311.8" stroke="#333333" stroke-width="1.4"/>
<circle cx="74.5" cy="362.8" r="2.5" fill="#333333"/>
<path d="M103.80,257.90 L103.80,258.90 L103.80,259.90 L103.80,260.90 L103.80,261.90 L103.79,262.90 L103.79,263.90 L103.78,264.90 L103.78,265.90 L103.77,266.90 L103.77,267.90 L103.76,268.90 L103.75,269.90 L103.74,270.90 L103.74,271.90 L103.73,272.90 L103.71,273.90 L103.70,274.90 L103.69,275.90 L103.68,276.90 L103.66,277.90 L103.65,278.90 L103.63,279.90 L103.61,280.90 L103.59,281.90 L103.58,282.90 L103.56,283.90 L103.53,284.90 L103.51,285.90 L103.48,286.90 L103.41,287.90 L103.30,288.90 L103.17,289.90 L103.03,290.90 L102.90,291.90 L102.78,292.90 L102.68,293.90 L102.58,294.90 L102.49,295.90 L102.38,296.90 L102.26,297.90 L102.12,298.90 L101.91,299.90 L101.63,300.90 L101.28,301.90 L100.90,302.90 L100.50,303.90 L100.12,304.90 L99.78,305.90 L99.49,306.90 L99.20,307.90 L98.90,308.90 L98.63,309.90 L98.39,310.90 L98.20,311.90 L98.09,312.90 L98.02,313.90 L98.00,314.90 L98.12,315.90 L98.36,316.90 L98.67,317.90 L98.97,318.90 L99.27,319.90 L99.62,320.90 L100.00,321.90 L100.39,322.90 L100.78,323.90 L101.13,324.90 L101.46,325.90 L101.79,326.90 L102.12,327.90 L102.43,328.90 L102.71,329.90 L102.95,330.90 L103.13,331.90 L103.28,332.90 L103.42,333.90 L103.53,334.90 L103.60,335.90 L103.64,336.90 L103.68,337.90 L103.71,338.90 L103.74,339.90 L103.77,340.90 L103.78,341.90 L103.80,342.90 L103.80,343.90 L103.80,344.00 L103.80,344.00 L103.80,343.90 L103.80,342.90 L103.82,341.90 L103.83,340.90 L103.86,339.90 L103.89,338.90 L103.92,337.90 L103.96,336.90 L104.00,335.90 L104.07,334.90 L104.18,333.90 L104.32,332.90 L104.47,331.90 L104.65,330.90 L104.89,329.90 L105.17,328.90 L105.48,327.90 L105.81,326.90 L106.14,325.90 L106.47,324.90 L106.82,323.90 L107.21,322.90 L107.60,321.90 L107.98,320.90 L108.33,319.90 L108.63,318.90 L108.93,317.90 L109.24,316.90 L109.48,315.90 L109.60,314.90 L109.58,313.90 L109.51,312.90 L109.40,311.90 L109.21,310.90 L108.97,309.90 L108.70,308.90 L108.40,307.90 L108.11,306.90 L107.82,305.90 L107.48,304.90 L107.10,303.90 L106.70,302.90 L106.32,301.90 L105.97,300.90 L105.69,299.90 L105.48,298.90 L105.34,297.90 L105.22,296.90 L105.11,295.90 L105.02,294.90 L104.92,293.90 L104.82,292.90 L104.70,291.90 L104.57,290.90 L104.43,289.90 L104.30,288.90 L104.19,287.90 L104.12,286.90 L104.09,285.90 L104.07,284.90 L104.04,283.90 L104.02,282.90 L104.01,281.90 L103.99,280.90 L103.97,279.90 L103.95,278.90 L103.94,277.90 L103.92,276.90 L103.91,275.90 L103.90,274.90 L103.89,273.90 L103.87,272.90 L103.86,271.90 L103.86,270.90 L103.85,269.90 L103.84,268.90 L103.83,267.90 L103.83,266.90 L103.82,265.90 L103.82,264.90 L103.81,263.90 L103.81,262.90 L103.80,261.90 L103.80,260.90 L103.80,259.90 L103.80,258.90 L103.80,257.90Z" fill="#52c08e" stroke="#333333" stroke-width="1.4" stroke-linejoin="round"/>
<line x1="103.8" y1="293" x2="103.8" y2="329" stroke="#222" stroke-opacity="0.8" stroke-width="1.4"/>
<rect x="102.75" y="306.5" width="2.1" height="13.20" fill="#9a9a9a" stroke="#333333" stroke-width="0.9"/>
<line x1="102.75" y1="313.8" x2="104.85" y2="313.8" stroke="#333333" stroke-width="1.4"/>
<circle cx="103.8" cy="269.5" r="2.5" fill="#333333"/>
<circle cx="103.8" cy="272.9" r="2.5" fill="#333333"/>
<circle cx="103.8" cy="278.9" r="2.5" fill="#333333"/>
<path d="M123.70,249.40 L123.70,250.40 L123.70,251.40 L123.70,252.40 L123.70,253.40 L123.70,254.40 L123.70,255.40 L123.70,256.40 L123.70,257.40 L123.69,258.40 L123.69,259.40 L123.69,260.40 L123.69,261.40 L123.69,262.40 L123.68,263.40 L123.68,264.40 L123.68,265.40 L123.67,266.40 L123.67,267.40 L123.66,268.40 L123.66,269.40 L123.65,270.40 L123.65,271.40 L123.64,272.40 L123.63,273.40 L123.62,274.40 L123.62,275.40 L123.61,276.40 L123.60,277.40 L123.59,278.40 L123.58,279.40 L123.57,280.40 L123.56,281.40 L123.54,282.40 L123.53,283.40 L123.52,284.40 L123.50,285.40 L123.49,286.40 L123.47,287.40 L123.45,288.40 L123.44,289.40 L123.42,290.40 L123.40,291.40 L123.21,292.40 L122.86,293.40 L122.63,294.40 L122.50,295.40 L122.39,296.40 L122.25,297.40 L122.02,298.40 L121.69,299.40 L121.37,300.40 L121.08,301.40 L120.79,302.40 L120.50,303.40 L120.24,304.40 L120.00,305.40 L119.82,306.40 L119.66,307.40 L119.50,308.40 L119.36,309.40 L119.24,310.40 L119.15,311.40 L119.10,312.40 L119.10,313.40 L119.12,314.40 L119.14,315.40 L119.17,316.40 L119.22,317.40 L119.27,318.40 L119.33,319.40 L119.46,320.40 L119.65,321.40 L119.89,322.40 L120.15,323.40 L120.43,324.40 L120.70,325.40 L120.99,326.40 L121.33,327.40 L121.69,328.40 L122.05,329.40 L122.37,330.40 L122.64,331.40 L122.84,332.40 L123.04,333.40 L123.21,334.40 L123.36,335.40 L123.46,336.40 L123.52,337.40 L123.56,338.40 L123.60,339.40 L123.63,340.40 L123.66,341.40 L123.68,342.40 L123.69,343.40 L123.70,344.40 L123.70,345.00 L123.70,345.00 L123.70,344.40 L123.71,343.40 L123.72,342.40 L123.74,341.40 L123.77,340.40 L123.80,339.40 L123.84,338.40 L123.88,337.40 L123.94,336.40 L124.04,335.40 L124.19,334.40 L124.36,333.40 L124.56,332.40 L124.76,331.40 L125.03,330.40 L125.35,329.40 L125.71,328.40 L126.07,327.40 L126.41,326.40 L126.70,325.40 L126.97,324.40 L127.25,323.40 L127.51,322.40 L127.75,321.40 L127.94,320.40 L128.07,319.40 L128.13,318.40 L128.18,317.40 L128.23,316.40 L128.26,315.40 L128.28,314.40 L128.30,313.40 L128.30,312.40 L128.25,311.40 L128.16,310.40 L128.04,309.40 L127.90,308.40 L127.74,307.40 L127.58,306.40 L127.40,305.40 L127.16,304.40 L126.90,303.40 L126.61,302.40 L126.32,301.40 L126.03,300.40 L125.71,299.40 L125.38,298.40 L125.15,297.40 L125.01,296.40 L124.90,295.40 L124.77,294.40 L124.54,293.40 L124.19,292.40 L124.00,291.40 L123.98,290.40 L123.96,289.40 L123.95,288.40 L123.93,287.40 L123.91,286.40 L123.90,285.40 L123.88,284.40 L123.87,283.40 L123.86,282.40 L123.84,281.40 L123.83,280.40 L123.82,279.40 L123.81,278.40 L123.80,277.40 L123.79,276.40 L123.78,275.40 L123.78,274.40 L123.77,273.40 L123.76,272.40 L123.75,271.40 L123.75,270.40 L123.74,269.40 L123.74,268.40 L123.73,267.40 L123.73,266.40 L123.72,265.40 L123.72,264.40 L123.72,263.40 L123.71,262.40 L123.71,261.40 L123.71,260.40 L123.71,259.40 L123.71,258.40 L123.70,257.40 L123.70,256.40 L123.70,255.40 L123.70,254.40 L123.70,253.40 L123.70,252.40 L123.70,251.40 L123.70,250.40 L123.70,249.40Z" fill="#828282" stroke="#333333" stroke-width="1.4" stroke-linejoin="round"/>
<line x1="123.7" y1="292" x2="123.7" y2="331.5" stroke="#222" stroke-opacity="0.8" stroke-width="1.4"/>
<rect x="122.65" y="305.3" width="2.1" height="15.70" fill="#dcdcdc" stroke="#333333" stroke-width="0.9"/>
<line x1="122.65" y1="314.7" x2="124.75" y2="314.7" stroke="#333333" stroke-width="1.4"/>
<circle cx="123.7" cy="265.7" r="2.5" fill="#333333"/>
<circle cx="123.7" cy="270.7" r="2.5" fill="#333333"/>
<path d="M143.50,274.30 L143.50,275.30 L143.50,276.30 L143.50,277.30 L143.49,278.30 L143.49,279.30 L143.49,280.30 L143.48,281.30 L143.47,282.30 L143.46,283.30 L143.45,284.30 L143.44,285.30 L143.43,286.30 L143.41,287.30 L143.40,288.30 L143.38,289.30 L143.36,290.30 L143.34,291.30 L143.32,292.30 L143.29,293.30 L143.26,294.30 L143.23,295.30 L143.20,296.30 L143.16,297.30 L143.13,298.30 L143.07,299.30 L142.80,300.30 L142.33,301.30 L141.78,302.30 L141.20,303.30 L140.48,304.30 L139.66,305.30 L138.85,306.30 L138.08,307.30 L137.27,308.30 L136.52,309.30 L135.90,310.30 L135.35,311.30 L134.87,312.30 L134.61,313.30 L134.75,314.30 L135.28,315.30 L135.98,316.30 L136.87,317.30 L138.20,318.30 L139.67,319.30 L140.90,320.30 L141.92,321.30 L142.77,322.30 L142.99,323.30 L142.86,324.30 L142.65,325.30 L142.44,326.30 L142.17,327.30 L141.87,328.30 L141.62,329.30 L141.50,330.30 L141.63,331.30 L141.99,332.30 L142.44,333.30 L142.83,334.30 L143.04,335.30 L143.18,336.30 L143.30,337.30 L143.40,338.30 L143.47,339.30 L143.50,340.30 L143.50,340.50 L143.50,340.50 L143.50,340.30 L143.53,339.30 L143.60,338.30 L143.70,337.30 L143.82,336.30 L143.96,335.30 L144.17,334.30 L144.56,333.30 L145.01,332.30 L145.37,331.30 L145.50,330.30 L145.38,329.30 L145.13,328.30 L144.83,327.30 L144.56,326.30 L144.35,325.30 L144.14,324.30 L144.01,323.30 L144.23,322.30 L145.08,321.30 L146.10,320.30 L147.33,319.30 L148.80,318.30 L150.13,317.30 L151.02,316.30 L151.72,315.30 L152.25,314.30 L152.39,313.30 L152.13,312.30 L151.65,311.30 L151.10,310.30 L150.48,309.30 L149.73,308.30 L148.92,307.30 L148.15,306.30 L147.34,305.30 L146.52,304.30 L145.80,303.30 L145.22,302.30 L144.67,301.30 L144.20,300.30 L143.93,299.30 L143.87,298.30 L143.84,297.30 L143.80,296.30 L143.77,295.30 L143.74,294.30 L143.71,293.30 L143.68,292.30 L143.66,291.30 L143.64,290.30 L143.62,289.30 L143.60,288.30 L143.59,287.30 L143.57,286.30 L143.56,285.30 L143.55,284.30 L143.54,283.30 L143.53,282.30 L143.52,281.30 L143.51,280.30 L143.51,279.30 L143.51,278.30 L143.50,277.30 L143.50,276.30 L143.50,275.30 L143.50,274.30Z" fill="#dcdcdc" stroke="#333333" stroke-width="1.4" stroke-linejoin="round"/>
<line x1="143.5" y1="302" x2="143.5" y2="323" stroke="#222" stroke-opacity="0.8" stroke-width="1.4"/>
<rect x="142.45" y="310.3" width="2.1" height="7.60" fill="#dcdcdc" stroke="#333333" stroke-width="0.9"/>
<line x1="142.45" y1="314" x2="144.55" y2="314" stroke="#333333" stroke-width="1.4"/>
<circle cx="143.5" cy="282" r="2.5" fill="#333333"/>
<circle cx="143.5" cy="327.2" r="2.5" fill="#333333"/>
<circle cx="143.5" cy="330.4" r="2.5" fill="#333333"/>
<circle cx="143.5" cy="333" r="2.5" fill="#333333"/>
<path d="M173.00,274.60 L173.00,275.60 L173.00,276.60 L173.00,277.60 L173.00,278.60 L172.99,279.60 L172.99,280.60 L172.99,281.60 L172.98,282.60 L172.98,283.60 L172.97,284.60 L172.96,285.60 L172.96,286.60 L172.95,287.60 L172.94,288.60 L172.92,289.60 L172.91,290.60 L172.90,291.60 L172.88,292.60 L172.87,293.60 L172.85,294.60 L172.83,295.60 L172.81,296.60 L172.79,297.60 L172.76,298.60 L172.74,299.60 L172.71,300.60 L172.64,301.60 L172.39,302.60 L172.10,303.60 L171.88,304.60 L171.70,305.60 L171.51,306.60 L171.26,307.60 L170.85,308.60 L170.21,309.60 L169.49,310.60 L168.84,311.60 L168.27,312.60 L167.70,313.60 L167.16,314.60 L166.66,315.60 L166.20,316.60 L165.76,317.60 L165.32,318.60 L164.90,319.60 L164.53,320.60 L164.23,321.60 L164.03,322.60 L163.92,323.60 L163.97,324.60 L164.33,325.60 L164.92,326.60 L165.62,327.60 L166.33,328.60 L167.01,329.60 L167.78,330.60 L168.61,331.60 L169.45,332.60 L170.22,333.60 L170.92,334.60 L171.63,335.60 L172.17,336.60 L172.43,337.60 L172.63,338.60 L172.80,339.60 L172.92,340.60 L172.99,341.60 L173.00,342.30 L173.00,342.30 L173.01,341.60 L173.08,340.60 L173.20,339.60 L173.37,338.60 L173.57,337.60 L173.83,336.60 L174.37,335.60 L175.08,334.60 L175.78,333.60 L176.55,332.60 L177.39,331.60 L178.22,330.60 L178.99,329.60 L179.67,328.60 L180.38,327.60 L181.08,326.60 L181.67,325.60 L182.03,324.60 L182.08,323.60 L181.97,322.60 L181.77,321.60 L181.47,320.60 L181.10,319.60 L180.68,318.60 L180.24,317.60 L179.80,316.60 L179.34,315.60 L178.84,314.60 L178.30,313.60 L177.73,312.60 L177.16,311.60 L176.51,310.60 L175.79,309.60 L175.15,308.60 L174.74,307.60 L174.49,306.60 L174.30,305.60 L174.12,304.60 L173.90,303.60 L173.61,302.60 L173.36,301.60 L173.29,300.60 L173.26,299.60 L173.24,298.60 L173.21,297.60 L173.19,296.60 L173.17,295.60 L173.15,294.60 L173.13,293.60 L173.12,292.60 L173.10,291.60 L173.09,290.60 L173.08,289.60 L173.06,288.60 L173.05,287.60 L173.04,286.60 L173.04,285.60 L173.03,284.60 L173.02,283.60 L173.02,282.60 L173.01,281.60 L173.01,280.60 L173.01,279.60 L173.00,278.60 L173.00,277.60 L173.00,276.60 L173.00,275.60 L173.00,274.60Z" fill="#52c08e" stroke="#333333" stroke-width="1.4" stroke-linejoin="round"/>
<line x1="173" y1="304" x2="173" y2="333" stroke="#222" stroke-opacity="0.8" stroke-width="1.4"/>
<rect x="171.95" y="316" width="2.1" height="10.60" fill="#9a9a9a" stroke="#333333" stroke-width="0.9"/>
<line x1="171.95" y1="322.8" x2="174.05" y2="322.8" stroke="#333333" stroke-width="1.4"/>
<circle cx="173" cy="284.6" r="2.5" fill="#333333"/>
<circle cx="173" cy="288" r="2.5" fill="#333333"/>
<circle cx="173" cy="297.5" r="2.5" fill="#333333"/>
<path d="M192.90,288.50 L192.86,289.50 L192.80,290.50 L192.72,291.50 L192.63,292.50 L192.52,293.50 L192.41,294.50 L192.29,295.50 L192.16,296.50 L192.03,297.50 L191.89,298.50 L191.72,299.50 L191.52,300.50 L191.29,301.50 L190.99,302.50 L190.47,303.50 L190.22,304.50 L190.09,305.50 L190.01,306.50 L189.94,307.50 L189.87,308.50 L189.77,309.50 L189.61,310.50 L189.36,311.50 L189.04,312.50 L188.69,313.50 L188.35,314.50 L188.04,315.50 L187.82,316.50 L187.66,317.50 L187.52,318.50 L187.40,319.50 L187.29,320.50 L187.20,321.50 L187.12,322.50 L187.05,323.50 L186.98,324.50 L186.92,325.50 L186.87,326.50 L186.83,327.50 L186.80,328.50 L186.80,329.50 L186.82,330.50 L186.84,331.50 L186.88,332.50 L186.96,333.50 L187.21,334.50 L187.57,335.50 L187.99,336.50 L188.44,337.50 L189.05,338.50 L189.75,339.50 L190.42,340.50 L191.02,341.50 L191.62,342.50 L192.10,343.50 L192.40,344.50 L192.66,345.50 L192.84,346.50 L192.90,347.30 L192.90,347.30 L192.96,346.50 L193.14,345.50 L193.40,344.50 L193.70,343.50 L194.18,342.50 L194.78,341.50 L195.38,340.50 L196.05,339.50 L196.75,338.50 L197.36,337.50 L197.81,336.50 L198.23,335.50 L198.59,334.50 L198.84,333.50 L198.92,332.50 L198.96,331.50 L198.98,330.50 L199.00,329.50 L199.00,328.50 L198.97,327.50 L198.93,326.50 L198.88,325.50 L198.82,324.50 L198.75,323.50 L198.68,322.50 L198.60,321.50 L198.51,320.50 L198.40,319.50 L198.28,318.50 L198.14,317.50 L197.98,316.50 L197.76,315.50 L197.45,314.50 L197.11,313.50 L196.76,312.50 L196.44,311.50 L196.19,310.50 L196.03,309.50 L195.93,308.50 L195.86,307.50 L195.79,306.50 L195.71,305.50 L195.58,304.50 L195.33,303.50 L194.81,302.50 L194.51,301.50 L194.28,300.50 L194.08,299.50 L193.91,298.50 L193.77,297.50 L193.64,296.50 L193.51,295.50 L193.39,294.50 L193.28,293.50 L193.17,292.50 L193.08,291.50 L193.00,290.50 L192.94,289.50 L192.90,288.50Z" fill="#828282" stroke="#333333" stroke-width="1.4" stroke-linejoin="round"/>
<line x1="192.9" y1="303" x2="192.9" y2="339" stroke="#222" stroke-opacity="0.8" stroke-width="1.4"/>
<rect x="191.85" y="316.6" width="2.1" height="16.50" fill="#9a9a9a" stroke="#333333" stroke-width="0.9"/>
<line x1="191.85" y1="322.8" x2="193.95" y2="322.8" stroke="#333333" stroke-width="1.4"/>
<path d="M212.75,277.40 L212.75,278.40 L212.75,279.40 L212.75,280.40 L212.75,281.40 L212.74,282.40 L212.74,283.40 L212.73,284.40 L212.73,285.40 L212.72,286.40 L212.71,287.40 L212.71,288.40 L212.70,289.40 L212.69,290.40 L212.67,291.40 L212.66,292.40 L212.64,293.40 L212.63,294.40 L212.61,295.40 L212.59,296.40 L212.57,297.40 L212.55,298.40 L212.52,299.40 L212.50,300.40 L212.47,301.40 L212.41,302.40 L212.11,303.40 L211.66,304.40 L211.23,305.40 L210.98,306.40 L210.83,307.40 L210.56,308.40 L210.09,309.40 L209.55,310.40 L209.09,311.40 L208.75,312.40 L208.43,313.40 L208.15,314.40 L207.90,315.40 L207.69,316.40 L207.52,317.40 L207.39,318.40 L207.27,319.40 L207.16,320.40 L207.05,321.40 L206.91,322.40 L206.74,323.40 L206.50,324.40 L206.24,325.40 L205.99,326.40 L205.81,327.40 L205.71,328.40 L205.63,329.40 L205.58,330.40 L205.55,331.40 L205.67,332.40 L206.11,333.40 L206.72,334.40 L207.40,335.40 L208.06,336.40 L208.89,337.40 L209.76,338.40 L210.52,339.40 L211.14,340.40 L211.70,341.40 L212.10,342.40 L212.33,343.40 L212.53,344.40 L212.67,345.40 L212.75,346.40 L212.75,346.70 L212.75,346.70 L212.75,346.40 L212.83,345.40 L212.97,344.40 L213.17,343.40 L213.40,342.40 L213.80,341.40 L214.36,340.40 L214.98,339.40 L215.74,338.40 L216.61,337.40 L217.44,336.40 L218.10,335.40 L218.78,334.40 L219.39,333.40 L219.83,332.40 L219.95,331.40 L219.92,330.40 L219.87,329.40 L219.79,328.40 L219.69,327.40 L219.51,326.40 L219.26,325.40 L219.00,324.40 L218.76,323.40 L218.59,322.40 L218.45,321.40 L218.34,320.40 L218.23,319.40 L218.11,318.40 L217.98,317.40 L217.81,316.40 L217.60,315.40 L217.35,314.40 L217.07,313.40 L216.75,312.40 L216.41,311.40 L215.95,310.40 L215.41,309.40 L214.94,308.40 L214.67,307.40 L214.52,306.40 L214.27,305.40 L213.84,304.40 L213.39,303.40 L213.09,302.40 L213.03,301.40 L213.00,300.40 L212.98,299.40 L212.95,298.40 L212.93,297.40 L212.91,296.40 L212.89,295.40 L212.87,294.40 L212.86,293.40 L212.84,292.40 L212.83,291.40 L212.81,290.40 L212.80,289.40 L212.79,288.40 L212.79,287.40 L212.78,286.40 L212.77,285.40 L212.77,284.40 L212.76,283.40 L212.76,282.40 L212.75,281.40 L212.75,280.40 L212.75,279.40 L212.75,278.40 L212.75,277.40Z" fill="#dcdcdc" stroke="#333333" stroke-width="1.4" stroke-linejoin="round"/>
<line x1="212.75" y1="310.3" x2="212.75" y2="338" stroke="#222" stroke-opacity="0.8" stroke-width="1.4"/>
<rect x="211.70" y="318" width="2.1" height="15.10" fill="#dcdcdc" stroke="#333333" stroke-width="0.9"/>
<line x1="211.70" y1="324.7" x2="213.80" y2="324.7" stroke="#333333" stroke-width="1.4"/>
<circle cx="212.75" cy="290.9" r="2.5" fill="#333333"/>
<path d="M242.30,256.40 L242.30,257.40 L242.30,258.40 L242.29,259.40 L242.28,260.40 L242.27,261.40 L242.26,262.40 L242.25,263.40 L242.23,264.40 L242.21,265.40 L242.19,266.40 L242.16,267.40 L242.14,268.40 L242.11,269.40 L242.08,270.40 L242.04,271.40 L242.01,272.40 L241.95,273.40 L241.83,274.40 L241.68,275.40 L241.51,276.40 L241.33,277.40 L241.15,278.40 L240.94,279.40 L240.72,280.40 L240.51,281.40 L240.33,282.40 L240.19,283.40 L240.07,284.40 L239.96,285.40 L239.85,286.40 L239.74,287.40 L239.61,288.40 L239.49,289.40 L239.36,290.40 L239.23,291.40 L239.08,292.40 L238.91,293.40 L238.71,294.40 L238.45,295.40 L238.14,296.40 L237.79,297.40 L237.43,298.40 L237.08,299.40 L236.77,300.40 L236.45,301.40 L236.12,302.40 L235.80,303.40 L235.50,304.40 L235.26,305.40 L235.11,306.40 L235.02,307.40 L234.94,308.40 L234.87,309.40 L234.82,310.40 L234.80,311.40 L234.84,312.40 L234.97,313.40 L235.16,314.40 L235.40,315.40 L235.65,316.40 L235.92,317.40 L236.25,318.40 L236.64,319.40 L237.06,320.40 L237.48,321.40 L237.90,322.40 L238.30,323.40 L238.72,324.40 L239.14,325.40 L239.57,326.40 L239.98,327.40 L240.34,328.40 L240.66,329.40 L240.96,330.40 L241.26,331.40 L241.52,332.40 L241.71,333.40 L241.81,334.40 L241.88,335.40 L241.94,336.40 L241.99,337.40 L242.04,338.40 L242.09,339.40 L242.13,340.40 L242.17,341.40 L242.20,342.40 L242.23,343.40 L242.25,344.40 L242.27,345.40 L242.28,346.40 L242.29,347.40 L242.30,348.40 L242.30,349.00 L242.30,349.00 L242.30,348.40 L242.31,347.40 L242.32,346.40 L242.33,345.40 L242.35,344.40 L242.37,343.40 L242.40,342.40 L242.43,341.40 L242.47,340.40 L242.51,339.40 L242.56,338.40 L242.61,337.40 L242.66,336.40 L242.72,335.40 L242.79,334.40 L242.89,333.40 L243.08,332.40 L243.34,331.40 L243.64,330.40 L243.94,329.40 L244.26,328.40 L244.62,327.40 L245.03,326.40 L245.46,325.40 L245.88,324.40 L246.30,323.40 L246.70,322.40 L247.12,321.40 L247.54,320.40 L247.96,319.40 L248.35,318.40 L248.68,317.40 L248.95,316.40 L249.20,315.40 L249.44,314.40 L249.63,313.40 L249.76,312.40 L249.80,311.40 L249.78,310.40 L249.73,309.40 L249.66,308.40 L249.58,307.40 L249.49,306.40 L249.34,305.40 L249.10,304.40 L248.80,303.40 L248.48,302.40 L248.15,301.40 L247.83,300.40 L247.52,299.40 L247.17,298.40 L246.81,297.40 L246.46,296.40 L246.15,295.40 L245.89,294.40 L245.69,293.40 L245.52,292.40 L245.37,291.40 L245.24,290.40 L245.11,289.40 L244.99,288.40 L244.86,287.40 L244.75,286.40 L244.64,285.40 L244.53,284.40 L244.41,283.40 L244.27,282.40 L244.09,281.40 L243.88,280.40 L243.66,279.40 L243.45,278.40 L243.27,277.40 L243.09,276.40 L242.92,275.40 L242.77,274.40 L242.65,273.40 L242.59,272.40 L242.56,271.40 L242.52,270.40 L242.49,269.40 L242.46,268.40 L242.44,267.40 L242.41,266.40 L242.39,265.40 L242.37,264.40 L242.35,263.40 L242.34,262.40 L242.33,261.40 L242.32,260.40 L242.31,259.40 L242.30,258.40 L242.30,257.40 L242.30,256.40Z" fill="#52c08e" stroke="#333333" stroke-width="1.4" stroke-linejoin="round"/>
<line x1="242.3" y1="281" x2="242.3" y2="329" stroke="#222" stroke-opacity="0.8" stroke-width="1.4"/>
<rect x="241.25" y="299" width="2.1" height="18.60" fill="#dcdcdc" stroke="#333333" stroke-width="0.9"/>
<line x1="241.25" y1="311" x2="243.35" y2="311" stroke="#333333" stroke-width="1.4"/>
<path d="M262.20,258.60 L262.20,259.60 L262.20,260.60 L262.20,261.60 L262.20,262.60 L262.19,263.60 L262.19,264.60 L262.19,265.60 L262.19,266.60 L262.18,267.60 L262.18,268.60 L262.17,269.60 L262.16,270.60 L262.16,271.60 L262.15,272.60 L262.14,273.60 L262.13,274.60 L262.12,275.60 L262.11,276.60 L262.09,277.60 L262.08,278.60 L262.07,279.60 L262.05,280.60 L262.03,281.60 L262.01,282.60 L261.99,283.60 L261.97,284.60 L261.95,285.60 L261.93,286.60 L261.90,287.60 L261.79,288.60 L261.50,289.60 L261.09,290.60 L260.65,291.60 L260.24,292.60 L259.86,293.60 L259.46,294.60 L259.04,295.60 L258.60,296.60 L258.18,297.60 L257.81,298.60 L257.47,299.60 L257.15,300.60 L256.85,301.60 L256.56,302.60 L256.30,303.60 L256.05,304.60 L255.81,305.60 L255.57,306.60 L255.35,307.60 L255.15,308.60 L254.99,309.60 L254.87,310.60 L254.75,311.60 L254.65,312.60 L254.56,313.60 L254.51,314.60 L254.51,315.60 L254.59,316.60 L254.76,317.60 L254.99,318.60 L255.25,319.60 L255.53,320.60 L255.80,321.60 L256.08,322.60 L256.39,323.60 L256.72,324.60 L257.08,325.60 L257.44,326.60 L257.79,327.60 L258.15,328.60 L258.52,329.60 L258.90,330.60 L259.27,331.60 L259.64,332.60 L260.00,333.60 L260.34,334.60 L260.69,335.60 L261.05,336.60 L261.37,337.60 L261.61,338.60 L261.74,339.60 L261.85,340.60 L261.94,341.60 L262.02,342.60 L262.09,343.60 L262.14,344.60 L262.18,345.60 L262.20,346.60 L262.20,347.00 L262.20,347.00 L262.20,346.60 L262.22,345.60 L262.26,344.60 L262.31,343.60 L262.38,342.60 L262.46,341.60 L262.55,340.60 L262.66,339.60 L262.79,338.60 L263.03,337.60 L263.35,336.60 L263.71,335.60 L264.06,334.60 L264.40,333.60 L264.76,332.60 L265.13,331.60 L265.50,330.60 L265.88,329.60 L266.25,328.60 L266.61,327.60 L266.96,326.60 L267.32,325.60 L267.68,324.60 L268.01,323.60 L268.32,322.60 L268.60,321.60 L268.87,320.60 L269.15,319.60 L269.41,318.60 L269.64,317.60 L269.81,316.60 L269.89,315.60 L269.89,314.60 L269.84,313.60 L269.75,312.60 L269.65,311.60 L269.53,310.60 L269.41,309.60 L269.25,308.60 L269.05,307.60 L268.83,306.60 L268.59,305.60 L268.35,304.60 L268.10,303.60 L267.84,302.60 L267.55,301.60 L267.25,300.60 L266.93,299.60 L266.59,298.60 L266.22,297.60 L265.80,296.60 L265.36,295.60 L264.94,294.60 L264.54,293.60 L264.16,292.60 L263.75,291.60 L263.31,290.60 L262.90,289.60 L262.61,288.60 L262.50,287.60 L262.47,286.60 L262.45,285.60 L262.43,284.60 L262.41,283.60 L262.39,282.60 L262.37,281.60 L262.35,280.60 L262.33,279.60 L262.32,278.60 L262.31,277.60 L262.29,276.60 L262.28,275.60 L262.27,274.60 L262.26,273.60 L262.25,272.60 L262.24,271.60 L262.24,270.60 L262.23,269.60 L262.22,268.60 L262.22,267.60 L262.21,266.60 L262.21,265.60 L262.21,264.60 L262.21,263.60 L262.20,262.60 L262.20,261.60 L262.20,260.60 L262.20,259.60 L262.20,258.60Z" fill="#828282" stroke="#333333" stroke-width="1.4" stroke-linejoin="round"/>
<line x1="262.2" y1="296.5" x2="262.2" y2="332.3" stroke="#222" stroke-opacity="0.8" stroke-width="1.4"/>
<rect x="261.15" y="307.2" width="2.1" height="13.80" fill="#9a9a9a" stroke="#333333" stroke-width="0.9"/>
<line x1="261.15" y1="314.1" x2="263.25" y2="314.1" stroke="#333333" stroke-width="1.4"/>
<circle cx="262.2" cy="273" r="2.5" fill="#333333"/>
<path d="M282.00,270.70 L282.00,271.70 L281.99,272.70 L281.97,273.70 L281.95,274.70 L281.92,275.70 L281.89,276.70 L281.85,277.70 L281.81,278.70 L281.76,279.70 L281.70,280.70 L281.64,281.70 L281.58,282.70 L281.51,283.70 L281.44,284.70 L281.36,285.70 L281.28,286.70 L281.20,287.70 L281.09,288.70 L280.92,289.70 L280.71,290.70 L280.47,291.70 L280.20,292.70 L279.82,293.70 L279.44,294.70 L279.07,295.70 L278.71,296.70 L278.33,297.70 L277.93,298.70 L277.48,299.70 L276.98,300.70 L276.45,301.70 L275.93,302.70 L275.44,303.70 L274.98,304.70 L274.49,305.70 L274.03,306.70 L273.63,307.70 L273.35,308.70 L273.20,309.70 L273.11,310.70 L273.18,311.70 L273.50,312.70 L273.97,313.70 L274.45,314.70 L274.85,315.70 L275.21,316.70 L275.57,317.70 L275.93,318.70 L276.29,319.70 L276.66,320.70 L277.04,321.70 L277.43,322.70 L277.83,323.70 L278.24,324.70 L278.65,325.70 L279.05,326.70 L279.43,327.70 L279.80,328.70 L280.17,329.70 L280.54,330.70 L280.87,331.70 L281.13,332.70 L281.34,333.70 L281.53,334.70 L281.68,335.70 L281.78,336.70 L281.83,337.70 L281.87,338.70 L281.91,339.70 L281.94,340.70 L281.96,341.70 L281.98,342.70 L281.99,343.70 L282.00,344.70 L282.00,345.25 L282.00,345.25 L282.00,344.70 L282.01,343.70 L282.02,342.70 L282.04,341.70 L282.06,340.70 L282.09,339.70 L282.13,338.70 L282.17,337.70 L282.22,336.70 L282.32,335.70 L282.47,334.70 L282.66,333.70 L282.87,332.70 L283.13,331.70 L283.46,330.70 L283.83,329.70 L284.20,328.70 L284.57,327.70 L284.95,326.70 L285.35,325.70 L285.76,324.70 L286.17,323.70 L286.57,322.70 L286.96,321.70 L287.34,320.70 L287.71,319.70 L288.07,318.70 L288.43,317.70 L288.79,316.70 L289.15,315.70 L289.55,314.70 L290.03,313.70 L290.50,312.70 L290.82,311.70 L290.89,310.70 L290.80,309.70 L290.65,308.70 L290.37,307.70 L289.97,306.70 L289.51,305.70 L289.02,304.70 L288.56,303.70 L288.07,302.70 L287.55,301.70 L287.02,300.70 L286.52,299.70 L286.07,298.70 L285.67,297.70 L285.29,296.70 L284.93,295.70 L284.56,294.70 L284.18,293.70 L283.80,292.70 L283.53,291.70 L283.29,290.70 L283.08,289.70 L282.91,288.70 L282.80,287.70 L282.72,286.70 L282.64,285.70 L282.56,284.70 L282.49,283.70 L282.42,282.70 L282.36,281.70 L282.30,280.70 L282.24,279.70 L282.19,278.70 L282.15,277.70 L282.11,276.70 L282.08,275.70 L282.05,274.70 L282.03,273.70 L282.01,272.70 L282.00,271.70 L282.00,270.70Z" fill="#dcdcdc" stroke="#333333" stroke-width="1.4" stroke-linejoin="round"/>
<line x1="282" y1="296.5" x2="282" y2="331.5" stroke="#222" stroke-opacity="0.8" stroke-width="1.4"/>
<rect x="280.95" y="307.2" width="2.1" height="11.90" fill="#9a9a9a" stroke="#333333" stroke-width="0.9"/>
<line x1="280.95" y1="311.6" x2="283.05" y2="311.6" stroke="#333333" stroke-width="1.4"/>
<circle cx="282" cy="283.6" r="2.5" fill="#333333"/>
<line x1="409.9" y1="38" x2="409.9" y2="188.29999999999998" stroke="#333333" stroke-width="1.4"/>
<line x1="406.9" y1="63.4" x2="409.9" y2="63.4" stroke="#333333" stroke-width="1.2"/>
<text x="404.3" y="66.55" font-size="8.8" font-weight="normal" text-anchor="end" fill="#303030" stroke="#303030" stroke-width="0.25">20</text>
<line x1="406.9" y1="110.1" x2="409.9" y2="110.1" stroke="#333333" stroke-width="1.2"/>
<text x="404.3" y="113.25" font-size="8.8" font-weight="normal" text-anchor="end" fill="#303030" stroke="#303030" stroke-width="0.25">10</text>
<line x1="406.9" y1="156.8" x2="409.9" y2="156.8" stroke="#333333" stroke-width="1.2"/>
<text x="404.3" y="159.95000000000002" font-size="8.8" font-weight="normal" text-anchor="end" fill="#303030" stroke="#303030" stroke-width="0.25">0</text>
<line x1="409.2" y1="187.6" x2="453.2" y2="187.6" stroke="#333333" stroke-width="1.4"/>
<line x1="458.75" y1="187.6" x2="501.95" y2="187.6" stroke="#333333" stroke-width="1.4"/>
<line x1="507.5" y1="187.6" x2="550.7" y2="187.6" stroke="#333333" stroke-width="1.4"/>
<line x1="556.25" y1="187.6" x2="600.0" y2="187.6" stroke="#333333" stroke-width="1.4"/>
<line x1="421.5" y1="187.6" x2="421.5" y2="190.7" stroke="#333333" stroke-width="1.2"/>
<line x1="441.35" y1="187.6" x2="441.35" y2="190.7" stroke="#333333" stroke-width="1.2"/>
<line x1="470.45" y1="187.6" x2="470.45" y2="190.7" stroke="#333333" stroke-width="1.2"/>
<line x1="490.15" y1="187.6" x2="490.15" y2="190.7" stroke="#333333" stroke-width="1.2"/>
<line x1="519.35" y1="187.6" x2="519.35" y2="190.7" stroke="#333333" stroke-width="1.2"/>
<line x1="539" y1="187.6" x2="539" y2="190.7" stroke="#333333" stroke-width="1.2"/>
<line x1="568.35" y1="187.6" x2="568.35" y2="190.7" stroke="#333333" stroke-width="1.2"/>
<line x1="587.8" y1="187.6" x2="587.8" y2="190.7" stroke="#333333" stroke-width="1.2"/>
<path d="M421.50,74.60 L421.50,75.60 L421.48,76.60 L421.46,77.60 L421.43,78.60 L421.39,79.60 L421.34,80.60 L421.29,81.60 L421.24,82.60 L421.18,83.60 L421.11,84.60 L421.05,85.60 L420.98,86.60 L420.91,87.60 L420.82,88.60 L420.70,89.60 L420.58,90.60 L420.47,91.60 L420.38,92.60 L420.30,93.60 L420.23,94.60 L420.14,95.60 L420.03,96.60 L419.88,97.60 L419.63,98.60 L419.24,99.60 L418.75,100.60 L418.22,101.60 L417.69,102.60 L417.19,103.60 L416.73,104.60 L416.23,105.60 L415.73,106.60 L415.24,107.60 L414.80,108.60 L414.43,109.60 L414.12,110.60 L413.83,111.60 L413.55,112.60 L413.31,113.60 L413.11,114.60 L412.96,115.60 L412.89,116.60 L412.85,117.60 L412.82,118.60 L412.80,119.60 L412.81,120.60 L412.89,121.60 L413.03,122.60 L413.21,123.60 L413.41,124.60 L413.63,125.60 L413.85,126.60 L414.16,127.60 L414.56,128.60 L414.97,129.60 L415.33,130.60 L415.56,131.60 L415.63,132.60 L415.67,133.60 L415.70,134.60 L415.72,135.60 L415.74,136.60 L415.77,137.60 L415.82,138.60 L415.88,139.60 L415.97,140.60 L416.06,141.60 L416.18,142.60 L416.29,143.60 L416.41,144.60 L416.54,145.60 L416.67,146.60 L416.81,147.60 L416.97,148.60 L417.15,149.60 L417.36,150.60 L417.61,151.60 L417.93,152.60 L418.31,153.60 L418.71,154.60 L419.11,155.60 L419.47,156.60 L419.80,157.60 L420.14,158.60 L420.47,159.60 L420.76,160.60 L420.96,161.60 L421.05,162.60 L421.13,163.60 L421.20,164.60 L421.26,165.60 L421.32,166.60 L421.36,167.60 L421.41,168.60 L421.44,169.60 L421.47,170.60 L421.49,171.60 L421.50,172.60 L421.50,173.40 L421.50,173.40 L421.50,172.60 L421.51,171.60 L421.53,170.60 L421.56,169.60 L421.59,168.60 L421.64,167.60 L421.68,166.60 L421.74,165.60 L421.80,164.60 L421.87,163.60 L421.95,162.60 L422.04,161.60 L422.24,160.60 L422.53,159.60 L422.86,158.60 L423.20,157.60 L423.53,156.60 L423.89,155.60 L424.29,154.60 L424.69,153.60 L425.07,152.60 L425.39,151.60 L425.64,150.60 L425.85,149.60 L426.03,148.60 L426.19,147.60 L426.33,146.60 L426.46,145.60 L426.59,144.60 L426.71,143.60 L426.82,142.60 L426.94,141.60 L427.03,140.60 L427.12,139.60 L427.18,138.60 L427.23,137.60 L427.26,136.60 L427.28,135.60 L427.30,134.60 L427.33,133.60 L427.37,132.60 L427.44,131.60 L427.67,130.60 L428.03,129.60 L428.44,128.60 L428.84,127.60 L429.15,126.60 L429.37,125.60 L429.59,124.60 L429.79,123.60 L429.97,122.60 L430.11,121.60 L430.19,120.60 L430.20,119.60 L430.18,118.60 L430.15,117.60 L430.11,116.60 L430.04,115.60 L429.89,114.60 L429.69,113.60 L429.45,112.60 L429.17,111.60 L428.88,110.60 L428.57,109.60 L428.20,108.60 L427.76,107.60 L427.27,106.60 L426.77,105.60 L426.27,104.60 L425.81,103.60 L425.31,102.60 L424.78,101.60 L424.25,100.60 L423.76,99.60 L423.37,98.60 L423.12,97.60 L422.97,96.60 L422.86,95.60 L422.77,94.60 L422.70,93.60 L422.62,92.60 L422.53,91.60 L422.42,90.60 L422.30,89.60 L422.18,88.60 L422.09,87.60 L422.02,86.60 L421.95,85.60 L421.89,84.60 L421.82,83.60 L421.76,82.60 L421.71,81.60 L421.66,80.60 L421.61,79.60 L421.57,78.60 L421.54,77.60 L421.52,76.60 L421.50,75.60 L421.50,74.60Z" fill="#828282" stroke="#333333" stroke-width="1.4" stroke-linejoin="round"/>
<line x1="421.5" y1="98" x2="421.5" y2="151.5" stroke="#222" stroke-opacity="0.8" stroke-width="1.4"/>
<rect x="420.45" y="114.1" width="2.1" height="23.50" fill="#dcdcdc" stroke="#333333" stroke-width="0.9"/>
<line x1="420.45" y1="124.5" x2="422.55" y2="124.5" stroke="#333333" stroke-width="1.4"/>
<path d="M441.35,62.70 L441.35,63.70 L441.34,64.70 L441.34,65.70 L441.33,66.70 L441.32,67.70 L441.30,68.70 L441.28,69.70 L441.26,70.70 L441.24,71.70 L441.22,72.70 L441.19,73.70 L441.16,74.70 L441.12,75.70 L441.09,76.70 L441.05,77.70 L440.97,78.70 L440.84,79.70 L440.66,80.70 L440.47,81.70 L440.27,82.70 L440.10,83.70 L439.95,84.70 L439.81,85.70 L439.68,86.70 L439.54,87.70 L439.40,88.70 L439.23,89.70 L439.05,90.70 L438.88,91.70 L438.71,92.70 L438.54,93.70 L438.37,94.70 L438.21,95.70 L438.06,96.70 L437.92,97.70 L437.80,98.70 L437.69,99.70 L437.59,100.70 L437.49,101.70 L437.38,102.70 L437.26,103.70 L437.13,104.70 L437.00,105.70 L436.86,106.70 L436.71,107.70 L436.56,108.70 L436.40,109.70 L436.23,110.70 L436.05,111.70 L435.86,112.70 L435.66,113.70 L435.46,114.70 L435.27,115.70 L435.10,116.70 L434.92,117.70 L434.75,118.70 L434.58,119.70 L434.42,120.70 L434.28,121.70 L434.15,122.70 L434.03,123.70 L433.90,124.70 L433.77,125.70 L433.67,126.70 L433.59,127.70 L433.55,128.70 L433.55,129.70 L433.55,130.70 L433.55,131.70 L433.60,132.70 L433.79,133.70 L434.02,134.70 L434.35,135.70 L434.74,136.70 L435.13,137.70 L435.49,138.70 L435.85,139.70 L436.21,140.70 L436.57,141.70 L436.92,142.70 L437.23,143.70 L437.50,144.70 L437.74,145.70 L437.96,146.70 L438.16,147.70 L438.35,148.70 L438.54,149.70 L438.73,150.70 L438.92,151.70 L439.10,152.70 L439.28,153.70 L439.46,154.70 L439.63,155.70 L439.80,156.70 L439.97,157.70 L440.16,158.70 L440.35,159.70 L440.53,160.70 L440.68,161.70 L440.80,162.70 L440.87,163.70 L440.92,164.70 L440.97,165.70 L441.01,166.70 L441.06,167.70 L441.10,168.70 L441.14,169.70 L441.17,170.70 L441.21,171.70 L441.24,172.70 L441.26,173.70 L441.28,174.70 L441.30,175.70 L441.32,176.70 L441.33,177.70 L441.34,178.70 L441.35,179.70 L441.35,180.70 L441.35,180.80 L441.35,180.80 L441.35,180.70 L441.35,179.70 L441.36,178.70 L441.37,177.70 L441.38,176.70 L441.40,175.70 L441.42,174.70 L441.44,173.70 L441.46,172.70 L441.49,171.70 L441.53,170.70 L441.56,169.70 L441.60,168.70 L441.64,167.70 L441.69,166.70 L441.73,165.70 L441.78,164.70 L441.83,163.70 L441.90,162.70 L442.02,161.70 L442.17,160.70 L442.35,159.70 L442.54,158.70 L442.73,157.70 L442.90,156.70 L443.07,155.70 L443.24,154.70 L443.42,153.70 L443.60,152.70 L443.78,151.70 L443.97,150.70 L444.16,149.70 L444.35,148.70 L444.54,147.70 L444.74,146.70 L444.96,145.70 L445.20,144.70 L445.47,143.70 L445.78,142.70 L446.13,141.70 L446.49,140.70 L446.85,139.70 L447.21,138.70 L447.57,137.70 L447.96,136.70 L448.35,135.70 L448.68,134.70 L448.91,133.70 L449.10,132.70 L449.15,131.70 L449.15,130.70 L449.15,129.70 L449.15,128.70 L449.11,127.70 L449.03,126.70 L448.93,125.70 L448.80,124.70 L448.67,123.70 L448.55,122.70 L448.42,121.70 L448.28,120.70 L448.12,119.70 L447.95,118.70 L447.78,117.70 L447.60,116.70 L447.43,115.70 L447.24,114.70 L447.04,113.70 L446.84,112.70 L446.65,111.70 L446.47,110.70 L446.30,109.70 L446.14,108.70 L445.99,107.70 L445.84,106.70 L445.70,105.70 L445.57,104.70 L445.44,103.70 L445.32,102.70 L445.21,101.70 L445.11,100.70 L445.01,99.70 L444.90,98.70 L444.78,97.70 L444.64,96.70 L444.49,95.70 L444.33,94.70 L444.16,93.70 L443.99,92.70 L443.82,91.70 L443.65,90.70 L443.47,89.70 L443.30,88.70 L443.16,87.70 L443.02,86.70 L442.89,85.70 L442.75,84.70 L442.60,83.70 L442.43,82.70 L442.23,81.70 L442.04,80.70 L441.86,79.70 L441.73,78.70 L441.65,77.70 L441.61,76.70 L441.58,75.70 L441.54,74.70 L441.51,73.70 L441.48,72.70 L441.46,71.70 L441.44,70.70 L441.42,69.70 L441.40,68.70 L441.38,67.70 L441.37,66.70 L441.36,65.70 L441.36,64.70 L441.35,63.70 L441.35,62.70Z" fill="#dcdcdc" stroke="#333333" stroke-width="1.4" stroke-linejoin="round"/>
<line x1="441.35" y1="98" x2="441.35" y2="156.5" stroke="#222" stroke-opacity="0.8" stroke-width="1.4"/>
<rect x="440.30" y="110.1" width="2.1" height="23.20" fill="#dcdcdc" stroke="#333333" stroke-width="0.9"/>
<line x1="440.30" y1="129" x2="442.40" y2="129" stroke="#333333" stroke-width="1.4"/>
<path d="M470.45,44.40 L470.43,45.40 L470.41,46.40 L470.39,47.40 L470.36,48.40 L470.33,49.40 L470.31,50.40 L470.28,51.40 L470.25,52.40 L470.21,53.40 L470.18,54.40 L470.14,55.40 L470.11,56.40 L470.07,57.40 L470.03,58.40 L469.99,59.40 L469.93,60.40 L469.86,61.40 L469.80,62.40 L469.73,63.40 L469.67,64.40 L469.62,65.40 L469.58,66.40 L469.56,67.40 L469.55,68.40 L469.56,69.40 L469.58,70.40 L469.61,71.40 L469.65,72.40 L469.69,73.40 L469.74,74.40 L469.78,75.40 L469.83,76.40 L469.87,77.40 L469.91,78.40 L469.94,79.40 L469.96,80.40 L469.97,81.40 L469.99,82.40 L470.01,83.40 L470.03,84.40 L470.04,85.40 L470.06,86.40 L470.07,87.40 L470.08,88.40 L470.10,89.40 L470.11,90.40 L470.12,91.40 L470.13,92.40 L470.14,93.40 L470.14,94.40 L470.15,95.40 L470.15,96.40 L470.15,97.40 L470.12,98.40 L470.03,99.40 L469.89,100.40 L469.71,101.40 L469.52,102.40 L469.32,103.40 L469.13,104.40 L468.90,105.40 L468.64,106.40 L468.36,107.40 L468.07,108.40 L467.80,109.40 L467.55,110.40 L467.31,111.40 L467.08,112.40 L466.85,113.40 L466.62,114.40 L466.38,115.40 L466.15,116.40 L465.91,117.40 L465.65,118.40 L465.40,119.40 L465.15,120.40 L464.92,121.40 L464.71,122.40 L464.52,123.40 L464.35,124.40 L464.20,125.40 L464.05,126.40 L463.90,127.40 L463.75,128.40 L463.58,129.40 L463.41,130.40 L463.24,131.40 L463.06,132.40 L462.87,133.40 L462.66,134.40 L462.37,135.40 L462.07,136.40 L461.83,137.40 L461.75,138.40 L461.75,139.40 L461.75,140.40 L461.75,141.40 L461.76,142.40 L461.84,143.40 L461.99,144.40 L462.19,145.40 L462.44,146.40 L462.70,147.40 L462.98,148.40 L463.32,149.40 L463.77,150.40 L464.28,151.40 L464.82,152.40 L465.36,153.40 L465.86,154.40 L466.32,155.40 L466.78,156.40 L467.25,157.40 L467.69,158.40 L468.11,159.40 L468.48,160.40 L468.81,161.40 L469.14,162.40 L469.44,163.40 L469.70,164.40 L469.89,165.40 L469.98,166.40 L470.04,167.40 L470.10,168.40 L470.15,169.40 L470.20,170.40 L470.25,171.40 L470.29,172.40 L470.33,173.40 L470.36,174.40 L470.38,175.40 L470.41,176.40 L470.42,177.40 L470.44,178.40 L470.45,179.40 L470.45,180.40 L470.45,180.80 L470.45,180.80 L470.45,180.40 L470.45,179.40 L470.46,178.40 L470.48,177.40 L470.49,176.40 L470.52,175.40 L470.54,174.40 L470.57,173.40 L470.61,172.40 L470.65,171.40 L470.70,170.40 L470.75,169.40 L470.80,168.40 L470.86,167.40 L470.92,166.40 L471.01,165.40 L471.20,164.40 L471.46,163.40 L471.76,162.40 L472.09,161.40 L472.42,160.40 L472.79,159.40 L473.21,158.40 L473.65,157.40 L474.12,156.40 L474.58,155.40 L475.04,154.40 L475.54,153.40 L476.08,152.40 L476.62,151.40 L477.13,150.40 L477.58,149.40 L477.92,148.40 L478.20,147.40 L478.46,146.40 L478.71,145.40 L478.91,144.40 L479.06,143.40 L479.14,142.40 L479.15,141.40 L479.15,140.40 L479.15,139.40 L479.15,138.40 L479.07,137.40 L478.83,136.40 L478.53,135.40 L478.24,134.40 L478.03,133.40 L477.84,132.40 L477.66,131.40 L477.49,130.40 L477.32,129.40 L477.15,128.40 L477.00,127.40 L476.85,126.40 L476.70,125.40 L476.55,124.40 L476.38,123.40 L476.19,122.40 L475.98,121.40 L475.75,120.40 L475.50,119.40 L475.25,118.40 L474.99,117.40 L474.75,116.40 L474.52,115.40 L474.28,114.40 L474.05,113.40 L473.82,112.40 L473.59,111.40 L473.35,110.40 L473.10,109.40 L472.83,108.40 L472.54,107.40 L472.26,106.40 L472.00,105.40 L471.77,104.40 L471.58,103.40 L471.38,102.40 L471.19,101.40 L471.01,100.40 L470.87,99.40 L470.78,98.40 L470.75,97.40 L470.75,96.40 L470.75,95.40 L470.76,94.40 L470.76,93.40 L470.77,92.40 L470.78,91.40 L470.79,90.40 L470.80,89.40 L470.82,88.40 L470.83,87.40 L470.84,86.40 L470.86,85.40 L470.87,84.40 L470.89,83.40 L470.91,82.40 L470.93,81.40 L470.94,80.40 L470.96,79.40 L470.99,78.40 L471.03,77.40 L471.07,76.40 L471.12,75.40 L471.16,74.40 L471.21,73.40 L471.25,72.40 L471.29,71.40 L471.32,70.40 L471.34,69.40 L471.35,68.40 L471.34,67.40 L471.32,66.40 L471.28,65.40 L471.23,64.40 L471.17,63.40 L471.10,62.40 L471.04,61.40 L470.97,60.40 L470.91,59.40 L470.87,58.40 L470.83,57.40 L470.79,56.40 L470.76,55.40 L470.72,54.40 L470.69,53.40 L470.65,52.40 L470.62,51.40 L470.59,50.40 L470.57,49.40 L470.54,48.40 L470.51,47.40 L470.49,46.40 L470.47,45.40 L470.45,44.40Z" fill="#828282" stroke="#333333" stroke-width="1.4" stroke-linejoin="round"/>
<line x1="470.45" y1="114.5" x2="470.45" y2="156.5" stroke="#222" stroke-opacity="0.8" stroke-width="1.4"/>
<rect x="469.40" y="124.2" width="2.1" height="23.10" fill="#dcdcdc" stroke="#333333" stroke-width="0.9"/>
<line x1="469.40" y1="138" x2="471.50" y2="138" stroke="#333333" stroke-width="1.4"/>
<circle cx="470.45" cy="68.2" r="2.5" fill="#333333"/>
<path d="M490.15,95.40 L490.15,96.40 L490.13,97.40 L490.11,98.40 L490.08,99.40 L490.04,100.40 L490.00,101.40 L489.94,102.40 L489.88,103.40 L489.78,104.40 L489.54,105.40 L489.20,106.40 L488.83,107.40 L488.40,108.40 L487.87,109.40 L487.27,110.40 L486.65,111.40 L486.06,112.40 L485.50,113.40 L484.92,114.40 L484.35,115.40 L483.83,116.40 L483.42,117.40 L483.10,118.40 L482.83,119.40 L482.58,120.40 L482.37,121.40 L482.20,122.40 L482.04,123.40 L481.89,124.40 L481.74,125.40 L481.61,126.40 L481.52,127.40 L481.46,128.40 L481.46,129.40 L481.54,130.40 L481.66,131.40 L481.81,132.40 L482.04,133.40 L482.33,134.40 L482.67,135.40 L483.03,136.40 L483.37,137.40 L483.68,138.40 L483.99,139.40 L484.32,140.40 L484.65,141.40 L484.94,142.40 L485.18,143.40 L485.34,144.40 L485.43,145.40 L485.51,146.40 L485.58,147.40 L485.63,148.40 L485.65,149.40 L485.62,150.40 L485.50,151.40 L485.36,152.40 L485.22,153.40 L485.15,154.40 L485.19,155.40 L485.36,156.40 L485.60,157.40 L485.89,158.40 L486.19,159.40 L486.52,160.40 L486.93,161.40 L487.39,162.40 L487.85,163.40 L488.27,164.40 L488.67,165.40 L489.08,166.40 L489.44,167.40 L489.65,168.40 L489.76,169.40 L489.87,170.40 L489.95,171.40 L490.03,172.40 L490.08,173.40 L490.12,174.40 L490.15,175.40 L490.15,176.00 L490.15,176.00 L490.15,175.40 L490.18,174.40 L490.22,173.40 L490.27,172.40 L490.35,171.40 L490.43,170.40 L490.54,169.40 L490.65,168.40 L490.86,167.40 L491.22,166.40 L491.63,165.40 L492.03,164.40 L492.45,163.40 L492.91,162.40 L493.37,161.40 L493.78,160.40 L494.11,159.40 L494.41,158.40 L494.70,157.40 L494.94,156.40 L495.11,155.40 L495.15,154.40 L495.08,153.40 L494.94,152.40 L494.80,151.40 L494.68,150.40 L494.65,149.40 L494.67,148.40 L494.72,147.40 L494.79,146.40 L494.87,145.40 L494.96,144.40 L495.12,143.40 L495.36,142.40 L495.65,141.40 L495.98,140.40 L496.31,139.40 L496.62,138.40 L496.93,137.40 L497.27,136.40 L497.63,135.40 L497.97,134.40 L498.26,133.40 L498.49,132.40 L498.64,131.40 L498.76,130.40 L498.84,129.40 L498.84,128.40 L498.78,127.40 L498.69,126.40 L498.56,125.40 L498.41,124.40 L498.26,123.40 L498.10,122.40 L497.93,121.40 L497.72,120.40 L497.47,119.40 L497.20,118.40 L496.88,117.40 L496.47,116.40 L495.95,115.40 L495.38,114.40 L494.80,113.40 L494.24,112.40 L493.65,111.40 L493.03,110.40 L492.43,109.40 L491.90,108.40 L491.47,107.40 L491.10,106.40 L490.76,105.40 L490.52,104.40 L490.42,103.40 L490.36,102.40 L490.30,101.40 L490.26,100.40 L490.22,99.40 L490.19,98.40 L490.17,97.40 L490.15,96.40 L490.15,95.40Z" fill="#dcdcdc" stroke="#333333" stroke-width="1.4" stroke-linejoin="round"/>
<line x1="490.15" y1="115" x2="490.15" y2="156.5" stroke="#222" stroke-opacity="0.8" stroke-width="1.4"/>
<rect x="489.10" y="124.2" width="2.1" height="18.50" fill="#9a9a9a" stroke="#333333" stroke-width="0.9"/>
<line x1="489.10" y1="133" x2="491.20" y2="133" stroke="#333333" stroke-width="1.4"/>
<path d="M519.35,44.40 L519.35,45.40 L519.34,46.40 L519.33,47.40 L519.32,48.40 L519.31,49.40 L519.29,50.40 L519.27,51.40 L519.25,52.40 L519.22,53.40 L519.20,54.40 L519.17,55.40 L519.13,56.40 L519.10,57.40 L519.06,58.40 L519.02,59.40 L518.95,60.40 L518.86,61.40 L518.76,62.40 L518.64,63.40 L518.52,64.40 L518.40,65.40 L518.26,66.40 L518.11,67.40 L517.95,68.40 L517.79,69.40 L517.62,70.40 L517.45,71.40 L517.28,72.40 L517.12,73.40 L516.95,74.40 L516.77,75.40 L516.59,76.40 L516.41,77.40 L516.21,78.40 L516.01,79.40 L515.79,80.40 L515.57,81.40 L515.36,82.40 L515.16,83.40 L514.98,84.40 L514.81,85.40 L514.66,86.40 L514.50,87.40 L514.35,88.40 L514.18,89.40 L513.98,90.40 L513.84,91.40 L513.77,92.40 L513.73,93.40 L513.69,94.40 L513.65,95.40 L513.61,96.40 L513.56,97.40 L513.48,98.40 L513.37,99.40 L513.25,100.40 L513.13,101.40 L513.00,102.40 L512.89,103.40 L512.79,104.40 L512.70,105.40 L512.61,106.40 L512.53,107.40 L512.45,108.40 L512.38,109.40 L512.33,110.40 L512.27,111.40 L512.22,112.40 L512.18,113.40 L512.15,114.40 L512.15,115.40 L512.21,116.40 L512.30,117.40 L512.44,118.40 L512.60,119.40 L512.77,120.40 L512.94,121.40 L513.10,122.40 L513.26,123.40 L513.42,124.40 L513.59,125.40 L513.76,126.40 L513.94,127.40 L514.13,128.40 L514.33,129.40 L514.53,130.40 L514.74,131.40 L514.96,132.40 L515.20,133.40 L515.46,134.40 L515.79,135.40 L516.15,136.40 L516.49,137.40 L516.77,138.40 L517.01,139.40 L517.22,140.40 L517.41,141.40 L517.60,142.40 L517.77,143.40 L517.93,144.40 L518.10,145.40 L518.28,146.40 L518.46,147.40 L518.61,148.40 L518.74,149.40 L518.83,150.40 L518.87,151.40 L518.91,152.40 L518.95,153.40 L518.99,154.40 L519.02,155.40 L519.05,156.40 L519.08,157.40 L519.11,158.40 L519.14,159.40 L519.16,160.40 L519.19,161.40 L519.21,162.40 L519.23,163.40 L519.25,164.40 L519.26,165.40 L519.28,166.40 L519.29,167.40 L519.31,168.40 L519.32,169.40 L519.33,170.40 L519.33,171.40 L519.34,172.40 L519.34,173.40 L519.35,174.40 L519.35,175.40 L519.35,176.20 L519.35,176.20 L519.35,175.40 L519.35,174.40 L519.36,173.40 L519.36,172.40 L519.37,171.40 L519.37,170.40 L519.38,169.40 L519.39,168.40 L519.41,167.40 L519.42,166.40 L519.44,165.40 L519.45,164.40 L519.47,163.40 L519.49,162.40 L519.51,161.40 L519.54,160.40 L519.56,159.40 L519.59,158.40 L519.62,157.40 L519.65,156.40 L519.68,155.40 L519.71,154.40 L519.75,153.40 L519.79,152.40 L519.83,151.40 L519.87,150.40 L519.96,149.40 L520.09,148.40 L520.24,147.40 L520.42,146.40 L520.60,145.40 L520.77,144.40 L520.93,143.40 L521.10,142.40 L521.29,141.40 L521.48,140.40 L521.69,139.40 L521.93,138.40 L522.21,137.40 L522.55,136.40 L522.91,135.40 L523.24,134.40 L523.50,133.40 L523.74,132.40 L523.96,131.40 L524.17,130.40 L524.37,129.40 L524.57,128.40 L524.76,127.40 L524.94,126.40 L525.11,125.40 L525.28,124.40 L525.44,123.40 L525.60,122.40 L525.76,121.40 L525.93,120.40 L526.10,119.40 L526.26,118.40 L526.40,117.40 L526.49,116.40 L526.55,115.40 L526.55,114.40 L526.52,113.40 L526.48,112.40 L526.43,111.40 L526.37,110.40 L526.32,109.40 L526.25,108.40 L526.17,107.40 L526.09,106.40 L526.00,105.40 L525.91,104.40 L525.81,103.40 L525.70,102.40 L525.57,101.40 L525.45,100.40 L525.33,99.40 L525.22,98.40 L525.14,97.40 L525.09,96.40 L525.05,95.40 L525.01,94.40 L524.97,93.40 L524.93,92.40 L524.86,91.40 L524.72,90.40 L524.52,89.40 L524.35,88.40 L524.20,87.40 L524.04,86.40 L523.89,85.40 L523.72,84.40 L523.54,83.40 L523.34,82.40 L523.13,81.40 L522.91,80.40 L522.69,79.40 L522.49,78.40 L522.29,77.40 L522.11,76.40 L521.93,75.40 L521.75,74.40 L521.58,73.40 L521.42,72.40 L521.25,71.40 L521.08,70.40 L520.91,69.40 L520.75,68.40 L520.59,67.40 L520.44,66.40 L520.30,65.40 L520.18,64.40 L520.06,63.40 L519.94,62.40 L519.84,61.40 L519.75,60.40 L519.68,59.40 L519.64,58.40 L519.60,57.40 L519.57,56.40 L519.53,55.40 L519.50,54.40 L519.48,53.40 L519.45,52.40 L519.43,51.40 L519.41,50.40 L519.39,49.40 L519.38,48.40 L519.37,47.40 L519.36,46.40 L519.35,45.40 L519.35,44.40Z" fill="#828282" stroke="#333333" stroke-width="1.4" stroke-linejoin="round"/>
<line x1="519.35" y1="62" x2="519.35" y2="151" stroke="#222" stroke-opacity="0.8" stroke-width="1.4"/>
<rect x="518.30" y="96.3" width="2.1" height="23.20" fill="#dcdcdc" stroke="#333333" stroke-width="0.9"/>
<line x1="518.30" y1="115.1" x2="520.40" y2="115.1" stroke="#333333" stroke-width="1.4"/>
<path d="M539.00,53.60 L539.00,54.60 L539.00,55.60 L538.99,56.60 L538.98,57.60 L538.97,58.60 L538.95,59.60 L538.94,60.60 L538.92,61.60 L538.90,62.60 L538.87,63.60 L538.85,64.60 L538.82,65.60 L538.79,66.60 L538.75,67.60 L538.72,68.60 L538.66,69.60 L538.56,70.60 L538.41,71.60 L538.24,72.60 L538.07,73.60 L537.90,74.60 L537.73,75.60 L537.55,76.60 L537.34,77.60 L537.11,78.60 L536.82,79.60 L536.44,80.60 L536.00,81.60 L535.53,82.60 L535.07,83.60 L534.65,84.60 L534.23,85.60 L533.82,86.60 L533.40,87.60 L532.98,88.60 L532.53,89.60 L532.03,90.60 L531.53,91.60 L531.11,92.60 L530.83,93.60 L530.69,94.60 L530.57,95.60 L530.47,96.60 L530.39,97.60 L530.33,98.60 L530.30,99.60 L530.31,100.60 L530.39,101.60 L530.53,102.60 L530.70,103.60 L530.89,104.60 L531.08,105.60 L531.25,106.60 L531.44,107.60 L531.64,108.60 L531.85,109.60 L532.07,110.60 L532.29,111.60 L532.50,112.60 L532.70,113.60 L532.91,114.60 L533.11,115.60 L533.31,116.60 L533.51,117.60 L533.72,118.60 L533.93,119.60 L534.14,120.60 L534.36,121.60 L534.58,122.60 L534.79,123.60 L534.99,124.60 L535.17,125.60 L535.35,126.60 L535.53,127.60 L535.70,128.60 L535.87,129.60 L536.02,130.60 L536.15,131.60 L536.27,132.60 L536.37,133.60 L536.46,134.60 L536.55,135.60 L536.64,136.60 L536.73,137.60 L536.83,138.60 L536.94,139.60 L537.05,140.60 L537.16,141.60 L537.28,142.60 L537.39,143.60 L537.51,144.60 L537.64,145.60 L537.78,146.60 L537.92,147.60 L538.06,148.60 L538.18,149.60 L538.28,150.60 L538.37,151.60 L538.45,152.60 L538.52,153.60 L538.59,154.60 L538.65,155.60 L538.69,156.60 L538.72,157.60 L538.74,158.60 L538.77,159.60 L538.79,160.60 L538.82,161.60 L538.84,162.60 L538.86,163.60 L538.88,164.60 L538.90,165.60 L538.92,166.60 L538.93,167.60 L538.95,168.60 L538.96,169.60 L538.97,170.60 L538.98,171.60 L538.99,172.60 L538.99,173.60 L539.00,174.60 L539.00,175.60 L539.00,176.20 L539.00,176.20 L539.00,175.60 L539.00,174.60 L539.01,173.60 L539.01,172.60 L539.02,171.60 L539.03,170.60 L539.04,169.60 L539.05,168.60 L539.07,167.60 L539.08,166.60 L539.10,165.60 L539.12,164.60 L539.14,163.60 L539.16,162.60 L539.18,161.60 L539.21,160.60 L539.23,159.60 L539.26,158.60 L539.28,157.60 L539.31,156.60 L539.35,155.60 L539.41,154.60 L539.48,153.60 L539.55,152.60 L539.63,151.60 L539.72,150.60 L539.82,149.60 L539.94,148.60 L540.08,147.60 L540.22,146.60 L540.36,145.60 L540.49,144.60 L540.61,143.60 L540.72,142.60 L540.84,141.60 L540.95,140.60 L541.06,139.60 L541.17,138.60 L541.27,137.60 L541.36,136.60 L541.45,135.60 L541.54,134.60 L541.63,133.60 L541.73,132.60 L541.85,131.60 L541.98,130.60 L542.13,129.60 L542.30,128.60 L542.47,127.60 L542.65,126.60 L542.83,125.60 L543.01,124.60 L543.21,123.60 L543.42,122.60 L543.64,121.60 L543.86,120.60 L544.07,119.60 L544.28,118.60 L544.49,117.60 L544.69,116.60 L544.89,115.60 L545.09,114.60 L545.30,113.60 L545.50,112.60 L545.71,111.60 L545.93,110.60 L546.15,109.60 L546.36,108.60 L546.56,107.60 L546.75,106.60 L546.92,105.60 L547.11,104.60 L547.30,103.60 L547.47,102.60 L547.61,101.60 L547.69,100.60 L547.70,99.60 L547.67,98.60 L547.61,97.60 L547.53,96.60 L547.43,95.60 L547.31,94.60 L547.17,93.60 L546.89,92.60 L546.47,91.60 L545.97,90.60 L545.47,89.60 L545.02,88.60 L544.60,87.60 L544.18,86.60 L543.77,85.60 L543.35,84.60 L542.93,83.60 L542.47,82.60 L542.00,81.60 L541.56,80.60 L541.18,79.60 L540.89,78.60 L540.66,77.60 L540.45,76.60 L540.27,75.60 L540.10,74.60 L539.93,73.60 L539.76,72.60 L539.59,71.60 L539.44,70.60 L539.34,69.60 L539.28,68.60 L539.25,67.60 L539.21,66.60 L539.18,65.60 L539.15,64.60 L539.13,63.60 L539.10,62.60 L539.08,61.60 L539.06,60.60 L539.05,59.60 L539.03,58.60 L539.02,57.60 L539.01,56.60 L539.00,55.60 L539.00,54.60 L539.00,53.60Z" fill="#dcdcdc" stroke="#333333" stroke-width="1.4" stroke-linejoin="round"/>
<line x1="539" y1="75" x2="539" y2="151" stroke="#222" stroke-opacity="0.8" stroke-width="1.4"/>
<rect x="537.95" y="96.3" width="2.1" height="23.20" fill="#9a9a9a" stroke="#333333" stroke-width="0.9"/>
<line x1="537.95" y1="105" x2="540.05" y2="105" stroke="#333333" stroke-width="1.4"/>
<path d="M568.35,74.00 L568.35,75.00 L568.34,76.00 L568.32,77.00 L568.30,78.00 L568.28,79.00 L568.25,80.00 L568.22,81.00 L568.18,82.00 L568.14,83.00 L568.10,84.00 L568.05,85.00 L567.98,86.00 L567.88,87.00 L567.76,88.00 L567.62,89.00 L567.49,90.00 L567.38,91.00 L567.29,92.00 L567.21,93.00 L567.14,94.00 L567.08,95.00 L567.00,96.00 L566.90,97.00 L566.78,98.00 L566.62,99.00 L566.41,100.00 L566.18,101.00 L565.95,102.00 L565.72,103.00 L565.51,104.00 L565.31,105.00 L565.11,106.00 L564.92,107.00 L564.72,108.00 L564.53,109.00 L564.35,110.00 L564.17,111.00 L564.00,112.00 L563.84,113.00 L563.67,114.00 L563.50,115.00 L563.32,116.00 L563.13,117.00 L562.93,118.00 L562.71,119.00 L562.49,120.00 L562.27,121.00 L562.07,122.00 L561.90,123.00 L561.74,124.00 L561.59,125.00 L561.45,126.00 L561.31,127.00 L561.18,128.00 L561.05,129.00 L560.90,130.00 L560.73,131.00 L560.60,132.00 L560.55,133.00 L560.60,134.00 L560.72,135.00 L560.89,136.00 L561.09,137.00 L561.29,138.00 L561.49,139.00 L561.71,140.00 L561.95,141.00 L562.20,142.00 L562.46,143.00 L562.72,144.00 L562.98,145.00 L563.25,146.00 L563.52,147.00 L563.80,148.00 L564.07,149.00 L564.34,150.00 L564.60,151.00 L564.86,152.00 L565.11,153.00 L565.36,154.00 L565.60,155.00 L565.83,156.00 L566.05,157.00 L566.26,158.00 L566.46,159.00 L566.65,160.00 L566.83,161.00 L567.01,162.00 L567.18,163.00 L567.36,164.00 L567.55,165.00 L567.73,166.00 L567.90,167.00 L568.01,168.00 L568.08,169.00 L568.12,170.00 L568.17,171.00 L568.21,172.00 L568.25,173.00 L568.28,174.00 L568.30,175.00 L568.32,176.00 L568.34,177.00 L568.35,178.00 L568.35,179.00 L568.35,179.00 L568.35,178.00 L568.36,177.00 L568.38,176.00 L568.40,175.00 L568.42,174.00 L568.45,173.00 L568.49,172.00 L568.53,171.00 L568.58,170.00 L568.62,169.00 L568.69,168.00 L568.80,167.00 L568.97,166.00 L569.15,165.00 L569.34,164.00 L569.52,163.00 L569.69,162.00 L569.87,161.00 L570.05,160.00 L570.24,159.00 L570.44,158.00 L570.65,157.00 L570.87,156.00 L571.10,155.00 L571.34,154.00 L571.59,153.00 L571.84,152.00 L572.10,151.00 L572.36,150.00 L572.63,149.00 L572.90,148.00 L573.18,147.00 L573.45,146.00 L573.72,145.00 L573.98,144.00 L574.24,143.00 L574.50,142.00 L574.75,141.00 L574.99,140.00 L575.21,139.00 L575.41,138.00 L575.61,137.00 L575.81,136.00 L575.98,135.00 L576.10,134.00 L576.15,133.00 L576.10,132.00 L575.97,131.00 L575.80,130.00 L575.65,129.00 L575.52,128.00 L575.39,127.00 L575.25,126.00 L575.11,125.00 L574.96,124.00 L574.80,123.00 L574.63,122.00 L574.43,121.00 L574.21,120.00 L573.99,119.00 L573.77,118.00 L573.57,117.00 L573.38,116.00 L573.20,115.00 L573.03,114.00 L572.86,113.00 L572.70,112.00 L572.53,111.00 L572.35,110.00 L572.17,109.00 L571.98,108.00 L571.78,107.00 L571.59,106.00 L571.39,105.00 L571.19,104.00 L570.98,103.00 L570.75,102.00 L570.52,101.00 L570.29,100.00 L570.08,99.00 L569.92,98.00 L569.80,97.00 L569.70,96.00 L569.62,95.00 L569.56,94.00 L569.49,93.00 L569.41,92.00 L569.32,91.00 L569.21,90.00 L569.08,89.00 L568.94,88.00 L568.82,87.00 L568.72,86.00 L568.65,85.00 L568.60,84.00 L568.56,83.00 L568.52,82.00 L568.48,81.00 L568.45,80.00 L568.42,79.00 L568.40,78.00 L568.38,77.00 L568.36,76.00 L568.35,75.00 L568.35,74.00Z" fill="#828282" stroke="#333333" stroke-width="1.4" stroke-linejoin="round"/>
<line x1="568.35" y1="98" x2="568.35" y2="156.5" stroke="#222" stroke-opacity="0.8" stroke-width="1.4"/>
<rect x="567.30" y="114.5" width="2.1" height="23.80" fill="#dcdcdc" stroke="#333333" stroke-width="0.9"/>
<line x1="567.30" y1="134" x2="569.40" y2="134" stroke="#333333" stroke-width="1.4"/>
<path d="M587.80,77.10 L587.77,78.10 L587.73,79.10 L587.67,80.10 L587.61,81.10 L587.54,82.10 L587.46,83.10 L587.38,84.10 L587.29,85.10 L587.19,86.10 L587.06,87.10 L586.92,88.10 L586.79,89.10 L586.66,90.10 L586.53,91.10 L586.37,92.10 L586.18,93.10 L585.98,94.10 L585.77,95.10 L585.57,96.10 L585.37,97.10 L585.20,98.10 L585.03,99.10 L584.88,100.10 L584.73,101.10 L584.57,102.10 L584.41,103.10 L584.25,104.10 L584.08,105.10 L583.91,106.10 L583.73,107.10 L583.55,108.10 L583.37,109.10 L583.18,110.10 L582.99,111.10 L582.80,112.10 L582.60,113.10 L582.40,114.10 L582.19,115.10 L581.97,116.10 L581.74,117.10 L581.49,118.10 L581.24,119.10 L580.98,120.10 L580.72,121.10 L580.46,122.10 L580.19,123.10 L579.88,124.10 L579.55,125.10 L579.26,126.10 L579.06,127.10 L578.98,128.10 L578.94,129.10 L578.91,130.10 L578.90,131.10 L579.02,132.10 L579.31,133.10 L579.73,134.10 L580.22,135.10 L580.75,136.10 L581.26,137.10 L581.72,138.10 L582.12,139.10 L582.53,140.10 L582.94,141.10 L583.34,142.10 L583.72,143.10 L584.07,144.10 L584.39,145.10 L584.68,146.10 L584.96,147.10 L585.22,148.10 L585.48,149.10 L585.73,150.10 L585.98,151.10 L586.24,152.10 L586.52,153.10 L586.79,154.10 L587.02,155.10 L587.20,156.10 L587.31,157.10 L587.37,158.10 L587.43,159.10 L587.49,160.10 L587.54,161.10 L587.58,162.10 L587.63,163.10 L587.66,164.10 L587.70,165.10 L587.73,166.10 L587.75,167.10 L587.77,168.10 L587.79,169.10 L587.80,170.10 L587.80,171.10 L587.80,171.50 L587.80,171.50 L587.80,171.10 L587.80,170.10 L587.81,169.10 L587.83,168.10 L587.85,167.10 L587.87,166.10 L587.90,165.10 L587.94,164.10 L587.97,163.10 L588.02,162.10 L588.06,161.10 L588.11,160.10 L588.17,159.10 L588.23,158.10 L588.29,157.10 L588.40,156.10 L588.58,155.10 L588.81,154.10 L589.08,153.10 L589.36,152.10 L589.62,151.10 L589.87,150.10 L590.12,149.10 L590.38,148.10 L590.64,147.10 L590.92,146.10 L591.21,145.10 L591.53,144.10 L591.88,143.10 L592.26,142.10 L592.66,141.10 L593.07,140.10 L593.48,139.10 L593.88,138.10 L594.34,137.10 L594.85,136.10 L595.38,135.10 L595.87,134.10 L596.29,133.10 L596.58,132.10 L596.70,131.10 L596.69,130.10 L596.66,129.10 L596.62,128.10 L596.54,127.10 L596.34,126.10 L596.05,125.10 L595.72,124.10 L595.41,123.10 L595.14,122.10 L594.88,121.10 L594.62,120.10 L594.36,119.10 L594.11,118.10 L593.86,117.10 L593.63,116.10 L593.41,115.10 L593.20,114.10 L593.00,113.10 L592.80,112.10 L592.61,111.10 L592.42,110.10 L592.23,109.10 L592.05,108.10 L591.87,107.10 L591.69,106.10 L591.52,105.10 L591.35,104.10 L591.19,103.10 L591.03,102.10 L590.87,101.10 L590.72,100.10 L590.57,99.10 L590.40,98.10 L590.23,97.10 L590.03,96.10 L589.83,95.10 L589.62,94.10 L589.42,93.10 L589.23,92.10 L589.07,91.10 L588.94,90.10 L588.81,89.10 L588.68,88.10 L588.54,87.10 L588.41,86.10 L588.31,85.10 L588.22,84.10 L588.14,83.10 L588.06,82.10 L587.99,81.10 L587.93,80.10 L587.87,79.10 L587.83,78.10 L587.80,77.10Z" fill="#dcdcdc" stroke="#333333" stroke-width="1.4" stroke-linejoin="round"/>
<line x1="587.8" y1="100" x2="587.8" y2="151.5" stroke="#222" stroke-opacity="0.8" stroke-width="1.4"/>
<rect x="586.75" y="114.5" width="2.1" height="18.80" fill="#dcdcdc" stroke="#333333" stroke-width="0.9"/>
<line x1="586.75" y1="128.5" x2="588.85" y2="128.5" stroke="#333333" stroke-width="1.4"/>
<line x1="404.8" y1="221.75" x2="404.8" y2="388.8" stroke="#333333" stroke-width="1.4"/>
<line x1="401.8" y1="261.2" x2="404.8" y2="261.2" stroke="#333333" stroke-width="1.2"/>
<text x="399.3" y="264.34999999999997" font-size="8.8" font-weight="normal" text-anchor="end" fill="#303030" stroke="#303030" stroke-width="0.25">4</text>
<line x1="401.8" y1="308.2" x2="404.8" y2="308.2" stroke="#333333" stroke-width="1.2"/>
<text x="399.3" y="311.34999999999997" font-size="8.8" font-weight="normal" text-anchor="end" fill="#303030" stroke="#303030" stroke-width="0.25">2</text>
<line x1="401.8" y1="355.2" x2="404.8" y2="355.2" stroke="#333333" stroke-width="1.2"/>
<text x="399.3" y="358.34999999999997" font-size="8.8" font-weight="normal" text-anchor="end" fill="#303030" stroke="#303030" stroke-width="0.25">0</text>
<line x1="404.1" y1="388.1" x2="452.8" y2="388.1" stroke="#333333" stroke-width="1.4"/>
<line x1="458.2" y1="388.1" x2="505.8" y2="388.1" stroke="#333333" stroke-width="1.4"/>
<line x1="511.25" y1="388.1" x2="559.2" y2="388.1" stroke="#333333" stroke-width="1.4"/>
<line x1="564.75" y1="388.1" x2="612.1" y2="388.1" stroke="#333333" stroke-width="1.4"/>
<line x1="417.8" y1="388.1" x2="417.8" y2="392.6" stroke="#333333" stroke-width="1.2"/>
<line x1="439.5" y1="388.1" x2="439.5" y2="392.6" stroke="#333333" stroke-width="1.2"/>
<line x1="471" y1="388.1" x2="471" y2="392.6" stroke="#333333" stroke-width="1.2"/>
<line x1="492.7" y1="388.1" x2="492.7" y2="392.6" stroke="#333333" stroke-width="1.2"/>
<line x1="524.3" y1="388.1" x2="524.3" y2="392.6" stroke="#333333" stroke-width="1.2"/>
<line x1="545.9" y1="388.1" x2="545.9" y2="392.6" stroke="#333333" stroke-width="1.2"/>
<line x1="577.5" y1="388.1" x2="577.5" y2="392.6" stroke="#333333" stroke-width="1.2"/>
<line x1="599.2" y1="388.1" x2="599.2" y2="392.6" stroke="#333333" stroke-width="1.2"/>
<path d="M417.80,236.80 L417.80,237.80 L417.80,238.80 L417.80,239.80 L417.80,240.80 L417.79,241.80 L417.79,242.80 L417.79,243.80 L417.78,244.80 L417.78,245.80 L417.78,246.80 L417.77,247.80 L417.77,248.80 L417.76,249.80 L417.75,250.80 L417.74,251.80 L417.74,252.80 L417.73,253.80 L417.72,254.80 L417.71,255.80 L417.70,256.80 L417.69,257.80 L417.68,258.80 L417.66,259.80 L417.65,260.80 L417.64,261.80 L417.62,262.80 L417.61,263.80 L417.59,264.80 L417.58,265.80 L417.56,266.80 L417.54,267.80 L417.52,268.80 L417.50,269.80 L417.48,270.80 L417.43,271.80 L417.36,272.80 L417.27,273.80 L417.17,274.80 L417.06,275.80 L416.93,276.80 L416.80,277.80 L416.66,278.80 L416.47,279.80 L416.24,280.80 L415.98,281.80 L415.69,282.80 L415.39,283.80 L415.10,284.80 L414.79,285.80 L414.44,286.80 L414.08,287.80 L413.72,288.80 L413.38,289.80 L413.06,290.80 L412.77,291.80 L412.47,292.80 L412.19,293.80 L411.92,294.80 L411.69,295.80 L411.49,296.80 L411.34,297.80 L411.21,298.80 L411.08,299.80 L410.97,300.80 L410.88,301.80 L410.82,302.80 L410.80,303.80 L410.81,304.80 L410.83,305.80 L410.86,306.80 L410.90,307.80 L410.94,308.80 L410.99,309.80 L411.05,310.80 L411.14,311.80 L411.26,312.80 L411.37,313.80 L411.48,314.80 L411.57,315.80 L411.65,316.80 L411.72,317.80 L411.81,318.80 L411.91,319.80 L412.05,320.80 L412.25,321.80 L412.52,322.80 L412.84,323.80 L413.19,324.80 L413.55,325.80 L413.90,326.80 L414.28,327.80 L414.71,328.80 L415.15,329.80 L415.59,330.80 L416.00,331.80 L416.34,332.80 L416.63,333.80 L416.91,334.80 L417.16,335.80 L417.36,336.80 L417.49,337.80 L417.55,338.80 L417.60,339.80 L417.65,340.80 L417.69,341.80 L417.73,342.80 L417.76,343.80 L417.78,344.80 L417.79,345.80 L417.80,346.80 L417.80,347.20 L417.80,347.20 L417.80,346.80 L417.81,345.80 L417.82,344.80 L417.84,343.80 L417.87,342.80 L417.91,341.80 L417.95,340.80 L418.00,339.80 L418.05,338.80 L418.11,337.80 L418.24,336.80 L418.44,335.80 L418.69,334.80 L418.97,333.80 L419.26,332.80 L419.60,331.80 L420.01,330.80 L420.45,329.80 L420.89,328.80 L421.32,327.80 L421.70,326.80 L422.05,325.80 L422.41,324.80 L422.76,323.80 L423.08,322.80 L423.35,321.80 L423.55,320.80 L423.69,319.80 L423.79,318.80 L423.88,317.80 L423.95,316.80 L424.03,315.80 L424.12,314.80 L424.23,313.80 L424.34,312.80 L424.46,311.80 L424.55,310.80 L424.61,309.80 L424.66,308.80 L424.70,307.80 L424.74,306.80 L424.77,305.80 L424.79,304.80 L424.80,303.80 L424.78,302.80 L424.72,301.80 L424.63,300.80 L424.52,299.80 L424.39,298.80 L424.26,297.80 L424.11,296.80 L423.91,295.80 L423.68,294.80 L423.41,293.80 L423.13,292.80 L422.83,291.80 L422.54,290.80 L422.22,289.80 L421.88,288.80 L421.52,287.80 L421.16,286.80 L420.81,285.80 L420.50,284.80 L420.21,283.80 L419.91,282.80 L419.62,281.80 L419.36,280.80 L419.13,279.80 L418.94,278.80 L418.80,277.80 L418.67,276.80 L418.54,275.80 L418.43,274.80 L418.33,273.80 L418.24,272.80 L418.17,271.80 L418.12,270.80 L418.10,269.80 L418.08,268.80 L418.06,267.80 L418.04,266.80 L418.02,265.80 L418.01,264.80 L417.99,263.80 L417.98,262.80 L417.96,261.80 L417.95,260.80 L417.94,259.80 L417.92,258.80 L417.91,257.80 L417.90,256.80 L417.89,255.80 L417.88,254.80 L417.87,253.80 L417.86,252.80 L417.86,251.80 L417.85,250.80 L417.84,249.80 L417.83,248.80 L417.83,247.80 L417.82,246.80 L417.82,245.80 L417.82,244.80 L417.81,243.80 L417.81,242.80 L417.81,241.80 L417.80,240.80 L417.80,239.80 L417.80,238.80 L417.80,237.80 L417.80,236.80Z" fill="#828282" stroke="#333333" stroke-width="1.4" stroke-linejoin="round"/>
<line x1="417.8" y1="284" x2="417.8" y2="324.3" stroke="#222" stroke-opacity="0.8" stroke-width="1.4"/>
<rect x="416.75" y="297.4" width="2.1" height="22.60" fill="#dcdcdc" stroke="#333333" stroke-width="0.9"/>
<line x1="416.75" y1="305.2" x2="418.85" y2="305.2" stroke="#333333" stroke-width="1.4"/>
<circle cx="417.8" cy="259" r="2.5" fill="#333333"/>
<path d="M439.50,259.80 L439.49,260.80 L439.48,261.80 L439.45,262.80 L439.42,263.80 L439.38,264.80 L439.34,265.80 L439.29,266.80 L439.23,267.80 L439.17,268.80 L439.11,269.80 L439.04,270.80 L438.93,271.80 L438.80,272.80 L438.68,273.80 L438.56,274.80 L438.47,275.80 L438.38,276.80 L438.31,277.80 L438.24,278.80 L438.17,279.80 L438.11,280.80 L438.06,281.80 L438.01,282.80 L437.97,283.80 L437.93,284.80 L437.89,285.80 L437.83,286.80 L437.77,287.80 L437.69,288.80 L437.60,289.80 L437.47,290.80 L437.32,291.80 L437.08,292.80 L436.50,293.80 L435.69,294.80 L434.85,295.80 L434.06,296.80 L433.17,297.80 L432.32,298.80 L431.61,299.80 L431.08,300.80 L430.61,301.80 L430.23,302.80 L429.98,303.80 L429.82,304.80 L429.71,305.80 L429.72,306.80 L429.82,307.80 L430.01,308.80 L430.25,309.80 L430.75,310.80 L431.40,311.80 L431.75,312.80 L432.03,313.80 L432.25,314.80 L432.46,315.80 L432.62,316.80 L432.76,317.80 L432.90,318.80 L433.06,319.80 L433.27,320.80 L433.55,321.80 L433.88,322.80 L434.26,323.80 L434.67,324.80 L435.09,325.80 L435.58,326.80 L436.13,327.80 L436.69,328.80 L437.23,329.80 L437.69,330.80 L438.16,331.80 L438.61,332.80 L438.92,333.80 L439.02,334.80 L439.06,335.80 L439.10,336.80 L439.13,337.80 L439.16,338.80 L439.19,339.80 L439.21,340.80 L439.23,341.80 L439.25,342.80 L439.26,343.80 L439.27,344.80 L439.28,345.80 L439.29,346.80 L439.30,347.80 L439.30,348.80 L439.30,349.80 L439.25,350.80 L439.08,351.80 L438.85,352.80 L438.64,353.80 L438.51,354.80 L438.52,355.80 L438.64,356.80 L438.82,357.80 L439.01,358.80 L439.18,359.80 L439.29,360.80 L439.33,361.80 L439.36,362.80 L439.39,363.80 L439.41,364.80 L439.44,365.80 L439.46,366.80 L439.47,367.80 L439.49,368.80 L439.49,369.80 L439.50,370.80 L439.50,371.60 L439.50,371.60 L439.50,370.80 L439.51,369.80 L439.51,368.80 L439.53,367.80 L439.54,366.80 L439.56,365.80 L439.59,364.80 L439.61,363.80 L439.64,362.80 L439.67,361.80 L439.71,360.80 L439.82,359.80 L439.99,358.80 L440.18,357.80 L440.36,356.80 L440.48,355.80 L440.49,354.80 L440.36,353.80 L440.15,352.80 L439.92,351.80 L439.75,350.80 L439.70,349.80 L439.70,348.80 L439.70,347.80 L439.71,346.80 L439.72,345.80 L439.73,344.80 L439.74,343.80 L439.75,342.80 L439.77,341.80 L439.79,340.80 L439.81,339.80 L439.84,338.80 L439.87,337.80 L439.90,336.80 L439.94,335.80 L439.98,334.80 L440.08,333.80 L440.39,332.80 L440.84,331.80 L441.31,330.80 L441.77,329.80 L442.31,328.80 L442.87,327.80 L443.42,326.80 L443.91,325.80 L444.33,324.80 L444.74,323.80 L445.12,322.80 L445.45,321.80 L445.73,320.80 L445.94,319.80 L446.10,318.80 L446.24,317.80 L446.38,316.80 L446.54,315.80 L446.75,314.80 L446.97,313.80 L447.25,312.80 L447.60,311.80 L448.25,310.80 L448.75,309.80 L448.99,308.80 L449.18,307.80 L449.28,306.80 L449.29,305.80 L449.18,304.80 L449.02,303.80 L448.77,302.80 L448.39,301.80 L447.92,300.80 L447.39,299.80 L446.68,298.80 L445.83,297.80 L444.94,296.80 L444.15,295.80 L443.31,294.80 L442.50,293.80 L441.92,292.80 L441.68,291.80 L441.53,290.80 L441.40,289.80 L441.31,288.80 L441.23,287.80 L441.17,286.80 L441.11,285.80 L441.07,284.80 L441.03,283.80 L440.99,282.80 L440.94,281.80 L440.89,280.80 L440.83,279.80 L440.76,278.80 L440.69,277.80 L440.62,276.80 L440.53,275.80 L440.44,274.80 L440.32,273.80 L440.20,272.80 L440.07,271.80 L439.96,270.80 L439.89,269.80 L439.83,268.80 L439.77,267.80 L439.71,266.80 L439.66,265.80 L439.62,264.80 L439.58,263.80 L439.55,262.80 L439.52,261.80 L439.51,260.80 L439.50,259.80Z" fill="#dcdcdc" stroke="#333333" stroke-width="1.4" stroke-linejoin="round"/>
<line x1="439.5" y1="290" x2="439.5" y2="324.3" stroke="#222" stroke-opacity="0.8" stroke-width="1.4"/>
<rect x="438.45" y="303.7" width="2.1" height="16.30" fill="#dcdcdc" stroke="#333333" stroke-width="0.9"/>
<line x1="438.45" y1="306.2" x2="440.55" y2="306.2" stroke="#333333" stroke-width="1.4"/>
<circle cx="439.5" cy="275.4" r="2.5" fill="#333333"/>
<circle cx="439.5" cy="355.2" r="2.5" fill="#333333"/>
<path d="M471.00,227.20 L470.96,228.20 L470.93,229.20 L470.88,230.20 L470.84,231.20 L470.79,232.20 L470.74,233.20 L470.69,234.20 L470.64,235.20 L470.58,236.20 L470.52,237.20 L470.46,238.20 L470.40,239.20 L470.34,240.20 L470.27,241.20 L470.19,242.20 L470.09,243.20 L469.99,244.20 L469.88,245.20 L469.77,246.20 L469.67,247.20 L469.59,248.20 L469.53,249.20 L469.50,250.20 L469.51,251.20 L469.54,252.20 L469.60,253.20 L469.67,254.20 L469.75,255.20 L469.84,256.20 L469.91,257.20 L469.96,258.20 L470.00,259.20 L470.00,260.20 L470.00,261.20 L470.00,262.20 L470.00,263.20 L470.00,264.20 L470.00,265.20 L470.00,266.20 L469.97,267.20 L469.89,268.20 L469.78,269.20 L469.64,270.20 L469.49,271.20 L469.32,272.20 L469.09,273.20 L468.77,274.20 L468.37,275.20 L467.92,276.20 L467.47,277.20 L467.02,278.20 L466.60,279.20 L466.15,280.20 L465.67,281.20 L465.21,282.20 L464.77,283.20 L464.39,284.20 L464.08,285.20 L463.79,286.20 L463.52,287.20 L463.28,288.20 L463.06,289.20 L462.90,290.20 L462.78,291.20 L462.69,292.20 L462.60,293.20 L462.52,294.20 L462.46,295.20 L462.42,296.20 L462.40,297.20 L462.40,298.20 L462.42,299.20 L462.45,300.20 L462.49,301.20 L462.53,302.20 L462.58,303.20 L462.63,304.20 L462.69,305.20 L462.76,306.20 L462.85,307.20 L462.96,308.20 L463.09,309.20 L463.23,310.20 L463.47,311.20 L463.79,312.20 L464.14,313.20 L464.47,314.20 L464.76,315.20 L465.06,316.20 L465.34,317.20 L465.63,318.20 L465.92,319.20 L466.21,320.20 L466.51,321.20 L466.81,322.20 L467.11,323.20 L467.41,324.20 L467.71,325.20 L468.02,326.20 L468.33,327.20 L468.66,328.20 L469.01,329.20 L469.36,330.20 L469.67,331.20 L469.94,332.20 L470.13,333.20 L470.30,334.20 L470.45,335.20 L470.58,336.20 L470.67,337.20 L470.70,338.20 L470.72,339.20 L470.73,340.20 L470.75,341.20 L470.76,342.20 L470.77,343.20 L470.78,344.20 L470.79,345.20 L470.79,346.20 L470.80,347.20 L470.80,348.20 L470.80,349.20 L470.80,350.20 L470.69,351.20 L470.49,352.20 L470.26,353.20 L470.08,354.20 L470.00,355.20 L470.04,356.20 L470.16,357.20 L470.31,358.20 L470.48,359.20 L470.64,360.20 L470.75,361.20 L470.80,362.20 L470.83,363.20 L470.85,364.20 L470.87,365.20 L470.89,366.20 L470.91,367.20 L470.92,368.20 L470.94,369.20 L470.95,370.20 L470.96,371.20 L470.97,372.20 L470.98,373.20 L470.99,374.20 L470.99,375.20 L471.00,376.20 L471.00,377.20 L471.00,378.20 L471.00,378.40 L471.00,378.40 L471.00,378.20 L471.00,377.20 L471.00,376.20 L471.01,375.20 L471.01,374.20 L471.02,373.20 L471.03,372.20 L471.04,371.20 L471.05,370.20 L471.06,369.20 L471.08,368.20 L471.09,367.20 L471.11,366.20 L471.13,365.20 L471.15,364.20 L471.17,363.20 L471.20,362.20 L471.25,361.20 L471.36,360.20 L471.52,359.20 L471.69,358.20 L471.84,357.20 L471.96,356.20 L472.00,355.20 L471.92,354.20 L471.74,353.20 L471.51,352.20 L471.31,351.20 L471.20,350.20 L471.20,349.20 L471.20,348.20 L471.20,347.20 L471.21,346.20 L471.21,345.20 L471.22,344.20 L471.23,343.20 L471.24,342.20 L471.25,341.20 L471.27,340.20 L471.28,339.20 L471.30,338.20 L471.33,337.20 L471.42,336.20 L471.55,335.20 L471.70,334.20 L471.87,333.20 L472.06,332.20 L472.33,331.20 L472.64,330.20 L472.99,329.20 L473.34,328.20 L473.67,327.20 L473.98,326.20 L474.29,325.20 L474.59,324.20 L474.89,323.20 L475.19,322.20 L475.49,321.20 L475.79,320.20 L476.08,319.20 L476.37,318.20 L476.66,317.20 L476.94,316.20 L477.24,315.20 L477.53,314.20 L477.86,313.20 L478.21,312.20 L478.53,311.20 L478.77,310.20 L478.91,309.20 L479.04,308.20 L479.15,307.20 L479.24,306.20 L479.31,305.20 L479.37,304.20 L479.42,303.20 L479.47,302.20 L479.51,301.20 L479.55,300.20 L479.58,299.20 L479.60,298.20 L479.60,297.20 L479.58,296.20 L479.54,295.20 L479.48,294.20 L479.40,293.20 L479.31,292.20 L479.22,291.20 L479.10,290.20 L478.94,289.20 L478.72,288.20 L478.48,287.20 L478.21,286.20 L477.92,285.20 L477.61,284.20 L477.23,283.20 L476.79,282.20 L476.33,281.20 L475.85,280.20 L475.40,279.20 L474.98,278.20 L474.53,277.20 L474.08,276.20 L473.63,275.20 L473.23,274.20 L472.91,273.20 L472.68,272.20 L472.51,271.20 L472.36,270.20 L472.22,269.20 L472.11,268.20 L472.03,267.20 L472.00,266.20 L472.00,265.20 L472.00,264.20 L472.00,263.20 L472.00,262.20 L472.00,261.20 L472.00,260.20 L472.00,259.20 L472.04,258.20 L472.09,257.20 L472.16,256.20 L472.25,255.20 L472.33,254.20 L472.40,253.20 L472.46,252.20 L472.49,251.20 L472.50,250.20 L472.47,249.20 L472.41,248.20 L472.33,247.20 L472.23,246.20 L472.12,245.20 L472.01,244.20 L471.91,243.20 L471.81,242.20 L471.73,241.20 L471.66,240.20 L471.60,239.20 L471.54,238.20 L471.48,237.20 L471.42,236.20 L471.36,235.20 L471.31,234.20 L471.26,233.20 L471.21,232.20 L471.16,231.20 L471.12,230.20 L471.07,229.20 L471.04,228.20 L471.00,227.20Z" fill="#828282" stroke="#333333" stroke-width="1.4" stroke-linejoin="round"/>
<line x1="471" y1="271" x2="471" y2="324.3" stroke="#222" stroke-opacity="0.8" stroke-width="1.4"/>
<rect x="469.95" y="287.6" width="2.1" height="21.70" fill="#dcdcdc" stroke="#333333" stroke-width="0.9"/>
<line x1="469.95" y1="301.4" x2="472.05" y2="301.4" stroke="#333333" stroke-width="1.4"/>
<circle cx="471" cy="250.6" r="2.5" fill="#333333"/>
<circle cx="471" cy="355.2" r="2.5" fill="#333333"/>
<path d="M492.70,255.70 L492.67,256.70 L492.64,257.70 L492.60,258.70 L492.56,259.70 L492.51,260.70 L492.46,261.70 L492.40,262.70 L492.34,263.70 L492.28,264.70 L492.22,265.70 L492.16,266.70 L492.09,267.70 L492.01,268.70 L491.90,269.70 L491.68,270.70 L491.37,271.70 L491.09,272.70 L490.82,273.70 L490.55,274.70 L490.29,275.70 L490.03,276.70 L489.78,277.70 L489.56,278.70 L489.35,279.70 L489.15,280.70 L488.96,281.70 L488.77,282.70 L488.59,283.70 L488.42,284.70 L488.25,285.70 L488.09,286.70 L487.93,287.70 L487.77,288.70 L487.62,289.70 L487.45,290.70 L487.28,291.70 L487.09,292.70 L486.91,293.70 L486.72,294.70 L486.52,295.70 L486.33,296.70 L486.14,297.70 L485.96,298.70 L485.77,299.70 L485.58,300.70 L485.39,301.70 L485.20,302.70 L485.00,303.70 L484.80,304.70 L484.58,305.70 L484.37,306.70 L484.16,307.70 L483.95,308.70 L483.76,309.70 L483.56,310.70 L483.35,311.70 L483.15,312.70 L483.02,313.70 L483.00,314.70 L483.03,315.70 L483.09,316.70 L483.17,317.70 L483.30,318.70 L483.57,319.70 L483.95,320.70 L484.39,321.70 L484.86,322.70 L485.36,323.70 L485.96,324.70 L486.64,325.70 L487.34,326.70 L488.01,327.70 L488.65,328.70 L489.31,329.70 L489.97,330.70 L490.57,331.70 L491.07,332.70 L491.49,333.70 L491.89,334.70 L492.21,335.70 L492.39,336.70 L492.39,337.70 L492.35,338.70 L492.28,339.70 L492.19,340.70 L492.03,341.70 L491.78,342.70 L491.46,343.70 L491.13,344.70 L490.80,345.70 L490.44,346.70 L490.02,347.70 L489.59,348.70 L489.24,349.70 L489.00,350.70 L488.85,351.70 L488.71,352.70 L488.59,353.70 L488.50,354.70 L488.43,355.70 L488.40,356.70 L488.46,357.70 L488.69,358.70 L489.03,359.70 L489.42,360.70 L489.77,361.70 L490.14,362.70 L490.56,363.70 L490.98,364.70 L491.36,365.70 L491.64,366.70 L491.82,367.70 L491.99,368.70 L492.15,369.70 L492.30,370.70 L492.42,371.70 L492.53,372.70 L492.62,373.70 L492.67,374.70 L492.70,375.70 L492.70,376.00 L492.70,376.00 L492.70,375.70 L492.73,374.70 L492.78,373.70 L492.87,372.70 L492.98,371.70 L493.10,370.70 L493.25,369.70 L493.41,368.70 L493.58,367.70 L493.76,366.70 L494.04,365.70 L494.42,364.70 L494.84,363.70 L495.26,362.70 L495.63,361.70 L495.98,360.70 L496.37,359.70 L496.71,358.70 L496.94,357.70 L497.00,356.70 L496.97,355.70 L496.90,354.70 L496.81,353.70 L496.69,352.70 L496.55,351.70 L496.40,350.70 L496.16,349.70 L495.81,348.70 L495.38,347.70 L494.96,346.70 L494.60,345.70 L494.27,344.70 L493.94,343.70 L493.62,342.70 L493.37,341.70 L493.21,340.70 L493.12,339.70 L493.05,338.70 L493.01,337.70 L493.01,336.70 L493.19,335.70 L493.51,334.70 L493.91,333.70 L494.33,332.70 L494.83,331.70 L495.43,330.70 L496.09,329.70 L496.75,328.70 L497.39,327.70 L498.06,326.70 L498.76,325.70 L499.44,324.70 L500.04,323.70 L500.54,322.70 L501.01,321.70 L501.45,320.70 L501.83,319.70 L502.10,318.70 L502.23,317.70 L502.31,316.70 L502.37,315.70 L502.40,314.70 L502.38,313.70 L502.25,312.70 L502.05,311.70 L501.84,310.70 L501.64,309.70 L501.45,308.70 L501.24,307.70 L501.03,306.70 L500.82,305.70 L500.60,304.70 L500.40,303.70 L500.20,302.70 L500.01,301.70 L499.82,300.70 L499.63,299.70 L499.44,298.70 L499.26,297.70 L499.07,296.70 L498.88,295.70 L498.68,294.70 L498.49,293.70 L498.31,292.70 L498.12,291.70 L497.95,290.70 L497.78,289.70 L497.63,288.70 L497.47,287.70 L497.31,286.70 L497.15,285.70 L496.98,284.70 L496.81,283.70 L496.63,282.70 L496.44,281.70 L496.25,280.70 L496.05,279.70 L495.84,278.70 L495.62,277.70 L495.37,276.70 L495.11,275.70 L494.85,274.70 L494.58,273.70 L494.31,272.70 L494.03,271.70 L493.72,270.70 L493.50,269.70 L493.39,268.70 L493.31,267.70 L493.24,266.70 L493.18,265.70 L493.12,264.70 L493.06,263.70 L493.00,262.70 L492.94,261.70 L492.89,260.70 L492.84,259.70 L492.80,258.70 L492.76,257.70 L492.73,256.70 L492.70,255.70Z" fill="#dcdcdc" stroke="#333333" stroke-width="1.4" stroke-linejoin="round"/>
<line x1="492.7" y1="276.7" x2="492.7" y2="354.5" stroke="#222" stroke-opacity="0.8" stroke-width="1.4"/>
<rect x="491.65" y="304.3" width="2.1" height="20.00" fill="#dcdcdc" stroke="#333333" stroke-width="0.9"/>
<line x1="491.65" y1="316.5" x2="493.75" y2="316.5" stroke="#333333" stroke-width="1.4"/>
<path d="M524.30,263.90 L524.30,264.90 L524.30,265.90 L524.30,266.90 L524.30,267.90 L524.29,268.90 L524.29,269.90 L524.29,270.90 L524.28,271.90 L524.28,272.90 L524.27,273.90 L524.26,274.90 L524.25,275.90 L524.24,276.90 L524.23,277.90 L524.22,278.90 L524.21,279.90 L524.19,280.90 L524.18,281.90 L524.16,282.90 L524.14,283.90 L524.12,284.90 L524.10,285.90 L524.08,286.90 L524.06,287.90 L524.03,288.90 L524.00,289.90 L523.91,290.90 L523.70,291.90 L523.41,292.90 L523.10,293.90 L522.67,294.90 L522.13,295.90 L521.58,296.90 L521.08,297.90 L520.70,298.90 L520.43,299.90 L520.21,300.90 L520.00,301.90 L519.75,302.90 L519.43,303.90 L518.98,304.90 L518.45,305.90 L517.88,306.90 L517.32,307.90 L516.73,308.90 L516.14,309.90 L515.56,310.90 L514.96,311.90 L514.51,312.90 L514.66,313.90 L515.14,314.90 L515.75,315.90 L516.36,316.90 L516.98,317.90 L517.68,318.90 L518.39,319.90 L519.07,320.90 L519.73,321.90 L520.39,322.90 L521.04,323.90 L521.72,324.90 L522.47,325.90 L523.15,326.90 L523.58,327.90 L523.77,328.90 L523.93,329.90 L524.06,330.90 L524.17,331.90 L524.25,332.90 L524.29,333.90 L524.30,334.60 L524.30,334.60 L524.31,333.90 L524.35,332.90 L524.43,331.90 L524.54,330.90 L524.67,329.90 L524.83,328.90 L525.02,327.90 L525.45,326.90 L526.13,325.90 L526.88,324.90 L527.56,323.90 L528.21,322.90 L528.87,321.90 L529.53,320.90 L530.21,319.90 L530.92,318.90 L531.62,317.90 L532.24,316.90 L532.85,315.90 L533.46,314.90 L533.94,313.90 L534.09,312.90 L533.64,311.90 L533.04,310.90 L532.46,309.90 L531.87,308.90 L531.28,307.90 L530.72,306.90 L530.15,305.90 L529.62,304.90 L529.17,303.90 L528.85,302.90 L528.60,301.90 L528.39,300.90 L528.17,299.90 L527.90,298.90 L527.52,297.90 L527.02,296.90 L526.47,295.90 L525.93,294.90 L525.50,293.90 L525.19,292.90 L524.90,291.90 L524.69,290.90 L524.60,289.90 L524.57,288.90 L524.54,287.90 L524.52,286.90 L524.50,285.90 L524.48,284.90 L524.46,283.90 L524.44,282.90 L524.42,281.90 L524.41,280.90 L524.39,279.90 L524.38,278.90 L524.37,277.90 L524.36,276.90 L524.35,275.90 L524.34,274.90 L524.33,273.90 L524.32,272.90 L524.32,271.90 L524.31,270.90 L524.31,269.90 L524.31,268.90 L524.30,267.90 L524.30,266.90 L524.30,265.90 L524.30,264.90 L524.30,263.90Z" fill="#828282" stroke="#333333" stroke-width="1.4" stroke-linejoin="round"/>
<line x1="524.3" y1="298" x2="524.3" y2="324.3" stroke="#222" stroke-opacity="0.8" stroke-width="1.4"/>
<rect x="523.25" y="308.3" width="2.1" height="10.40" fill="#dcdcdc" stroke="#333333" stroke-width="0.9"/>
<line x1="523.25" y1="312.8" x2="525.35" y2="312.8" stroke="#333333" stroke-width="1.4"/>
<circle cx="524.3" cy="274.5" r="2.5" fill="#333333"/>
<path d="M545.90,271.40 L545.90,272.40 L545.89,273.40 L545.87,274.40 L545.86,275.40 L545.83,276.40 L545.80,277.40 L545.76,278.40 L545.72,279.40 L545.68,280.40 L545.63,281.40 L545.57,282.40 L545.51,283.40 L545.44,284.40 L545.37,285.40 L545.30,286.40 L545.22,287.40 L545.10,288.40 L544.92,289.40 L544.66,290.40 L544.37,291.40 L543.92,292.40 L543.33,293.40 L542.72,294.40 L542.20,295.40 L541.72,296.40 L541.25,297.40 L540.80,298.40 L540.41,299.40 L540.07,300.40 L539.75,301.40 L539.46,302.40 L539.21,303.40 L539.00,304.40 L538.84,305.40 L538.70,306.40 L538.57,307.40 L538.47,308.40 L538.41,309.40 L538.40,310.40 L538.45,311.40 L538.53,312.40 L538.65,313.40 L538.80,314.40 L539.01,315.40 L539.45,316.40 L540.01,317.40 L540.69,318.40 L541.34,319.40 L541.90,320.40 L542.42,321.40 L542.93,322.40 L543.40,323.40 L543.86,324.40 L544.32,325.40 L544.81,326.40 L545.20,327.40 L545.41,328.40 L545.52,329.40 L545.61,330.40 L545.69,331.40 L545.76,332.40 L545.81,333.40 L545.85,334.40 L545.88,335.40 L545.90,336.40 L545.90,337.00 L545.90,337.00 L545.90,336.40 L545.92,335.40 L545.95,334.40 L545.99,333.40 L546.04,332.40 L546.11,331.40 L546.19,330.40 L546.28,329.40 L546.39,328.40 L546.60,327.40 L546.99,326.40 L547.48,325.40 L547.94,324.40 L548.40,323.40 L548.87,322.40 L549.38,321.40 L549.90,320.40 L550.46,319.40 L551.11,318.40 L551.79,317.40 L552.35,316.40 L552.79,315.40 L553.00,314.40 L553.15,313.40 L553.27,312.40 L553.35,311.40 L553.40,310.40 L553.39,309.40 L553.33,308.40 L553.23,307.40 L553.10,306.40 L552.96,305.40 L552.80,304.40 L552.59,303.40 L552.34,302.40 L552.05,301.40 L551.73,300.40 L551.39,299.40 L551.00,298.40 L550.55,297.40 L550.08,296.40 L549.60,295.40 L549.08,294.40 L548.47,293.40 L547.88,292.40 L547.43,291.40 L547.14,290.40 L546.88,289.40 L546.70,288.40 L546.58,287.40 L546.50,286.40 L546.43,285.40 L546.36,284.40 L546.29,283.40 L546.23,282.40 L546.17,281.40 L546.12,280.40 L546.08,279.40 L546.04,278.40 L546.00,277.40 L545.97,276.40 L545.94,275.40 L545.93,274.40 L545.91,273.40 L545.90,272.40 L545.90,271.40Z" fill="#dcdcdc" stroke="#333333" stroke-width="1.4" stroke-linejoin="round"/>
<line x1="545.9" y1="290" x2="545.9" y2="324" stroke="#222" stroke-opacity="0.8" stroke-width="1.4"/>
<rect x="544.85" y="302" width="2.1" height="12.60" fill="#9a9a9a" stroke="#333333" stroke-width="0.9"/>
<line x1="544.85" y1="309" x2="546.95" y2="309" stroke="#333333" stroke-width="1.4"/>
<circle cx="545.9" cy="283.2" r="2.5" fill="#333333"/>
<path d="M577.50,238.20 L577.50,239.20 L577.50,240.20 L577.49,241.20 L577.49,242.20 L577.48,243.20 L577.48,244.20 L577.47,245.20 L577.46,246.20 L577.45,247.20 L577.44,248.20 L577.43,249.20 L577.42,250.20 L577.40,251.20 L577.39,252.20 L577.37,253.20 L577.35,254.20 L577.33,255.20 L577.32,256.20 L577.30,257.20 L577.27,258.20 L577.25,259.20 L577.23,260.20 L577.20,261.20 L577.17,262.20 L577.13,263.20 L577.06,264.20 L576.99,265.20 L576.92,266.20 L576.84,267.20 L576.76,268.20 L576.67,269.20 L576.58,270.20 L576.48,271.20 L576.38,272.20 L576.28,273.20 L576.18,274.20 L576.09,275.20 L576.00,276.20 L575.91,277.20 L575.80,278.20 L575.67,279.20 L575.46,280.20 L575.22,281.20 L575.03,282.20 L574.95,283.20 L574.89,284.20 L574.85,285.20 L574.81,286.20 L574.78,287.20 L574.73,288.20 L574.68,289.20 L574.61,290.20 L574.53,291.20 L574.45,292.20 L574.36,293.20 L574.27,294.20 L574.18,295.20 L574.09,296.20 L574.00,297.20 L573.91,298.20 L573.81,299.20 L573.71,300.20 L573.62,301.20 L573.52,302.20 L573.41,303.20 L573.30,304.20 L573.20,305.20 L573.10,306.20 L573.03,307.20 L572.98,308.20 L572.93,309.20 L572.89,310.20 L572.85,311.20 L572.82,312.20 L572.80,313.20 L572.80,314.20 L572.85,315.20 L572.94,316.20 L573.06,317.20 L573.19,318.20 L573.32,319.20 L573.49,320.20 L573.68,321.20 L573.89,322.20 L574.11,323.20 L574.33,324.20 L574.57,325.20 L574.83,326.20 L575.12,327.20 L575.41,328.20 L575.69,329.20 L575.96,330.20 L576.19,331.20 L576.44,332.20 L576.69,333.20 L576.90,334.20 L577.05,335.20 L577.11,336.20 L577.14,337.20 L577.16,338.20 L577.18,339.20 L577.20,340.20 L577.21,341.20 L577.23,342.20 L577.24,343.20 L577.25,344.20 L577.26,345.20 L577.27,346.20 L577.28,347.20 L577.28,348.20 L577.29,349.20 L577.30,350.20 L577.31,351.20 L577.32,352.20 L577.33,353.20 L577.34,354.20 L577.35,355.20 L577.36,356.20 L577.37,357.20 L577.37,358.20 L577.38,359.20 L577.39,360.20 L577.40,361.20 L577.41,362.20 L577.42,363.20 L577.42,364.20 L577.43,365.20 L577.44,366.20 L577.44,367.20 L577.45,368.20 L577.46,369.20 L577.46,370.20 L577.47,371.20 L577.47,372.20 L577.48,373.20 L577.48,374.20 L577.49,375.20 L577.49,376.20 L577.49,377.20 L577.50,378.20 L577.50,379.20 L577.50,380.20 L577.50,380.30 L577.50,380.30 L577.50,380.20 L577.50,379.20 L577.50,378.20 L577.51,377.20 L577.51,376.20 L577.51,375.20 L577.52,374.20 L577.52,373.20 L577.53,372.20 L577.53,371.20 L577.54,370.20 L577.54,369.20 L577.55,368.20 L577.56,367.20 L577.56,366.20 L577.57,365.20 L577.58,364.20 L577.58,363.20 L577.59,362.20 L577.60,361.20 L577.61,360.20 L577.62,359.20 L577.63,358.20 L577.63,357.20 L577.64,356.20 L577.65,355.20 L577.66,354.20 L577.67,353.20 L577.68,352.20 L577.69,351.20 L577.70,350.20 L577.71,349.20 L577.72,348.20 L577.72,347.20 L577.73,346.20 L577.74,345.20 L577.75,344.20 L577.76,343.20 L577.77,342.20 L577.79,341.20 L577.80,340.20 L577.82,339.20 L577.84,338.20 L577.86,337.20 L577.89,336.20 L577.95,335.20 L578.10,334.20 L578.31,333.20 L578.56,332.20 L578.81,331.20 L579.04,330.20 L579.31,329.20 L579.59,328.20 L579.88,327.20 L580.17,326.20 L580.43,325.20 L580.67,324.20 L580.89,323.20 L581.11,322.20 L581.32,321.20 L581.51,320.20 L581.68,319.20 L581.81,318.20 L581.94,317.20 L582.06,316.20 L582.15,315.20 L582.20,314.20 L582.20,313.20 L582.18,312.20 L582.15,311.20 L582.11,310.20 L582.07,309.20 L582.02,308.20 L581.97,307.20 L581.90,306.20 L581.80,305.20 L581.70,304.20 L581.59,303.20 L581.48,302.20 L581.38,301.20 L581.29,300.20 L581.19,299.20 L581.09,298.20 L581.00,297.20 L580.91,296.20 L580.82,295.20 L580.73,294.20 L580.64,293.20 L580.55,292.20 L580.47,291.20 L580.39,290.20 L580.32,289.20 L580.27,288.20 L580.22,287.20 L580.19,286.20 L580.15,285.20 L580.11,284.20 L580.05,283.20 L579.97,282.20 L579.78,281.20 L579.54,280.20 L579.33,279.20 L579.20,278.20 L579.09,277.20 L579.00,276.20 L578.91,275.20 L578.82,274.20 L578.72,273.20 L578.62,272.20 L578.52,271.20 L578.42,270.20 L578.33,269.20 L578.24,268.20 L578.16,267.20 L578.08,266.20 L578.01,265.20 L577.94,264.20 L577.87,263.20 L577.83,262.20 L577.80,261.20 L577.77,260.20 L577.75,259.20 L577.73,258.20 L577.70,257.20 L577.68,256.20 L577.67,255.20 L577.65,254.20 L577.63,253.20 L577.61,252.20 L577.60,251.20 L577.58,250.20 L577.57,249.20 L577.56,248.20 L577.55,247.20 L577.54,246.20 L577.53,245.20 L577.52,244.20 L577.52,243.20 L577.51,242.20 L577.51,241.20 L577.50,240.20 L577.50,239.20 L577.50,238.20Z" fill="#828282" stroke="#333333" stroke-width="1.4" stroke-linejoin="round"/>
<line x1="577.5" y1="266" x2="577.5" y2="331.5" stroke="#222" stroke-opacity="0.8" stroke-width="1.4"/>
<rect x="576.45" y="294.5" width="2.1" height="23.80" fill="#dcdcdc" stroke="#333333" stroke-width="0.9"/>
<line x1="576.45" y1="311" x2="578.55" y2="311" stroke="#333333" stroke-width="1.4"/>
<path d="M599.20,245.20 L599.20,246.20 L599.20,247.20 L599.20,248.20 L599.20,249.20 L599.20,250.20 L599.20,251.20 L599.20,252.20 L599.20,253.20 L599.19,254.20 L599.19,255.20 L599.19,256.20 L599.19,257.20 L599.19,258.20 L599.19,259.20 L599.18,260.20 L599.18,261.20 L599.18,262.20 L599.17,263.20 L599.17,264.20 L599.17,265.20 L599.16,266.20 L599.16,267.20 L599.15,268.20 L599.15,269.20 L599.14,270.20 L599.14,271.20 L599.13,272.20 L599.12,273.20 L599.12,274.20 L599.11,275.20 L599.10,276.20 L599.09,277.20 L599.08,278.20 L599.07,279.20 L599.06,280.20 L599.05,281.20 L599.04,282.20 L599.03,283.20 L599.02,284.20 L599.01,285.20 L598.99,286.20 L598.98,287.20 L598.97,288.20 L598.95,289.20 L598.94,290.20 L598.92,291.20 L598.91,292.20 L598.87,293.20 L598.73,294.20 L598.51,295.20 L598.25,296.20 L597.93,297.20 L597.47,298.20 L596.90,299.20 L596.26,300.20 L595.42,301.20 L594.42,302.20 L593.41,303.20 L592.54,304.20 L591.71,305.20 L590.93,306.20 L590.31,307.20 L589.93,308.20 L589.63,309.20 L589.50,310.20 L589.63,311.20 L589.97,312.20 L590.42,313.20 L590.91,314.20 L591.63,315.20 L592.17,316.20 L592.51,317.20 L592.79,318.20 L593.09,319.20 L593.47,320.20 L593.90,321.20 L594.36,322.20 L594.84,323.20 L595.35,324.20 L595.89,325.20 L596.53,326.20 L597.15,327.20 L597.66,328.20 L598.05,329.20 L598.39,330.20 L598.65,331.20 L598.81,332.20 L598.95,333.20 L599.07,334.20 L599.16,335.20 L599.20,336.20 L599.20,336.50 L599.20,336.50 L599.20,336.20 L599.24,335.20 L599.33,334.20 L599.45,333.20 L599.59,332.20 L599.75,331.20 L600.01,330.20 L600.35,329.20 L600.74,328.20 L601.25,327.20 L601.87,326.20 L602.51,325.20 L603.05,324.20 L603.56,323.20 L604.04,322.20 L604.50,321.20 L604.93,320.20 L605.31,319.20 L605.61,318.20 L605.89,317.20 L606.23,316.20 L606.77,315.20 L607.49,314.20 L607.98,313.20 L608.43,312.20 L608.77,311.20 L608.90,310.20 L608.77,309.20 L608.47,308.20 L608.09,307.20 L607.47,306.20 L606.69,305.20 L605.86,304.20 L604.99,303.20 L603.98,302.20 L602.98,301.20 L602.14,300.20 L601.50,299.20 L600.93,298.20 L600.47,297.20 L600.15,296.20 L599.89,295.20 L599.67,294.20 L599.53,293.20 L599.49,292.20 L599.48,291.20 L599.46,290.20 L599.45,289.20 L599.43,288.20 L599.42,287.20 L599.41,286.20 L599.39,285.20 L599.38,284.20 L599.37,283.20 L599.36,282.20 L599.35,281.20 L599.34,280.20 L599.33,279.20 L599.32,278.20 L599.31,277.20 L599.30,276.20 L599.29,275.20 L599.28,274.20 L599.28,273.20 L599.27,272.20 L599.26,271.20 L599.26,270.20 L599.25,269.20 L599.25,268.20 L599.24,267.20 L599.24,266.20 L599.23,265.20 L599.23,264.20 L599.23,263.20 L599.22,262.20 L599.22,261.20 L599.22,260.20 L599.21,259.20 L599.21,258.20 L599.21,257.20 L599.21,256.20 L599.21,255.20 L599.21,254.20 L599.20,253.20 L599.20,252.20 L599.20,251.20 L599.20,250.20 L599.20,249.20 L599.20,248.20 L599.20,247.20 L599.20,246.20 L599.20,245.20Z" fill="#dcdcdc" stroke="#333333" stroke-width="1.4" stroke-linejoin="round"/>
<line x1="599.2" y1="297" x2="599.2" y2="324" stroke="#222" stroke-opacity="0.8" stroke-width="1.4"/>
<rect x="598.15" y="306.4" width="2.1" height="11.20" fill="#dcdcdc" stroke="#333333" stroke-width="0.9"/>
<line x1="598.15" y1="310.2" x2="600.25" y2="310.2" stroke="#333333" stroke-width="1.4"/>
<circle cx="599.2" cy="257" r="2.5" fill="#333333"/>
<circle cx="599.2" cy="286.6" r="2.5" fill="#333333"/>
<line x1="470.5" y1="222.7" x2="490.85" y2="222.7" stroke="#222" stroke-width="1.9"/>
<text x="479.9" y="222.05" font-size="10.7" font-weight="bold" text-anchor="middle" fill="#1c1c1c">***</text>
</svg>
</body>
</html>
